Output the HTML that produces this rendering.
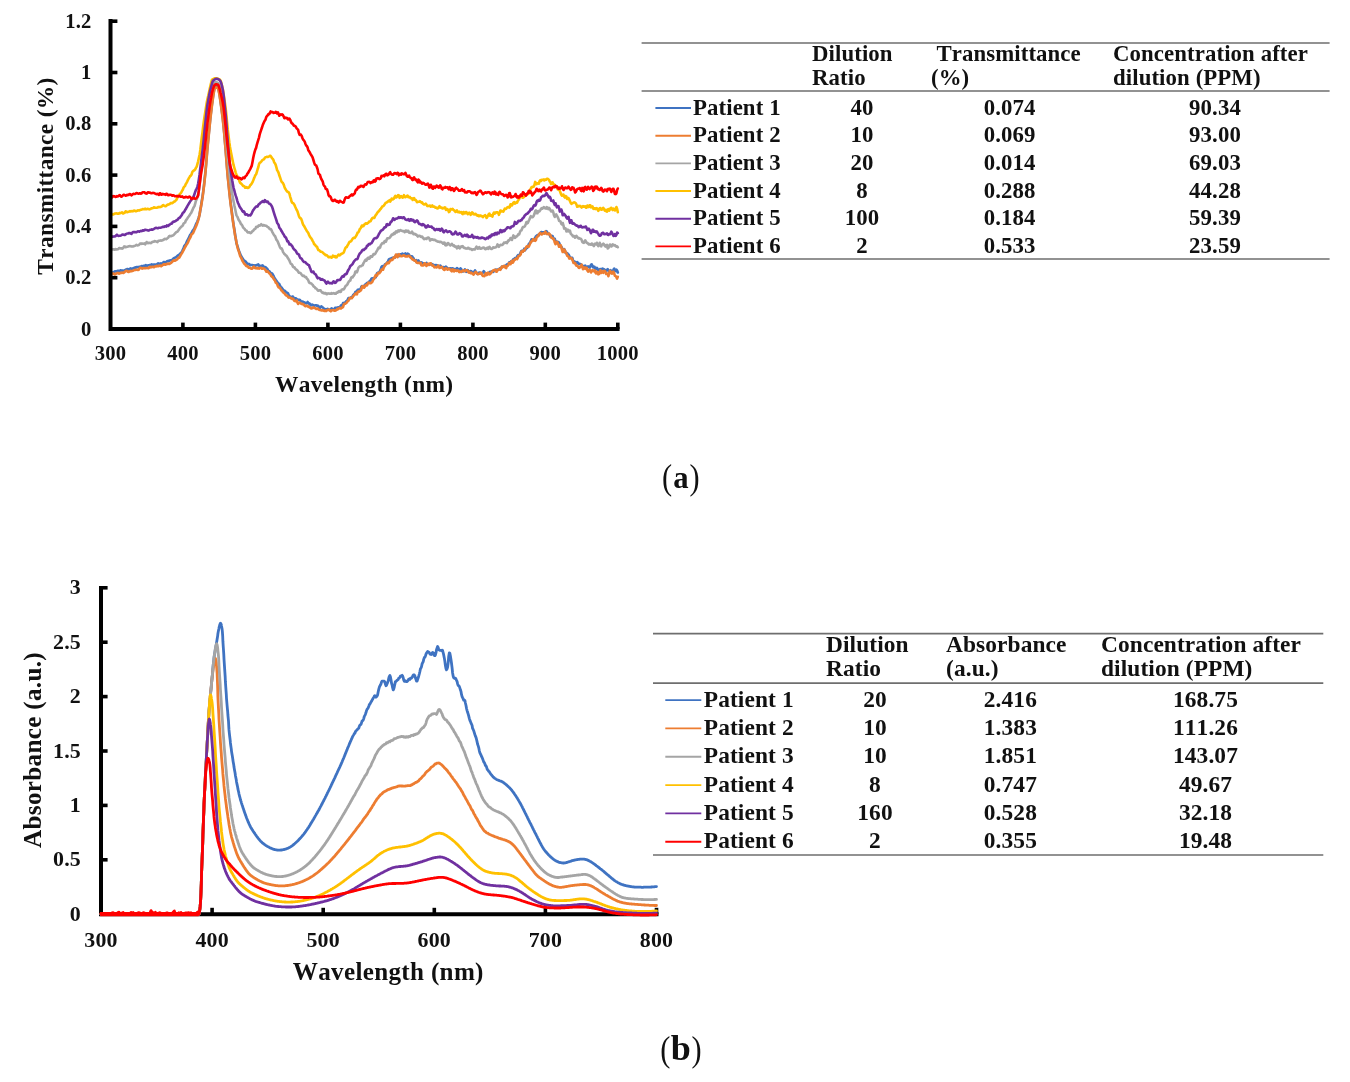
<!DOCTYPE html>
<html><head><meta charset="utf-8"><title>Figure</title>
<style>
html,body{margin:0;padding:0;background:#fff;}
body{width:1350px;height:1082px;overflow:hidden;position:relative;font-family:"Liberation Serif",serif;}
svg{position:absolute;left:0;top:0;display:block;filter:blur(0.4px);}
text{font-family:"Liberation Serif",serif;fill:#111;}
.b{font-weight:bold;}
text{font-kerning:none;}
.ax{font-weight:bold;font-size:20.6px;letter-spacing:0.2px;}
.axb{font-weight:bold;font-size:21.9px;letter-spacing:0.2px;}
.ttl{font-weight:bold;font-size:23.4px;letter-spacing:0.33px;}
.ttlb{font-weight:bold;font-size:25.1px;letter-spacing:0.33px;}
.tb{font-weight:bold;font-size:22.8px;letter-spacing:0.1px;}
.tbb{font-weight:bold;font-size:23.4px;letter-spacing:0.1px;}
.cap{font-size:32px;}
.ln{fill:none;stroke-linejoin:round;stroke-linecap:round;}
</style></head><body>
<svg width="1350" height="1082" viewBox="0 0 1350 1082">
<rect x="0" y="0" width="1350" height="1082" fill="#ffffff"/>
<g id="chart-a">
<polyline class="ln" stroke="#3F73C2" stroke-width="2.6" points="110.4,272.5 111.1,272.4 111.8,272.6 112.6,272.5 113.3,272.3 114.0,272.0 114.7,271.3 115.5,271.3 116.2,271.6 116.9,271.2 117.6,270.8 118.4,270.8 119.1,271.0 119.8,270.9 120.5,270.3 121.3,270.5 122.0,270.6 122.7,270.6 123.4,270.7 124.2,270.5 124.9,270.1 125.6,269.8 126.3,269.6 127.1,269.1 127.8,269.0 128.5,269.6 129.2,269.5 130.0,268.7 130.7,268.4 131.4,268.7 132.1,268.7 132.9,268.4 133.6,268.3 134.3,267.7 135.0,267.5 135.8,267.7 136.5,267.1 137.2,267.1 137.9,267.2 138.7,266.9 139.4,266.7 140.1,267.0 140.8,266.8 141.6,266.0 142.3,266.3 143.0,266.4 143.7,265.8 144.5,266.1 145.2,265.5 145.9,265.0 146.6,265.8 147.4,265.8 148.1,265.3 148.8,265.2 149.5,265.1 150.3,265.0 151.0,264.9 151.7,264.4 152.4,264.6 153.2,264.8 153.9,264.6 154.6,264.5 155.3,264.6 156.1,264.7 156.8,264.3 157.5,263.8 158.2,263.3 159.0,263.7 159.7,264.1 160.4,263.4 161.1,263.6 161.9,263.7 162.6,263.0 163.3,262.4 164.0,262.0 164.8,262.2 165.5,262.3 166.2,262.0 166.9,261.3 167.7,261.1 168.4,261.3 169.1,260.8 169.8,260.5 170.6,260.3 171.3,260.2 172.0,259.8 172.7,259.3 173.5,258.6 174.2,257.9 174.9,257.7 175.6,257.3 176.4,256.9 177.1,256.2 177.8,255.6 178.5,255.1 179.3,254.7 180.0,253.9 180.7,253.1 181.4,252.7 182.2,251.1 182.9,249.6 183.6,248.2 184.3,246.0 185.1,244.9 185.8,244.3 186.5,242.5 187.2,240.8 188.0,239.4 188.7,238.2 189.4,236.5 190.1,234.9 190.9,234.0 191.6,232.9 192.3,231.3 193.0,230.4 193.8,229.1 194.5,227.8 195.2,226.2 195.9,224.4 196.7,223.0 197.4,221.4 198.1,219.4 198.8,217.3 199.6,214.5 200.3,210.2 201.0,206.3 201.7,201.4 202.5,196.6 203.2,191.4 203.9,185.9 204.6,179.4 205.4,171.8 206.1,163.8 206.8,155.2 207.5,146.5 208.3,138.5 209.0,131.3 209.7,124.3 210.4,117.4 211.2,110.6 211.9,104.5 212.6,99.5 213.3,94.6 214.1,90.0 214.8,86.9 215.5,86.1 216.2,86.1 217.0,86.3 217.7,86.5 218.4,88.3 219.1,92.0 219.9,96.7 220.6,101.6 221.3,106.5 222.0,112.1 222.8,118.4 223.5,125.1 224.2,132.4 224.9,140.9 225.7,150.1 226.4,159.1 227.1,167.8 227.8,176.3 228.6,183.9 229.3,190.6 230.0,197.3 230.7,203.4 231.5,209.1 232.2,214.8 232.9,220.1 233.6,225.0 234.4,229.6 235.1,234.5 235.8,239.0 236.5,243.3 237.3,245.7 238.0,247.9 238.7,250.3 239.4,252.0 240.2,254.0 240.9,255.7 241.6,256.8 242.3,258.0 243.1,259.4 243.8,260.3 244.5,260.7 245.2,261.2 246.0,262.0 246.7,263.0 247.4,264.2 248.1,264.2 248.9,263.8 249.6,264.6 250.3,265.1 251.0,265.0 251.8,265.0 252.5,265.0 253.2,265.5 253.9,265.3 254.7,265.5 255.4,265.8 256.1,265.2 256.8,265.2 257.6,264.7 258.3,264.4 259.0,265.5 259.7,266.7 260.5,266.0 261.2,265.7 261.9,266.0 262.6,265.4 263.4,266.2 264.1,267.6 264.8,267.4 265.5,267.1 266.3,267.9 267.0,268.5 267.7,269.5 268.4,270.8 269.2,271.2 269.9,271.8 270.6,273.0 271.3,273.2 272.1,273.5 272.8,274.5 273.5,275.9 274.2,277.4 275.0,278.6 275.7,279.9 276.4,280.6 277.1,281.8 277.9,282.9 278.6,283.6 279.3,284.1 280.0,285.7 280.8,287.1 281.5,287.4 282.2,288.5 282.9,289.7 283.7,290.6 284.4,290.5 285.1,291.0 285.8,291.9 286.6,292.6 287.3,292.8 288.0,293.3 288.7,295.2 289.5,296.0 290.2,296.5 290.9,298.0 291.6,297.9 292.3,296.5 293.1,296.8 293.8,298.2 294.5,299.0 295.2,298.4 296.0,298.3 296.7,299.1 297.4,299.5 298.1,299.9 298.9,299.8 299.6,299.9 300.3,300.4 301.0,301.4 301.8,301.5 302.5,301.6 303.2,301.7 303.9,302.2 304.7,302.9 305.4,302.7 306.1,303.4 306.8,302.9 307.6,302.0 308.3,303.2 309.0,303.7 309.7,303.5 310.5,305.2 311.2,305.4 311.9,304.6 312.6,304.8 313.4,305.5 314.1,305.8 314.8,305.6 315.5,305.2 316.3,305.2 317.0,305.9 317.7,305.6 318.4,306.1 319.2,307.1 319.9,307.9 320.6,307.3 321.3,306.4 322.1,307.0 322.8,307.5 323.5,308.2 324.2,308.7 325.0,309.1 325.7,309.6 326.4,309.7 327.1,309.0 327.9,308.9 328.6,309.5 329.3,310.0 330.0,310.1 330.8,309.0 331.5,308.4 332.2,308.9 332.9,309.1 333.7,309.4 334.4,309.0 335.1,307.9 335.8,307.8 336.6,308.0 337.3,307.7 338.0,307.2 338.7,307.6 339.5,307.4 340.2,306.6 340.9,305.6 341.6,305.1 342.4,304.7 343.1,303.1 343.8,302.9 344.5,303.2 345.3,302.4 346.0,301.4 346.7,301.3 347.4,300.4 348.2,298.4 348.9,298.0 349.6,298.4 350.3,298.1 351.1,297.3 351.8,296.8 352.5,296.8 353.2,295.0 354.0,294.3 354.7,293.7 355.4,291.9 356.1,291.6 356.9,291.4 357.6,290.0 358.3,289.6 359.0,290.2 359.8,290.1 360.5,289.1 361.2,287.1 361.9,286.1 362.7,286.6 363.4,286.9 364.1,286.0 364.8,284.9 365.6,284.2 366.3,283.7 367.0,283.0 367.7,282.7 368.5,282.3 369.2,281.6 369.9,281.0 370.6,280.4 371.4,278.8 372.1,278.2 372.8,278.4 373.5,278.8 374.3,277.9 375.0,277.3 375.7,277.3 376.4,275.0 377.2,273.1 377.9,272.7 378.6,272.9 379.3,272.1 380.1,270.6 380.8,269.2 381.5,266.8 382.2,266.1 383.0,266.7 383.7,266.6 384.4,265.4 385.1,264.2 385.9,264.0 386.6,263.2 387.3,262.5 388.0,261.3 388.8,259.5 389.5,258.9 390.2,259.1 390.9,258.7 391.7,258.0 392.4,258.0 393.1,257.6 393.8,257.6 394.6,257.8 395.3,256.4 396.0,255.5 396.7,255.5 397.5,254.6 398.2,255.4 398.9,256.2 399.6,255.1 400.4,254.3 401.1,254.5 401.8,254.0 402.5,253.6 403.3,254.7 404.0,255.3 404.7,254.2 405.4,253.4 406.2,254.9 406.9,254.6 407.6,253.6 408.3,253.9 409.1,254.9 409.8,256.2 410.5,257.1 411.2,256.2 412.0,256.2 412.7,257.3 413.4,258.1 414.1,259.4 414.9,260.5 415.6,261.2 416.3,260.1 417.0,260.9 417.8,261.1 418.5,260.5 419.2,261.9 419.9,262.6 420.7,262.5 421.4,262.4 422.1,262.7 422.8,263.3 423.6,263.3 424.3,263.6 425.0,264.3 425.7,264.0 426.5,262.9 427.2,263.9 427.9,264.5 428.6,264.2 429.4,264.9 430.1,264.2 430.8,264.1 431.5,263.9 432.3,264.2 433.0,265.0 433.7,264.8 434.4,265.6 435.2,265.3 435.9,265.1 436.6,265.3 437.3,265.3 438.1,266.4 438.8,266.6 439.5,266.1 440.2,265.6 441.0,266.3 441.7,267.0 442.4,267.6 443.1,267.3 443.9,267.1 444.6,268.6 445.3,268.2 446.0,266.6 446.8,267.6 447.5,269.0 448.2,268.6 448.9,268.8 449.7,268.3 450.4,268.2 451.1,269.0 451.8,268.3 452.6,268.4 453.3,268.6 454.0,268.9 454.7,269.9 455.5,270.6 456.2,268.9 456.9,268.1 457.6,269.2 458.4,269.1 459.1,269.3 459.8,269.4 460.5,268.4 461.3,269.2 462.0,271.3 462.7,271.4 463.4,271.4 464.2,270.5 464.9,269.3 465.6,270.4 466.3,271.9 467.1,271.6 467.8,270.1 468.5,271.7 469.2,272.3 470.0,271.3 470.7,271.1 471.4,271.2 472.1,272.2 472.9,272.5 473.6,273.0 474.3,271.4 475.0,270.4 475.7,271.7 476.5,272.8 477.2,273.9 477.9,273.7 478.6,272.7 479.4,272.6 480.1,272.8 480.8,273.5 481.5,273.6 482.3,273.0 483.0,272.3 483.7,271.1 484.4,272.0 485.2,273.6 485.9,273.5 486.6,273.3 487.3,273.6 488.1,273.1 488.8,273.1 489.5,272.5 490.2,271.7 491.0,271.7 491.7,271.4 492.4,271.8 493.1,272.0 493.9,271.3 494.6,270.8 495.3,270.1 496.0,269.5 496.8,270.1 497.5,269.8 498.2,269.4 498.9,269.5 499.7,268.5 500.4,269.1 501.1,268.6 501.8,266.8 502.6,266.6 503.3,266.6 504.0,266.3 504.7,266.3 505.5,265.8 506.2,265.1 506.9,264.4 507.6,264.4 508.4,263.8 509.1,262.5 509.8,262.2 510.5,262.1 511.3,261.1 512.0,261.4 512.7,261.0 513.4,259.2 514.2,258.8 514.9,258.1 515.6,258.2 516.3,258.0 517.1,256.5 517.8,255.4 518.5,255.0 519.2,255.5 520.0,254.6 520.7,252.1 521.4,251.0 522.1,250.8 522.9,251.7 523.6,250.5 524.3,248.7 525.0,250.3 525.8,249.1 526.5,247.7 527.2,248.0 527.9,246.7 528.7,244.3 529.4,243.3 530.1,243.2 530.8,241.0 531.6,239.3 532.3,239.7 533.0,240.1 533.7,240.1 534.5,239.7 535.2,237.8 535.9,236.4 536.6,236.0 537.4,235.0 538.1,235.0 538.8,235.3 539.5,233.8 540.3,232.9 541.0,232.3 541.7,232.0 542.4,232.5 543.2,232.2 543.9,232.4 544.6,233.5 545.3,232.3 546.1,231.2 546.8,231.5 547.5,232.9 548.2,233.8 549.0,233.7 549.7,234.7 550.4,236.7 551.1,237.2 551.9,235.8 552.6,236.2 553.3,238.1 554.0,239.1 554.8,238.9 555.5,241.7 556.2,243.1 556.9,241.7 557.7,242.0 558.4,242.1 559.1,242.7 559.8,244.5 560.6,246.1 561.3,246.6 562.0,248.2 562.7,249.6 563.5,249.5 564.2,249.0 564.9,250.5 565.6,252.8 566.4,253.3 567.1,253.0 567.8,253.9 568.5,254.5 569.3,255.9 570.0,257.7 570.7,257.9 571.4,257.9 572.2,257.7 572.9,260.0 573.6,262.1 574.3,261.4 575.1,261.8 575.8,263.7 576.5,263.0 577.2,262.0 578.0,262.9 578.7,264.0 579.4,263.9 580.1,264.0 580.9,264.3 581.6,265.0 582.3,266.6 583.0,266.0 583.8,266.1 584.5,266.0 585.2,265.5 585.9,266.8 586.7,267.1 587.4,266.8 588.1,266.4 588.8,266.7 589.6,267.8 590.3,266.6 591.0,264.8 591.7,264.3 592.5,266.1 593.2,267.5 593.9,266.6 594.6,267.0 595.4,268.9 596.1,268.9 596.8,267.9 597.5,268.7 598.3,270.4 599.0,271.0 599.7,269.4 600.4,269.0 601.2,269.7 601.9,269.0 602.6,268.6 603.3,269.1 604.1,269.3 604.8,269.8 605.5,270.6 606.2,270.8 607.0,269.8 607.7,269.2 608.4,270.8 609.1,271.2 609.9,270.9 610.6,270.2 611.3,271.4 612.0,272.9 612.8,272.1 613.5,269.5 614.2,268.6 614.9,270.8 615.7,271.1 616.4,269.6 617.1,270.5 617.8,272.5"/>
<polyline class="ln" stroke="#ED7D31" stroke-width="2.6" points="110.4,274.5 111.1,274.7 111.8,274.2 112.6,273.4 113.3,273.6 114.0,273.8 114.7,274.4 115.5,274.2 116.2,273.5 116.9,273.4 117.6,273.0 118.4,273.1 119.1,273.7 119.8,273.3 120.5,272.9 121.3,272.9 122.0,272.8 122.7,272.6 123.4,273.0 124.2,272.4 124.9,271.5 125.6,271.4 126.3,270.7 127.1,270.9 127.8,271.8 128.5,272.0 129.2,271.6 130.0,271.4 130.7,270.9 131.4,271.2 132.1,271.0 132.9,270.7 133.6,270.5 134.3,270.0 135.0,270.0 135.8,269.9 136.5,269.8 137.2,269.8 137.9,270.0 138.7,269.7 139.4,268.6 140.1,267.9 140.8,267.9 141.6,268.1 142.3,268.6 143.0,268.3 143.7,268.0 144.5,268.3 145.2,268.3 145.9,268.1 146.6,268.0 147.4,268.0 148.1,268.1 148.8,268.1 149.5,267.0 150.3,266.8 151.0,267.4 151.7,267.1 152.4,266.7 153.2,267.1 153.9,267.3 154.6,266.6 155.3,266.3 156.1,266.4 156.8,265.9 157.5,266.0 158.2,266.3 159.0,266.1 159.7,265.5 160.4,265.8 161.1,266.3 161.9,265.7 162.6,265.1 163.3,264.6 164.0,264.2 164.8,264.7 165.5,264.7 166.2,264.1 166.9,264.2 167.7,263.7 168.4,263.6 169.1,264.0 169.8,263.6 170.6,263.1 171.3,262.8 172.0,261.9 172.7,261.3 173.5,260.5 174.2,260.2 174.9,260.7 175.6,260.4 176.4,259.8 177.1,259.4 177.8,258.4 178.5,257.7 179.3,257.6 180.0,256.4 180.7,254.9 181.4,253.9 182.2,252.7 182.9,251.4 183.6,250.2 184.3,248.7 185.1,247.2 185.8,246.0 186.5,244.6 187.2,243.7 188.0,242.4 188.7,240.6 189.4,239.0 190.1,237.9 190.9,236.1 191.6,234.2 192.3,233.8 193.0,233.1 193.8,231.5 194.5,229.6 195.2,228.3 195.9,226.6 196.7,224.8 197.4,222.7 198.1,220.6 198.8,218.1 199.6,214.4 200.3,209.9 201.0,206.5 201.7,202.7 202.5,197.9 203.2,192.6 203.9,187.2 204.6,180.9 205.4,173.2 206.1,165.1 206.8,156.7 207.5,148.2 208.3,140.2 209.0,132.9 209.7,125.7 210.4,118.6 211.2,111.9 211.9,106.1 212.6,100.9 213.3,95.8 214.1,91.0 214.8,87.9 215.5,87.5 216.2,87.5 217.0,87.6 217.7,88.1 218.4,89.7 219.1,93.1 219.9,97.7 220.6,102.7 221.3,107.7 222.0,113.3 222.8,119.5 223.5,126.3 224.2,133.5 224.9,141.9 225.7,151.2 226.4,160.4 227.1,169.3 227.8,177.5 228.6,184.9 229.3,192.1 230.0,198.5 230.7,204.6 231.5,210.5 232.2,215.9 232.9,221.1 233.6,225.7 234.4,231.0 235.1,235.5 235.8,238.7 236.5,242.6 237.3,246.5 238.0,249.3 238.7,250.9 239.4,253.4 240.2,256.1 240.9,257.3 241.6,258.7 242.3,260.5 243.1,261.9 243.8,263.0 244.5,264.0 245.2,264.6 246.0,265.7 246.7,266.3 247.4,266.0 248.1,266.9 248.9,267.8 249.6,267.5 250.3,268.2 251.0,268.6 251.8,268.8 252.5,268.4 253.2,267.1 253.9,266.7 254.7,267.7 255.4,268.3 256.1,268.1 256.8,268.4 257.6,267.8 258.3,268.4 259.0,268.6 259.7,268.1 260.5,267.9 261.2,267.8 261.9,268.7 262.6,268.7 263.4,268.3 264.1,268.8 264.8,269.3 265.5,270.0 266.3,271.7 267.0,271.8 267.7,271.3 268.4,272.3 269.2,273.3 269.9,273.7 270.6,274.6 271.3,276.1 272.1,276.9 272.8,277.1 273.5,278.6 274.2,279.7 275.0,280.6 275.7,282.7 276.4,283.1 277.1,283.9 277.9,286.2 278.6,287.4 279.3,287.5 280.0,287.9 280.8,289.4 281.5,290.5 282.2,290.8 282.9,292.0 283.7,292.8 284.4,293.3 285.1,294.3 285.8,295.2 286.6,295.5 287.3,295.9 288.0,296.8 288.7,297.6 289.5,297.4 290.2,297.6 290.9,298.2 291.6,298.3 292.3,298.9 293.1,298.8 293.8,299.9 294.5,300.9 295.2,301.1 296.0,301.0 296.7,300.4 297.4,302.5 298.1,304.0 298.9,303.1 299.6,302.6 300.3,302.9 301.0,303.6 301.8,304.0 302.5,303.9 303.2,304.4 303.9,304.5 304.7,305.7 305.4,306.2 306.1,305.9 306.8,306.0 307.6,305.8 308.3,306.9 309.0,306.9 309.7,307.2 310.5,308.0 311.2,308.5 311.9,308.4 312.6,307.6 313.4,307.3 314.1,307.9 314.8,308.1 315.5,308.2 316.3,308.9 317.0,308.9 317.7,308.5 318.4,309.1 319.2,309.9 319.9,310.0 320.6,310.0 321.3,310.5 322.1,310.2 322.8,310.1 323.5,310.5 324.2,310.9 325.0,311.0 325.7,310.5 326.4,311.0 327.1,310.2 327.9,309.9 328.6,310.0 329.3,309.6 330.0,310.7 330.8,311.3 331.5,310.6 332.2,310.2 332.9,310.2 333.7,310.1 334.4,310.8 335.1,310.6 335.8,310.5 336.6,310.0 337.3,308.9 338.0,309.2 338.7,308.7 339.5,307.8 340.2,308.0 340.9,308.6 341.6,307.9 342.4,307.5 343.1,306.9 343.8,304.4 344.5,303.8 345.3,303.7 346.0,303.2 346.7,302.7 347.4,301.5 348.2,301.0 348.9,299.9 349.6,298.3 350.3,297.8 351.1,298.1 351.8,298.1 352.5,297.2 353.2,296.2 354.0,295.4 354.7,294.6 355.4,293.5 356.1,293.9 356.9,294.3 357.6,292.1 358.3,291.5 359.0,291.7 359.8,291.0 360.5,290.7 361.2,289.8 361.9,287.1 362.7,286.0 363.4,287.3 364.1,287.7 364.8,286.8 365.6,285.2 366.3,284.9 367.0,285.3 367.7,283.9 368.5,282.5 369.2,282.7 369.9,283.2 370.6,283.3 371.4,282.5 372.1,282.3 372.8,280.8 373.5,279.2 374.3,278.6 375.0,276.5 375.7,275.2 376.4,276.0 377.2,275.3 377.9,273.1 378.6,273.1 379.3,273.3 380.1,272.0 380.8,271.4 381.5,269.6 382.2,269.2 383.0,269.7 383.7,267.7 384.4,266.4 385.1,265.4 385.9,264.4 386.6,263.9 387.3,262.7 388.0,263.2 388.8,263.1 389.5,261.7 390.2,261.0 390.9,259.8 391.7,259.9 392.4,259.9 393.1,258.4 393.8,257.4 394.6,257.9 395.3,256.6 396.0,254.5 396.7,256.3 397.5,257.2 398.2,254.7 398.9,254.2 399.6,255.4 400.4,255.9 401.1,256.2 401.8,256.1 402.5,256.0 403.3,255.4 404.0,255.2 404.7,255.9 405.4,256.4 406.2,256.2 406.9,256.2 407.6,256.5 408.3,255.7 409.1,255.8 409.8,256.6 410.5,257.1 411.2,258.0 412.0,258.8 412.7,259.6 413.4,259.6 414.1,260.6 414.9,260.8 415.6,260.5 416.3,262.2 417.0,262.8 417.8,263.0 418.5,262.9 419.2,263.1 419.9,262.7 420.7,263.0 421.4,265.3 422.1,265.5 422.8,265.5 423.6,265.2 424.3,263.5 425.0,263.3 425.7,264.9 426.5,266.0 427.2,264.2 427.9,263.7 428.6,264.9 429.4,264.6 430.1,263.2 430.8,263.2 431.5,264.8 432.3,265.6 433.0,265.4 433.7,266.2 434.4,267.4 435.2,267.1 435.9,267.2 436.6,267.4 437.3,266.9 438.1,265.5 438.8,266.3 439.5,268.0 440.2,267.7 441.0,267.4 441.7,266.8 442.4,267.5 443.1,268.8 443.9,269.7 444.6,269.9 445.3,268.6 446.0,268.1 446.8,269.2 447.5,269.6 448.2,269.1 448.9,268.6 449.7,269.2 450.4,269.8 451.1,270.7 451.8,271.4 452.6,269.3 453.3,270.1 454.0,271.5 454.7,270.0 455.5,270.2 456.2,271.0 456.9,270.9 457.6,270.5 458.4,270.6 459.1,271.9 459.8,272.1 460.5,271.5 461.3,271.9 462.0,271.3 462.7,270.6 463.4,270.3 464.2,271.2 464.9,271.2 465.6,270.2 466.3,270.2 467.1,270.2 467.8,271.1 468.5,272.3 469.2,271.7 470.0,272.7 470.7,273.2 471.4,272.7 472.1,273.2 472.9,274.2 473.6,274.6 474.3,273.6 475.0,272.5 475.7,271.9 476.5,272.7 477.2,273.6 477.9,274.3 478.6,274.0 479.4,273.8 480.1,273.7 480.8,272.5 481.5,273.0 482.3,275.3 483.0,275.9 483.7,276.0 484.4,276.2 485.2,274.3 485.9,273.2 486.6,275.1 487.3,274.7 488.1,272.6 488.8,273.1 489.5,274.3 490.2,274.0 491.0,273.1 491.7,272.1 492.4,271.2 493.1,270.5 493.9,270.2 494.6,269.7 495.3,269.8 496.0,271.5 496.8,271.7 497.5,270.1 498.2,269.9 498.9,269.2 499.7,268.8 500.4,269.8 501.1,268.2 501.8,266.7 502.6,267.2 503.3,266.7 504.0,265.7 504.7,265.7 505.5,267.8 506.2,268.1 506.9,266.2 507.6,266.0 508.4,265.0 509.1,263.0 509.8,263.0 510.5,264.2 511.3,261.9 512.0,260.8 512.7,262.7 513.4,261.7 514.2,259.9 514.9,260.0 515.6,259.2 516.3,258.4 517.1,259.1 517.8,257.9 518.5,256.0 519.2,255.9 520.0,255.4 520.7,254.3 521.4,251.7 522.1,251.3 522.9,251.6 523.6,250.3 524.3,250.7 525.0,249.3 525.8,247.8 526.5,246.6 527.2,246.2 527.9,246.9 528.7,246.8 529.4,245.2 530.1,243.6 530.8,242.1 531.6,241.4 532.3,240.9 533.0,239.2 533.7,239.1 534.5,240.6 535.2,240.9 535.9,240.2 536.6,237.5 537.4,236.4 538.1,236.2 538.8,234.6 539.5,233.8 540.3,233.0 541.0,234.0 541.7,234.5 542.4,233.9 543.2,233.3 543.9,233.5 544.6,233.4 545.3,231.6 546.1,232.9 546.8,234.0 547.5,233.7 548.2,234.2 549.0,233.5 549.7,234.4 550.4,235.2 551.1,237.3 551.9,237.9 552.6,238.0 553.3,239.2 554.0,239.4 554.8,242.6 555.5,244.2 556.2,242.8 556.9,241.8 557.7,242.7 558.4,244.6 559.1,246.8 559.8,246.8 560.6,245.2 561.3,247.2 562.0,249.8 562.7,252.0 563.5,252.0 564.2,249.4 564.9,250.4 565.6,252.3 566.4,253.2 567.1,255.7 567.8,255.8 568.5,256.7 569.3,258.6 570.0,258.1 570.7,257.9 571.4,258.4 572.2,259.4 572.9,261.0 573.6,263.0 574.3,262.9 575.1,263.0 575.8,264.7 576.5,265.7 577.2,265.5 578.0,266.5 578.7,267.7 579.4,267.9 580.1,267.1 580.9,265.8 581.6,264.7 582.3,266.6 583.0,269.2 583.8,267.5 584.5,267.5 585.2,268.8 585.9,267.6 586.7,267.9 587.4,270.5 588.1,271.6 588.8,270.6 589.6,269.5 590.3,271.2 591.0,272.5 591.7,271.1 592.5,270.0 593.2,271.1 593.9,271.3 594.6,270.4 595.4,272.5 596.1,273.4 596.8,271.7 597.5,272.0 598.3,274.3 599.0,274.1 599.7,271.8 600.4,270.3 601.2,272.9 601.9,272.1 602.6,271.3 603.3,272.8 604.1,270.9 604.8,271.0 605.5,272.0 606.2,274.0 607.0,273.7 607.7,273.5 608.4,276.3 609.1,273.4 609.9,270.8 610.6,271.8 611.3,273.3 612.0,273.7 612.8,271.7 613.5,271.8 614.2,273.3 614.9,275.8 615.7,276.1 616.4,277.1 617.1,278.6 617.8,276.8"/>
<polyline class="ln" stroke="#A5A5A5" stroke-width="2.6" points="110.4,250.3 111.1,249.6 111.8,249.0 112.6,249.5 113.3,249.3 114.0,249.4 114.7,249.7 115.5,249.1 116.2,249.2 116.9,249.4 117.6,249.3 118.4,249.0 119.1,248.0 119.8,248.1 120.5,248.4 121.3,248.3 122.0,248.6 122.7,248.5 123.4,247.6 124.2,246.4 124.9,246.6 125.6,247.3 126.3,247.1 127.1,246.8 127.8,246.7 128.5,246.3 129.2,246.3 130.0,246.1 130.7,246.2 131.4,246.4 132.1,246.5 132.9,246.4 133.6,246.2 134.3,245.9 135.0,245.7 135.8,245.4 136.5,244.9 137.2,245.2 137.9,245.4 138.7,245.1 139.4,244.5 140.1,243.6 140.8,243.5 141.6,243.9 142.3,243.6 143.0,243.8 143.7,243.7 144.5,243.3 145.2,244.4 145.9,243.3 146.6,242.0 147.4,242.9 148.1,243.2 148.8,242.8 149.5,242.7 150.3,243.0 151.0,243.1 151.7,242.4 152.4,242.0 153.2,241.7 153.9,241.6 154.6,241.1 155.3,241.2 156.1,241.6 156.8,241.8 157.5,242.1 158.2,241.0 159.0,240.7 159.7,240.8 160.4,240.4 161.1,240.6 161.9,240.5 162.6,240.1 163.3,240.0 164.0,239.4 164.8,238.8 165.5,239.0 166.2,239.1 166.9,238.6 167.7,238.0 168.4,237.4 169.1,236.2 169.8,235.9 170.6,236.2 171.3,236.1 172.0,235.8 172.7,235.5 173.5,235.1 174.2,234.4 174.9,233.7 175.6,232.7 176.4,232.1 177.1,231.8 177.8,231.4 178.5,230.2 179.3,229.0 180.0,228.2 180.7,227.3 181.4,226.6 182.2,226.0 182.9,225.3 183.6,223.5 184.3,223.0 185.1,222.5 185.8,220.5 186.5,219.6 187.2,218.7 188.0,217.3 188.7,216.5 189.4,215.5 190.1,214.3 190.9,213.3 191.6,211.9 192.3,210.4 193.0,208.7 193.8,207.1 194.5,206.0 195.2,203.7 195.9,200.9 196.7,199.2 197.4,197.2 198.1,194.7 198.8,190.6 199.6,185.1 200.3,179.4 201.0,172.0 201.7,163.8 202.5,156.5 203.2,149.6 203.9,143.0 204.6,136.6 205.4,129.8 206.1,123.3 206.8,117.1 207.5,110.9 208.3,105.7 209.0,101.5 209.7,97.8 210.4,94.3 211.2,91.1 211.9,88.6 212.6,86.6 213.3,84.9 214.1,83.3 214.8,82.1 215.5,82.3 216.2,82.4 217.0,82.5 217.7,82.9 218.4,83.4 219.1,84.8 219.9,87.0 220.6,89.1 221.3,91.7 222.0,94.8 222.8,99.8 223.5,106.9 224.2,115.1 224.9,123.7 225.7,132.6 226.4,141.4 227.1,149.3 227.8,156.3 228.6,163.4 229.3,170.1 230.0,176.8 230.7,183.4 231.5,189.1 232.2,193.7 232.9,197.7 233.6,201.5 234.4,205.6 235.1,208.8 235.8,212.2 236.5,215.4 237.3,216.6 238.0,218.2 238.7,220.0 239.4,220.9 240.2,222.2 240.9,224.0 241.6,224.6 242.3,225.5 243.1,227.4 243.8,228.2 244.5,228.7 245.2,229.9 246.0,230.6 246.7,230.8 247.4,232.1 248.1,232.5 248.9,232.2 249.6,232.5 250.3,233.1 251.0,233.0 251.8,231.9 252.5,231.1 253.2,230.9 253.9,229.8 254.7,229.1 255.4,228.7 256.1,227.0 256.8,226.7 257.6,227.0 258.3,225.9 259.0,225.4 259.7,225.7 260.5,225.1 261.2,224.2 261.9,225.0 262.6,225.7 263.4,225.1 264.1,225.3 264.8,225.5 265.5,225.8 266.3,225.8 267.0,226.4 267.7,227.1 268.4,227.3 269.2,228.4 269.9,229.2 270.6,229.0 271.3,229.7 272.1,231.6 272.8,232.9 273.5,234.2 274.2,235.4 275.0,236.0 275.7,237.8 276.4,239.8 277.1,240.4 277.9,242.0 278.6,243.8 279.3,245.5 280.0,247.3 280.8,248.4 281.5,248.3 282.2,249.4 282.9,251.7 283.7,252.9 284.4,253.9 285.1,254.5 285.8,255.4 286.6,255.9 287.3,257.0 288.0,258.3 288.7,259.3 289.5,260.7 290.2,262.5 290.9,263.8 291.6,264.1 292.3,265.1 293.1,266.9 293.8,267.3 294.5,267.3 295.2,268.7 296.0,269.3 296.7,270.0 297.4,270.4 298.1,271.5 298.9,272.8 299.6,272.7 300.3,272.9 301.0,273.8 301.8,274.8 302.5,275.6 303.2,276.0 303.9,275.7 304.7,276.7 305.4,277.2 306.1,277.0 306.8,278.5 307.6,279.2 308.3,280.4 309.0,282.3 309.7,283.0 310.5,283.1 311.2,283.4 311.9,284.2 312.6,284.7 313.4,286.2 314.1,286.8 314.8,287.1 315.5,288.3 316.3,288.5 317.0,289.3 317.7,290.4 318.4,290.8 319.2,290.6 319.9,290.2 320.6,290.3 321.3,291.5 322.1,292.5 322.8,292.9 323.5,292.6 324.2,293.5 325.0,293.4 325.7,293.0 326.4,294.2 327.1,294.1 327.9,293.4 328.6,293.5 329.3,293.6 330.0,293.8 330.8,293.7 331.5,293.1 332.2,293.6 332.9,293.4 333.7,293.1 334.4,293.5 335.1,293.8 335.8,293.7 336.6,292.5 337.3,292.7 338.0,292.4 338.7,291.2 339.5,291.0 340.2,291.9 340.9,291.7 341.6,289.8 342.4,289.6 343.1,289.2 343.8,289.4 344.5,288.3 345.3,286.6 346.0,285.6 346.7,285.3 347.4,284.4 348.2,282.6 348.9,281.5 349.6,280.8 350.3,280.5 351.1,277.9 351.8,277.0 352.5,277.5 353.2,276.3 354.0,275.6 354.7,273.9 355.4,271.5 356.1,271.6 356.9,272.4 357.6,270.5 358.3,268.0 359.0,267.2 359.8,266.3 360.5,266.2 361.2,266.1 361.9,265.5 362.7,265.3 363.4,263.3 364.1,262.1 364.8,260.8 365.6,259.7 366.3,260.7 367.0,259.8 367.7,257.9 368.5,257.6 369.2,258.7 369.9,258.2 370.6,256.3 371.4,256.2 372.1,256.7 372.8,255.3 373.5,254.0 374.3,254.5 375.0,253.9 375.7,252.9 376.4,251.7 377.2,250.3 377.9,248.9 378.6,247.7 379.3,248.2 380.1,247.5 380.8,245.2 381.5,244.2 382.2,243.2 383.0,242.9 383.7,243.2 384.4,241.5 385.1,240.8 385.9,241.8 386.6,239.9 387.3,238.4 388.0,238.4 388.8,238.1 389.5,238.0 390.2,237.2 390.9,236.0 391.7,234.5 392.4,235.0 393.1,234.3 393.8,233.2 394.6,233.9 395.3,232.4 396.0,231.5 396.7,232.5 397.5,231.1 398.2,230.5 398.9,231.4 399.6,230.8 400.4,230.1 401.1,230.5 401.8,230.8 402.5,231.1 403.3,231.1 404.0,231.2 404.7,232.2 405.4,230.8 406.2,230.5 406.9,231.7 407.6,230.7 408.3,230.7 409.1,232.7 409.8,232.6 410.5,233.0 411.2,232.9 412.0,231.7 412.7,232.9 413.4,234.2 414.1,233.9 414.9,233.8 415.6,234.7 416.3,234.6 417.0,235.6 417.8,236.5 418.5,235.8 419.2,236.0 419.9,235.8 420.7,236.7 421.4,236.9 422.1,236.5 422.8,237.6 423.6,238.6 424.3,239.2 425.0,238.5 425.7,238.6 426.5,239.0 427.2,238.0 427.9,237.6 428.6,237.6 429.4,238.6 430.1,240.5 430.8,239.9 431.5,239.3 432.3,239.4 433.0,239.8 433.7,240.0 434.4,239.7 435.2,240.2 435.9,240.6 436.6,241.0 437.3,241.4 438.1,241.7 438.8,241.5 439.5,242.1 440.2,241.9 441.0,241.8 441.7,242.5 442.4,242.7 443.1,243.6 443.9,242.5 444.6,242.7 445.3,245.0 446.0,245.4 446.8,245.0 447.5,243.3 448.2,243.1 448.9,244.1 449.7,245.0 450.4,245.5 451.1,244.6 451.8,243.8 452.6,244.9 453.3,245.8 454.0,245.3 454.7,246.5 455.5,246.9 456.2,246.6 456.9,248.3 457.6,247.9 458.4,246.1 459.1,247.0 459.8,248.4 460.5,247.3 461.3,246.3 462.0,246.8 462.7,246.2 463.4,247.3 464.2,247.9 464.9,247.8 465.6,248.5 466.3,248.5 467.1,248.6 467.8,247.8 468.5,247.8 469.2,248.8 470.0,249.1 470.7,248.8 471.4,249.3 472.1,249.9 472.9,249.3 473.6,249.4 474.3,249.4 475.0,249.5 475.7,248.0 476.5,246.7 477.2,247.8 477.9,248.7 478.6,247.5 479.4,247.2 480.1,248.8 480.8,248.8 481.5,248.6 482.3,247.8 483.0,248.0 483.7,247.5 484.4,248.1 485.2,249.1 485.9,249.1 486.6,248.3 487.3,247.7 488.1,248.9 488.8,247.9 489.5,246.8 490.2,248.1 491.0,249.0 491.7,249.0 492.4,248.5 493.1,247.4 493.9,247.5 494.6,247.6 495.3,247.4 496.0,247.2 496.8,246.3 497.5,244.4 498.2,245.9 498.9,246.8 499.7,245.5 500.4,244.8 501.1,244.9 501.8,245.1 502.6,244.8 503.3,243.9 504.0,242.7 504.7,243.0 505.5,242.4 506.2,242.1 506.9,243.1 507.6,242.1 508.4,240.3 509.1,240.4 509.8,239.4 510.5,238.0 511.3,239.0 512.0,239.9 512.7,237.5 513.4,235.4 514.2,236.5 514.9,237.9 515.6,237.3 516.3,236.2 517.1,236.2 517.8,235.1 518.5,234.1 519.2,234.3 520.0,231.9 520.7,230.6 521.4,230.5 522.1,228.7 522.9,227.1 523.6,227.0 524.3,226.6 525.0,226.1 525.8,224.0 526.5,222.0 527.2,223.3 527.9,222.9 528.7,220.8 529.4,219.5 530.1,217.8 530.8,216.2 531.6,217.1 532.3,217.3 533.0,216.9 533.7,215.8 534.5,213.8 535.2,211.1 535.9,210.4 536.6,213.3 537.4,213.3 538.1,211.0 538.8,211.0 539.5,211.3 540.3,210.1 541.0,208.8 541.7,208.2 542.4,208.7 543.2,207.7 543.9,207.1 544.6,207.9 545.3,208.4 546.1,208.6 546.8,207.1 547.5,208.1 548.2,209.1 549.0,207.9 549.7,208.8 550.4,210.0 551.1,211.4 551.9,211.5 552.6,210.6 553.3,212.3 554.0,215.3 554.8,217.0 555.5,215.7 556.2,214.4 556.9,215.8 557.7,217.1 558.4,218.7 559.1,220.8 559.8,221.2 560.6,221.7 561.3,223.8 562.0,224.4 562.7,223.0 563.5,225.6 564.2,228.6 564.9,228.2 565.6,228.5 566.4,231.4 567.1,231.0 567.8,229.7 568.5,231.4 569.3,230.5 570.0,230.7 570.7,233.6 571.4,234.3 572.2,235.2 572.9,236.5 573.6,236.0 574.3,236.4 575.1,237.7 575.8,236.4 576.5,235.9 577.2,237.1 578.0,237.8 578.7,238.5 579.4,238.1 580.1,238.8 580.9,238.8 581.6,239.9 582.3,241.9 583.0,242.5 583.8,242.8 584.5,241.5 585.2,240.3 585.9,241.4 586.7,242.9 587.4,242.8 588.1,243.6 588.8,244.5 589.6,244.0 590.3,244.6 591.0,244.8 591.7,243.5 592.5,244.3 593.2,245.3 593.9,246.0 594.6,243.8 595.4,243.9 596.1,244.3 596.8,242.8 597.5,244.6 598.3,246.2 599.0,245.1 599.7,242.8 600.4,244.6 601.2,246.4 601.9,244.8 602.6,244.4 603.3,243.7 604.1,244.5 604.8,245.8 605.5,246.5 606.2,245.2 607.0,244.8 607.7,248.5 608.4,248.0 609.1,246.3 609.9,244.6 610.6,244.8 611.3,246.5 612.0,245.8 612.8,244.4 613.5,245.0 614.2,245.5 614.9,245.0 615.7,246.2 616.4,246.6 617.1,246.3 617.8,247.2"/>
<polyline class="ln" stroke="#FFC000" stroke-width="2.6" points="110.4,214.7 111.1,213.9 111.8,214.1 112.6,214.5 113.3,214.5 114.0,214.0 114.7,213.6 115.5,213.5 116.2,213.4 116.9,213.5 117.6,213.6 118.4,213.8 119.1,213.5 119.8,212.9 120.5,213.1 121.3,212.7 122.0,212.3 122.7,213.4 123.4,213.4 124.2,212.9 124.9,212.5 125.6,211.3 126.3,211.6 127.1,212.2 127.8,212.0 128.5,211.8 129.2,211.5 130.0,211.1 130.7,211.5 131.4,211.3 132.1,211.1 132.9,211.4 133.6,210.7 134.3,210.5 135.0,211.0 135.8,211.3 136.5,211.0 137.2,210.8 137.9,210.2 138.7,210.4 139.4,210.5 140.1,209.9 140.8,209.7 141.6,209.7 142.3,209.3 143.0,209.1 143.7,209.2 144.5,209.1 145.2,208.7 145.9,209.3 146.6,209.3 147.4,208.7 148.1,209.0 148.8,209.1 149.5,209.4 150.3,209.1 151.0,208.6 151.7,208.2 152.4,208.3 153.2,207.9 153.9,207.3 154.6,207.6 155.3,207.8 156.1,207.8 156.8,207.8 157.5,207.6 158.2,207.1 159.0,206.9 159.7,207.1 160.4,207.0 161.1,206.7 161.9,206.4 162.6,205.5 163.3,205.1 164.0,205.6 164.8,206.0 165.5,206.2 166.2,206.0 166.9,205.1 167.7,204.6 168.4,204.6 169.1,204.3 169.8,204.0 170.6,203.1 171.3,203.0 172.0,203.2 172.7,202.9 173.5,202.1 174.2,201.6 174.9,201.4 175.6,200.7 176.4,199.9 177.1,198.4 177.8,196.2 178.5,195.6 179.3,195.1 180.0,193.7 180.7,193.2 181.4,192.2 182.2,190.7 182.9,189.5 183.6,187.5 184.3,186.6 185.1,185.8 185.8,183.9 186.5,182.9 187.2,181.6 188.0,179.8 188.7,178.5 189.4,177.4 190.1,176.0 190.9,175.7 191.6,174.4 192.3,172.0 193.0,171.2 193.8,170.5 194.5,170.1 195.2,169.3 195.9,167.9 196.7,166.6 197.4,164.2 198.1,161.6 198.8,158.4 199.6,154.7 200.3,149.9 201.0,143.8 201.7,138.1 202.5,132.2 203.2,126.2 203.9,121.0 204.6,116.1 205.4,111.2 206.1,106.6 206.8,102.3 207.5,98.7 208.3,95.6 209.0,92.4 209.7,89.1 210.4,85.8 211.2,82.5 211.9,79.9 212.6,79.3 213.3,79.0 214.1,78.6 214.8,78.3 215.5,78.4 216.2,78.4 217.0,78.4 217.7,78.8 218.4,79.0 219.1,79.2 219.9,79.7 220.6,80.6 221.3,82.7 222.0,85.5 222.8,89.0 223.5,93.4 224.2,97.9 224.9,102.7 225.7,108.7 226.4,115.4 227.1,122.6 227.8,129.9 228.6,136.4 229.3,142.2 230.0,147.0 230.7,151.1 231.5,155.0 232.2,158.6 232.9,161.9 233.6,165.2 234.4,168.0 235.1,170.4 235.8,172.8 236.5,174.9 237.3,176.2 238.0,177.5 238.7,178.8 239.4,181.1 240.2,182.9 240.9,183.4 241.6,184.0 242.3,184.8 243.1,185.9 243.8,186.1 244.5,186.5 245.2,187.8 246.0,187.8 246.7,187.2 247.4,188.0 248.1,187.9 248.9,187.4 249.6,186.4 250.3,185.1 251.0,184.6 251.8,183.5 252.5,182.2 253.2,180.6 253.9,178.6 254.7,176.8 255.4,175.1 256.1,174.4 256.8,172.1 257.6,169.3 258.3,167.3 259.0,164.3 259.7,162.8 260.5,162.3 261.2,161.6 261.9,160.7 262.6,160.0 263.4,159.5 264.1,159.1 264.8,157.9 265.5,157.2 266.3,157.0 267.0,156.8 267.7,156.9 268.4,156.7 269.2,156.4 269.9,155.9 270.6,155.9 271.3,156.9 272.1,158.4 272.8,158.8 273.5,160.1 274.2,162.5 275.0,163.4 275.7,164.8 276.4,167.3 277.1,170.1 277.9,171.4 278.6,172.9 279.3,175.3 280.0,177.2 280.8,179.6 281.5,181.6 282.2,182.3 282.9,183.0 283.7,184.6 284.4,186.7 285.1,188.6 285.8,189.6 286.6,190.9 287.3,191.7 288.0,191.9 288.7,192.4 289.5,193.9 290.2,196.8 290.9,198.9 291.6,201.7 292.3,203.0 293.1,203.0 293.8,203.9 294.5,205.0 295.2,206.8 296.0,208.5 296.7,210.0 297.4,211.1 298.1,213.4 298.9,215.9 299.6,217.6 300.3,218.2 301.0,218.5 301.8,220.4 302.5,223.0 303.2,224.7 303.9,225.7 304.7,227.2 305.4,228.5 306.1,229.6 306.8,231.0 307.6,232.0 308.3,233.0 309.0,234.8 309.7,236.2 310.5,237.5 311.2,238.3 311.9,239.4 312.6,240.9 313.4,242.1 314.1,244.1 314.8,244.5 315.5,245.4 316.3,246.5 317.0,246.7 317.7,248.7 318.4,250.1 319.2,250.3 319.9,250.9 320.6,251.8 321.3,251.7 322.1,251.9 322.8,252.6 323.5,253.3 324.2,253.9 325.0,254.6 325.7,255.3 326.4,255.1 327.1,255.5 327.9,256.4 328.6,257.3 329.3,257.3 330.0,256.8 330.8,257.1 331.5,257.7 332.2,257.3 332.9,255.6 333.7,255.9 334.4,256.8 335.1,256.2 335.8,257.5 336.6,257.3 337.3,256.1 338.0,255.2 338.7,254.6 339.5,255.4 340.2,255.0 340.9,254.1 341.6,253.9 342.4,253.4 343.1,253.1 343.8,252.4 344.5,250.4 345.3,248.3 346.0,247.3 346.7,247.1 347.4,245.7 348.2,244.3 348.9,242.9 349.6,241.8 350.3,241.7 351.1,241.2 351.8,240.1 352.5,239.1 353.2,238.1 354.0,237.7 354.7,238.0 355.4,236.9 356.1,235.9 356.9,234.5 357.6,232.5 358.3,232.5 359.0,231.2 359.8,229.0 360.5,228.5 361.2,227.2 361.9,225.5 362.7,226.4 363.4,226.1 364.1,224.6 364.8,224.3 365.6,223.4 366.3,223.4 367.0,223.7 367.7,223.1 368.5,222.6 369.2,221.6 369.9,221.4 370.6,221.3 371.4,219.5 372.1,218.3 372.8,217.8 373.5,218.0 374.3,217.9 375.0,216.4 375.7,215.2 376.4,214.4 377.2,213.0 377.9,211.9 378.6,211.5 379.3,210.7 380.1,209.4 380.8,208.9 381.5,207.8 382.2,206.5 383.0,206.3 383.7,205.7 384.4,204.8 385.1,203.6 385.9,202.7 386.6,202.5 387.3,201.9 388.0,201.5 388.8,200.7 389.5,200.2 390.2,201.6 390.9,200.3 391.7,198.5 392.4,199.5 393.1,199.3 393.8,198.7 394.6,197.0 395.3,195.8 396.0,197.5 396.7,197.1 397.5,196.1 398.2,195.1 398.9,195.4 399.6,197.8 400.4,197.2 401.1,196.2 401.8,196.5 402.5,197.7 403.3,197.3 404.0,195.2 404.7,196.7 405.4,197.2 406.2,196.5 406.9,196.0 407.6,195.6 408.3,197.3 409.1,197.1 409.8,196.9 410.5,198.1 411.2,198.2 412.0,198.3 412.7,200.0 413.4,198.7 414.1,198.1 414.9,200.0 415.6,199.9 416.3,200.8 417.0,202.2 417.8,201.9 418.5,201.8 419.2,201.8 419.9,201.2 420.7,201.9 421.4,202.6 422.1,202.3 422.8,203.7 423.6,204.2 424.3,204.5 425.0,204.3 425.7,203.7 426.5,204.6 427.2,205.9 427.9,206.1 428.6,205.9 429.4,205.8 430.1,205.6 430.8,206.7 431.5,206.3 432.3,205.5 433.0,206.6 433.7,206.5 434.4,206.5 435.2,207.6 435.9,207.5 436.6,207.9 437.3,208.4 438.1,208.2 438.8,207.1 439.5,206.2 440.2,207.5 441.0,207.6 441.7,207.6 442.4,208.5 443.1,208.1 443.9,208.3 444.6,207.4 445.3,207.6 446.0,210.0 446.8,209.5 447.5,209.1 448.2,210.3 448.9,212.1 449.7,211.4 450.4,209.1 451.1,209.3 451.8,209.4 452.6,208.9 453.3,209.7 454.0,210.3 454.7,210.9 455.5,211.9 456.2,210.8 456.9,210.4 457.6,212.1 458.4,212.3 459.1,211.6 459.8,212.5 460.5,212.2 461.3,212.1 462.0,213.5 462.7,214.1 463.4,212.0 464.2,212.4 464.9,213.5 465.6,212.2 466.3,212.0 467.1,213.4 467.8,214.2 468.5,213.4 469.2,212.7 470.0,213.4 470.7,214.8 471.4,213.8 472.1,212.4 472.9,213.0 473.6,214.3 474.3,214.4 475.0,214.0 475.7,213.9 476.5,215.0 477.2,215.7 477.9,215.1 478.6,216.1 479.4,216.1 480.1,215.4 480.8,216.0 481.5,215.9 482.3,216.7 483.0,217.1 483.7,215.9 484.4,215.6 485.2,215.2 485.9,216.2 486.6,217.9 487.3,216.9 488.1,215.4 488.8,214.0 489.5,213.7 490.2,215.7 491.0,215.4 491.7,215.2 492.4,216.6 493.1,214.0 493.9,212.5 494.6,213.7 495.3,213.3 496.0,212.3 496.8,212.3 497.5,212.4 498.2,213.1 498.9,214.8 499.7,212.8 500.4,210.5 501.1,210.8 501.8,211.4 502.6,211.3 503.3,211.6 504.0,210.2 504.7,208.7 505.5,209.0 506.2,208.7 506.9,207.8 507.6,207.2 508.4,206.9 509.1,207.6 509.8,207.2 510.5,204.2 511.3,204.4 512.0,205.5 512.7,204.0 513.4,202.6 514.2,202.2 514.9,203.6 515.6,203.2 516.3,202.3 517.1,202.7 517.8,200.9 518.5,200.0 519.2,199.2 520.0,196.1 520.7,195.5 521.4,196.7 522.1,197.4 522.9,197.8 523.6,197.3 524.3,196.6 525.0,196.0 525.8,195.5 526.5,194.2 527.2,193.8 527.9,194.1 528.7,193.7 529.4,191.6 530.1,189.8 530.8,188.5 531.6,187.0 532.3,187.2 533.0,186.6 533.7,186.7 534.5,184.7 535.2,181.9 535.9,183.1 536.6,184.2 537.4,183.2 538.1,183.2 538.8,183.7 539.5,181.3 540.3,180.2 541.0,180.8 541.7,179.7 542.4,179.8 543.2,180.1 543.9,179.5 544.6,180.3 545.3,179.5 546.1,179.7 546.8,178.8 547.5,178.8 548.2,179.1 549.0,179.9 549.7,181.4 550.4,182.0 551.1,184.0 551.9,183.4 552.6,182.4 553.3,184.1 554.0,184.4 554.8,184.8 555.5,186.4 556.2,186.3 556.9,186.8 557.7,189.4 558.4,189.4 559.1,188.4 559.8,190.9 560.6,193.0 561.3,194.8 562.0,195.7 562.7,194.7 563.5,194.6 564.2,196.6 564.9,197.5 565.6,196.0 566.4,196.6 567.1,199.0 567.8,198.3 568.5,198.1 569.3,199.7 570.0,201.1 570.7,202.9 571.4,203.8 572.2,203.4 572.9,202.9 573.6,202.6 574.3,202.3 575.1,202.7 575.8,203.3 576.5,204.6 577.2,206.8 578.0,206.6 578.7,205.9 579.4,206.3 580.1,205.9 580.9,206.6 581.6,207.5 582.3,206.8 583.0,206.0 583.8,206.6 584.5,206.5 585.2,206.3 585.9,207.8 586.7,207.7 587.4,205.5 588.1,206.2 588.8,207.0 589.6,205.4 590.3,205.3 591.0,207.3 591.7,207.1 592.5,206.4 593.2,208.5 593.9,208.9 594.6,208.4 595.4,208.3 596.1,209.1 596.8,208.2 597.5,208.7 598.3,210.8 599.0,209.6 599.7,208.3 600.4,208.1 601.2,209.6 601.9,209.7 602.6,208.4 603.3,207.8 604.1,209.3 604.8,210.6 605.5,209.8 606.2,211.3 607.0,211.7 607.7,209.4 608.4,209.1 609.1,210.7 609.9,209.5 610.6,208.0 611.3,207.9 612.0,209.4 612.8,210.2 613.5,208.6 614.2,209.1 614.9,210.5 615.7,209.2 616.4,207.1 617.1,208.7 617.8,212.2"/>
<polyline class="ln" stroke="#7030A0" stroke-width="2.6" points="110.4,237.2 111.1,236.6 111.8,236.5 112.6,236.8 113.3,236.5 114.0,236.5 114.7,236.4 115.5,236.2 116.2,235.2 116.9,234.7 117.6,235.6 118.4,235.9 119.1,235.7 119.8,235.7 120.5,235.7 121.3,235.3 122.0,234.7 122.7,234.5 123.4,234.8 124.2,234.9 124.9,234.9 125.6,234.4 126.3,234.0 127.1,233.5 127.8,233.5 128.5,233.4 129.2,233.0 130.0,233.1 130.7,233.6 131.4,233.9 132.1,232.9 132.9,232.0 133.6,232.0 134.3,232.1 135.0,232.1 135.8,232.3 136.5,232.2 137.2,231.7 137.9,231.3 138.7,231.5 139.4,231.6 140.1,231.2 140.8,230.9 141.6,231.1 142.3,230.6 143.0,230.2 143.7,230.6 144.5,230.1 145.2,229.7 145.9,230.0 146.6,230.0 147.4,230.2 148.1,230.4 148.8,230.6 149.5,230.0 150.3,229.8 151.0,229.8 151.7,229.4 152.4,229.7 153.2,229.4 153.9,228.9 154.6,228.6 155.3,228.0 156.1,227.9 156.8,228.0 157.5,228.2 158.2,228.1 159.0,227.7 159.7,227.8 160.4,227.7 161.1,227.5 161.9,227.2 162.6,226.9 163.3,226.9 164.0,227.0 164.8,226.4 165.5,226.4 166.2,226.6 166.9,225.4 167.7,225.7 168.4,226.0 169.1,224.7 169.8,224.7 170.6,223.7 171.3,223.6 172.0,223.6 172.7,221.9 173.5,221.6 174.2,221.7 174.9,221.3 175.6,221.0 176.4,220.4 177.1,219.9 177.8,219.6 178.5,218.4 179.3,217.9 180.0,217.5 180.7,216.3 181.4,215.6 182.2,214.3 182.9,212.7 183.6,212.5 184.3,211.5 185.1,210.1 185.8,209.1 186.5,207.7 187.2,206.5 188.0,205.0 188.7,203.9 189.4,202.8 190.1,201.5 190.9,200.5 191.6,199.5 192.3,198.8 193.0,197.8 193.8,196.1 194.5,194.0 195.2,191.9 195.9,190.0 196.7,188.6 197.4,186.9 198.1,183.8 198.8,179.6 199.6,174.2 200.3,168.2 201.0,162.9 201.7,156.9 202.5,150.7 203.2,144.3 203.9,137.4 204.6,129.9 205.4,122.5 206.1,115.6 206.8,109.3 207.5,104.3 208.3,99.9 209.0,96.0 209.7,92.6 210.4,89.5 211.2,86.6 211.9,83.9 212.6,81.5 213.3,80.4 214.1,79.9 214.8,79.4 215.5,79.1 216.2,78.8 217.0,78.9 217.7,79.0 218.4,79.3 219.1,79.8 219.9,80.4 220.6,81.4 221.3,83.4 222.0,86.1 222.8,89.8 223.5,94.1 224.2,100.1 224.9,107.3 225.7,114.6 226.4,123.3 227.1,132.9 227.8,142.1 228.6,151.0 229.3,159.3 230.0,165.3 230.7,170.5 231.5,175.6 232.2,180.3 232.9,184.3 233.6,188.1 234.4,190.7 235.1,193.7 235.8,195.9 236.5,197.8 237.3,200.8 238.0,203.0 238.7,204.3 239.4,206.3 240.2,207.6 240.9,208.5 241.6,209.5 242.3,210.9 243.1,211.8 243.8,211.3 244.5,212.3 245.2,214.5 246.0,214.6 246.7,214.3 247.4,214.6 248.1,215.5 248.9,215.4 249.6,215.1 250.3,215.4 251.0,214.5 251.8,213.1 252.5,211.5 253.2,210.1 253.9,209.3 254.7,208.1 255.4,207.3 256.1,206.6 256.8,206.4 257.6,206.6 258.3,204.9 259.0,204.1 259.7,203.9 260.5,202.7 261.2,202.3 261.9,202.0 262.6,201.0 263.4,201.7 264.1,202.0 264.8,200.1 265.5,200.7 266.3,201.9 267.0,201.9 267.7,201.5 268.4,202.7 269.2,203.8 269.9,203.9 270.6,204.4 271.3,205.4 272.1,206.9 272.8,209.0 273.5,211.3 274.2,213.6 275.0,216.1 275.7,218.2 276.4,220.2 277.1,222.7 277.9,223.9 278.6,225.0 279.3,227.7 280.0,228.5 280.8,229.6 281.5,231.1 282.2,232.1 282.9,233.4 283.7,234.5 284.4,236.0 285.1,237.2 285.8,237.2 286.6,239.3 287.3,241.2 288.0,241.1 288.7,242.6 289.5,244.5 290.2,244.1 290.9,244.6 291.6,245.6 292.3,246.2 293.1,248.1 293.8,249.1 294.5,249.7 295.2,250.3 296.0,251.3 296.7,252.7 297.4,253.7 298.1,254.0 298.9,254.5 299.6,256.5 300.3,258.0 301.0,258.2 301.8,259.0 302.5,260.2 303.2,261.1 303.9,261.9 304.7,262.1 305.4,262.3 306.1,263.3 306.8,263.6 307.6,264.5 308.3,264.9 309.0,265.2 309.7,267.4 310.5,269.0 311.2,271.5 311.9,272.2 312.6,271.7 313.4,271.6 314.1,273.2 314.8,274.0 315.5,274.2 316.3,275.5 317.0,277.3 317.7,278.3 318.4,277.8 319.2,278.1 319.9,278.4 320.6,279.7 321.3,279.7 322.1,279.2 322.8,279.8 323.5,280.1 324.2,280.2 325.0,281.1 325.7,282.6 326.4,283.6 327.1,282.5 327.9,281.7 328.6,282.5 329.3,283.2 330.0,283.3 330.8,283.1 331.5,283.2 332.2,283.4 332.9,282.0 333.7,281.3 334.4,282.4 335.1,282.9 335.8,282.6 336.6,281.3 337.3,280.1 338.0,280.2 338.7,280.1 339.5,279.7 340.2,279.9 340.9,278.6 341.6,277.4 342.4,276.2 343.1,276.1 343.8,276.6 344.5,274.9 345.3,274.1 346.0,274.3 346.7,273.7 347.4,271.9 348.2,270.1 348.9,269.2 349.6,267.7 350.3,266.1 351.1,265.4 351.8,264.8 352.5,264.1 353.2,262.8 354.0,261.3 354.7,260.6 355.4,259.9 356.1,259.2 356.9,259.3 357.6,258.7 358.3,256.6 359.0,254.9 359.8,253.5 360.5,252.8 361.2,252.3 361.9,250.8 362.7,249.8 363.4,250.1 364.1,249.9 364.8,248.8 365.6,248.5 366.3,247.6 367.0,245.8 367.7,245.7 368.5,244.5 369.2,243.8 369.9,244.3 370.6,243.6 371.4,243.2 372.1,242.2 372.8,241.0 373.5,239.6 374.3,238.5 375.0,238.3 375.7,238.0 376.4,238.2 377.2,237.3 377.9,236.2 378.6,234.7 379.3,233.4 380.1,232.2 380.8,230.9 381.5,230.5 382.2,230.0 383.0,229.6 383.7,228.6 384.4,227.4 385.1,227.5 385.9,227.0 386.6,224.5 387.3,224.1 388.0,225.1 388.8,224.8 389.5,224.8 390.2,223.1 390.9,221.6 391.7,221.6 392.4,220.0 393.1,218.3 393.8,219.4 394.6,219.9 395.3,218.7 396.0,218.7 396.7,218.5 397.5,218.4 398.2,217.6 398.9,217.2 399.6,217.9 400.4,217.5 401.1,217.2 401.8,217.8 402.5,218.1 403.3,217.4 404.0,217.4 404.7,218.6 405.4,219.5 406.2,219.7 406.9,220.0 407.6,219.8 408.3,219.1 409.1,220.5 409.8,220.8 410.5,219.3 411.2,219.4 412.0,220.5 412.7,219.9 413.4,220.0 414.1,221.7 414.9,222.2 415.6,221.7 416.3,220.8 417.0,220.4 417.8,221.2 418.5,223.0 419.2,223.9 419.9,224.1 420.7,224.1 421.4,225.0 422.1,225.2 422.8,224.1 423.6,224.6 424.3,225.1 425.0,225.9 425.7,227.4 426.5,227.4 427.2,226.1 427.9,225.3 428.6,226.5 429.4,226.6 430.1,226.8 430.8,226.8 431.5,226.5 432.3,227.9 433.0,227.9 433.7,228.3 434.4,229.6 435.2,230.2 435.9,229.7 436.6,229.0 437.3,229.4 438.1,229.8 438.8,229.0 439.5,229.2 440.2,230.7 441.0,229.9 441.7,228.7 442.4,229.4 443.1,231.6 443.9,232.4 444.6,231.0 445.3,230.8 446.0,230.3 446.8,231.4 447.5,232.1 448.2,231.8 448.9,231.5 449.7,231.3 450.4,231.7 451.1,232.2 451.8,233.9 452.6,234.4 453.3,234.0 454.0,234.1 454.7,233.1 455.5,231.7 456.2,232.4 456.9,234.1 457.6,234.5 458.4,234.4 459.1,233.5 459.8,233.0 460.5,233.8 461.3,234.4 462.0,236.2 462.7,236.5 463.4,236.1 464.2,235.4 464.9,234.8 465.6,235.7 466.3,236.1 467.1,234.7 467.8,235.2 468.5,237.0 469.2,236.6 470.0,236.6 470.7,236.9 471.4,236.2 472.1,234.9 472.9,236.6 473.6,237.9 474.3,236.8 475.0,237.0 475.7,237.3 476.5,237.7 477.2,237.1 477.9,237.3 478.6,238.3 479.4,238.1 480.1,238.0 480.8,238.2 481.5,237.6 482.3,237.5 483.0,238.0 483.7,238.0 484.4,238.7 485.2,239.1 485.9,239.0 486.6,238.1 487.3,237.6 488.1,238.3 488.8,237.4 489.5,236.0 490.2,237.2 491.0,236.1 491.7,234.5 492.4,235.5 493.1,234.4 493.9,234.0 494.6,234.9 495.3,233.0 496.0,233.0 496.8,234.4 497.5,232.7 498.2,233.1 498.9,233.4 499.7,232.1 500.4,230.0 501.1,230.6 501.8,232.1 502.6,230.7 503.3,230.3 504.0,231.3 504.7,230.7 505.5,229.4 506.2,229.1 506.9,228.0 507.6,227.2 508.4,227.4 509.1,227.5 509.8,228.2 510.5,228.1 511.3,226.8 512.0,226.5 512.7,226.2 513.4,226.1 514.2,224.6 514.9,221.9 515.6,222.9 516.3,223.7 517.1,223.0 517.8,221.8 518.5,220.8 519.2,221.1 520.0,220.9 520.7,220.3 521.4,220.2 522.1,219.1 522.9,218.2 523.6,217.6 524.3,216.3 525.0,215.2 525.8,214.6 526.5,213.9 527.2,213.8 527.9,213.3 528.7,212.0 529.4,211.5 530.1,210.4 530.8,208.8 531.6,209.4 532.3,208.8 533.0,207.4 533.7,205.7 534.5,205.0 535.2,205.7 535.9,204.6 536.6,201.7 537.4,200.6 538.1,201.1 538.8,199.9 539.5,200.7 540.3,200.0 541.0,197.5 541.7,196.8 542.4,196.1 543.2,195.7 543.9,196.1 544.6,195.8 545.3,195.3 546.1,193.4 546.8,193.4 547.5,195.0 548.2,196.2 549.0,197.5 549.7,196.7 550.4,197.8 551.1,200.6 551.9,200.7 552.6,201.3 553.3,200.5 554.0,202.9 554.8,204.9 555.5,203.3 556.2,205.3 556.9,207.3 557.7,207.0 558.4,206.1 559.1,208.1 559.8,211.6 560.6,211.0 561.3,209.5 562.0,211.4 562.7,215.3 563.5,214.8 564.2,214.0 564.9,215.1 565.6,215.7 566.4,217.6 567.1,218.6 567.8,217.7 568.5,216.8 569.3,220.3 570.0,222.8 570.7,220.3 571.4,220.4 572.2,223.5 572.9,223.7 573.6,223.2 574.3,223.8 575.1,224.6 575.8,225.2 576.5,225.6 577.2,225.5 578.0,226.2 578.7,227.1 579.4,226.9 580.1,226.0 580.9,225.8 581.6,227.3 582.3,227.4 583.0,227.3 583.8,227.1 584.5,227.3 585.2,226.9 585.9,226.5 586.7,228.2 587.4,229.9 588.1,229.3 588.8,228.7 589.6,229.7 590.3,231.6 591.0,233.2 591.7,231.9 592.5,229.9 593.2,229.8 593.9,231.7 594.6,231.7 595.4,231.3 596.1,232.1 596.8,231.5 597.5,232.7 598.3,233.8 599.0,235.1 599.7,235.6 600.4,235.6 601.2,234.6 601.9,233.2 602.6,232.9 603.3,232.8 604.1,234.2 604.8,234.3 605.5,234.1 606.2,233.9 607.0,233.3 607.7,234.7 608.4,234.9 609.1,234.0 609.9,234.3 610.6,233.5 611.3,231.7 612.0,232.8 612.8,234.5 613.5,236.0 614.2,235.8 614.9,234.1 615.7,235.8 616.4,235.0 617.1,232.5 617.8,233.2"/>
<polyline class="ln" stroke="#FF0000" stroke-width="2.6" points="110.4,197.2 111.1,197.3 111.8,197.6 112.6,196.3 113.3,196.1 114.0,196.5 114.7,196.4 115.5,196.9 116.2,196.8 116.9,196.1 117.6,196.4 118.4,196.3 119.1,195.4 119.8,195.1 120.5,196.0 121.3,196.6 122.0,196.5 122.7,195.7 123.4,194.8 124.2,194.8 124.9,195.3 125.6,195.8 126.3,195.4 127.1,194.8 127.8,195.1 128.5,194.9 129.2,194.3 130.0,194.1 130.7,194.6 131.4,195.3 132.1,194.9 132.9,194.0 133.6,193.9 134.3,194.0 135.0,194.0 135.8,193.5 136.5,193.1 137.2,193.3 137.9,193.5 138.7,193.7 139.4,193.2 140.1,193.3 140.8,193.7 141.6,193.4 142.3,192.5 143.0,192.3 143.7,192.2 144.5,192.3 145.2,193.0 145.9,193.4 146.6,193.6 147.4,192.6 148.1,192.3 148.8,192.6 149.5,192.5 150.3,192.8 151.0,193.2 151.7,193.2 152.4,193.0 153.2,192.9 153.9,193.1 154.6,193.3 155.3,193.8 156.1,194.0 156.8,194.2 157.5,193.8 158.2,194.3 159.0,194.8 159.7,193.3 160.4,193.4 161.1,194.7 161.9,194.7 162.6,193.9 163.3,194.1 164.0,194.4 164.8,194.3 165.5,194.8 166.2,193.7 166.9,193.7 167.7,195.0 168.4,195.3 169.1,195.0 169.8,194.8 170.6,194.7 171.3,194.9 172.0,195.7 172.7,195.6 173.5,195.3 174.2,195.7 174.9,196.2 175.6,196.3 176.4,196.1 177.1,196.0 177.8,196.4 178.5,196.4 179.3,195.9 180.0,196.4 180.7,196.8 181.4,196.8 182.2,196.3 182.9,197.0 183.6,197.6 184.3,197.4 185.1,197.5 185.8,196.7 186.5,196.9 187.2,197.3 188.0,197.6 188.7,197.0 189.4,196.5 190.1,197.0 190.9,198.0 191.6,199.0 192.3,198.2 193.0,197.9 193.8,198.5 194.5,198.4 195.2,198.8 195.9,198.6 196.7,197.8 197.4,196.9 198.1,195.7 198.8,190.9 199.6,184.4 200.3,179.3 201.0,174.0 201.7,170.1 202.5,165.7 203.2,160.9 203.9,155.9 204.6,149.8 205.4,142.8 206.1,136.0 206.8,129.1 207.5,122.7 208.3,116.6 209.0,111.0 209.7,105.8 210.4,101.2 211.2,97.2 211.9,93.2 212.6,90.4 213.3,88.0 214.1,85.8 214.8,84.9 215.5,84.5 216.2,84.2 217.0,84.5 217.7,84.5 218.4,85.2 219.1,87.1 219.9,89.8 220.6,93.0 221.3,95.8 222.0,98.9 222.8,102.7 223.5,107.1 224.2,113.0 224.9,120.2 225.7,127.7 226.4,135.1 227.1,141.7 227.8,147.8 228.6,154.2 229.3,159.9 230.0,164.6 230.7,167.8 231.5,170.0 232.2,172.3 232.9,173.9 233.6,175.5 234.4,176.8 235.1,177.6 235.8,177.2 236.5,176.5 237.3,178.0 238.0,178.7 238.7,177.9 239.4,177.9 240.2,178.2 240.9,178.9 241.6,179.3 242.3,178.7 243.1,177.6 243.8,177.7 244.5,178.1 245.2,176.6 246.0,175.8 246.7,175.1 247.4,173.7 248.1,172.9 248.9,171.3 249.6,170.1 250.3,168.8 251.0,167.4 251.8,165.6 252.5,162.0 253.2,158.0 253.9,154.8 254.7,151.6 255.4,149.4 256.1,147.9 256.8,144.8 257.6,142.1 258.3,139.9 259.0,137.6 259.7,134.4 260.5,131.9 261.2,129.8 261.9,127.8 262.6,125.6 263.4,123.6 264.1,121.9 264.8,120.6 265.5,119.7 266.3,116.9 267.0,115.9 267.7,115.3 268.4,114.0 269.2,114.2 269.9,113.0 270.6,111.4 271.3,112.1 272.1,112.1 272.8,112.1 273.5,113.0 274.2,112.8 275.0,112.8 275.7,111.8 276.4,112.4 277.1,113.5 277.9,112.3 278.6,114.0 279.3,115.7 280.0,114.7 280.8,114.3 281.5,114.8 282.2,114.3 282.9,115.0 283.7,116.6 284.4,118.3 285.1,118.1 285.8,117.6 286.6,118.1 287.3,118.0 288.0,119.5 288.7,119.3 289.5,118.6 290.2,119.8 290.9,121.7 291.6,123.1 292.3,123.5 293.1,124.3 293.8,125.5 294.5,125.9 295.2,126.0 296.0,127.1 296.7,128.5 297.4,129.0 298.1,129.8 298.9,133.1 299.6,134.8 300.3,134.5 301.0,134.8 301.8,136.2 302.5,138.2 303.2,139.7 303.9,140.4 304.7,141.6 305.4,143.7 306.1,145.3 306.8,146.0 307.6,147.4 308.3,150.2 309.0,151.1 309.7,152.2 310.5,153.9 311.2,155.0 311.9,156.1 312.6,157.4 313.4,160.0 314.1,162.4 314.8,164.4 315.5,165.0 316.3,165.6 317.0,167.5 317.7,169.7 318.4,173.5 319.2,174.2 319.9,174.7 320.6,177.3 321.3,179.0 322.1,180.4 322.8,181.7 323.5,184.6 324.2,185.8 325.0,186.6 325.7,188.9 326.4,189.0 327.1,189.6 327.9,192.2 328.6,195.3 329.3,196.3 330.0,196.1 330.8,197.3 331.5,199.3 332.2,200.5 332.9,201.0 333.7,200.7 334.4,199.8 335.1,199.7 335.8,200.9 336.6,201.7 337.3,201.2 338.0,201.9 338.7,202.5 339.5,201.0 340.2,200.8 340.9,201.6 341.6,201.9 342.4,202.2 343.1,202.7 343.8,202.3 344.5,199.9 345.3,197.9 346.0,197.3 346.7,197.5 347.4,197.6 348.2,197.8 348.9,197.4 349.6,196.1 350.3,195.8 351.1,195.0 351.8,194.4 352.5,195.5 353.2,194.8 354.0,194.0 354.7,193.5 355.4,191.0 356.1,189.6 356.9,189.6 357.6,188.1 358.3,186.8 359.0,187.4 359.8,186.9 360.5,185.9 361.2,186.3 361.9,185.9 362.7,186.5 363.4,187.0 364.1,185.8 364.8,184.5 365.6,184.4 366.3,184.6 367.0,183.4 367.7,182.1 368.5,182.0 369.2,181.8 369.9,182.3 370.6,183.1 371.4,182.3 372.1,182.0 372.8,182.3 373.5,180.7 374.3,180.2 375.0,181.6 375.7,180.8 376.4,178.6 377.2,178.4 377.9,178.4 378.6,178.4 379.3,179.1 380.1,178.8 380.8,178.1 381.5,175.9 382.2,176.2 383.0,175.9 383.7,175.4 384.4,176.3 385.1,174.7 385.9,173.8 386.6,173.9 387.3,175.3 388.0,175.0 388.8,174.5 389.5,172.9 390.2,172.2 390.9,173.8 391.7,174.4 392.4,174.8 393.1,174.8 393.8,173.7 394.6,173.0 395.3,173.2 396.0,173.5 396.7,174.2 397.5,172.8 398.2,173.1 398.9,175.3 399.6,174.3 400.4,173.9 401.1,174.7 401.8,173.3 402.5,173.8 403.3,174.1 404.0,174.2 404.7,174.1 405.4,172.9 406.2,174.7 406.9,176.1 407.6,176.7 408.3,176.7 409.1,175.6 409.8,177.2 410.5,177.7 411.2,177.9 412.0,179.5 412.7,180.2 413.4,178.3 414.1,177.3 414.9,179.0 415.6,180.0 416.3,179.7 417.0,181.2 417.8,182.4 418.5,179.6 419.2,180.3 419.9,182.3 420.7,181.9 421.4,182.9 422.1,183.7 422.8,182.8 423.6,183.0 424.3,183.7 425.0,184.4 425.7,184.7 426.5,184.6 427.2,184.0 427.9,183.6 428.6,185.1 429.4,187.6 430.1,187.1 430.8,184.8 431.5,186.2 432.3,188.4 433.0,188.7 433.7,186.6 434.4,186.6 435.2,187.8 435.9,186.9 436.6,185.7 437.3,186.0 438.1,187.2 438.8,187.7 439.5,186.4 440.2,185.3 441.0,186.7 441.7,188.7 442.4,189.3 443.1,187.9 443.9,187.9 444.6,187.8 445.3,187.0 446.0,187.6 446.8,187.4 447.5,187.4 448.2,188.7 448.9,189.4 449.7,187.0 450.4,187.8 451.1,190.1 451.8,188.4 452.6,188.3 453.3,189.9 454.0,191.0 454.7,190.0 455.5,188.2 456.2,187.7 456.9,188.6 457.6,189.0 458.4,190.0 459.1,190.8 459.8,190.6 460.5,190.7 461.3,189.7 462.0,189.1 462.7,190.6 463.4,190.5 464.2,190.2 464.9,192.2 465.6,192.1 466.3,192.5 467.1,192.5 467.8,191.2 468.5,191.4 469.2,191.3 470.0,191.5 470.7,192.0 471.4,193.0 472.1,193.1 472.9,192.6 473.6,193.1 474.3,192.5 475.0,192.1 475.7,193.4 476.5,194.9 477.2,193.9 477.9,192.2 478.6,191.7 479.4,191.4 480.1,190.6 480.8,191.0 481.5,192.1 482.3,193.4 483.0,194.3 483.7,193.8 484.4,192.8 485.2,192.3 485.9,192.5 486.6,192.9 487.3,192.4 488.1,192.1 488.8,192.4 489.5,192.4 490.2,193.2 491.0,194.4 491.7,193.5 492.4,192.3 493.1,193.0 493.9,193.8 494.6,191.7 495.3,192.1 496.0,194.4 496.8,193.6 497.5,194.6 498.2,194.9 498.9,192.5 499.7,191.9 500.4,193.2 501.1,193.7 501.8,194.3 502.6,194.2 503.3,194.6 504.0,196.0 504.7,196.0 505.5,195.0 506.2,194.9 506.9,195.3 507.6,197.4 508.4,197.1 509.1,193.2 509.8,193.1 510.5,195.5 511.3,197.4 512.0,196.8 512.7,196.9 513.4,196.5 514.2,196.0 514.9,195.7 515.6,194.0 516.3,196.6 517.1,197.5 517.8,196.2 518.5,197.6 519.2,197.4 520.0,196.3 520.7,194.7 521.4,195.7 522.1,195.6 522.9,192.3 523.6,192.6 524.3,193.8 525.0,194.2 525.8,195.7 526.5,195.1 527.2,193.5 527.9,193.2 528.7,191.0 529.4,190.8 530.1,192.6 530.8,191.6 531.6,193.1 532.3,195.4 533.0,194.3 533.7,193.6 534.5,192.4 535.2,191.9 535.9,190.7 536.6,188.8 537.4,189.5 538.1,191.1 538.8,191.0 539.5,189.7 540.3,191.1 541.0,191.4 541.7,189.6 542.4,189.6 543.2,188.6 543.9,187.5 544.6,189.6 545.3,190.5 546.1,190.3 546.8,189.8 547.5,189.6 548.2,189.2 549.0,187.8 549.7,187.6 550.4,188.0 551.1,190.2 551.9,188.3 552.6,187.0 553.3,187.2 554.0,186.6 554.8,187.2 555.5,185.8 556.2,186.1 556.9,186.5 557.7,188.3 558.4,188.8 559.1,187.6 559.8,188.6 560.6,188.3 561.3,187.9 562.0,186.3 562.7,188.4 563.5,190.0 564.2,188.9 564.9,187.8 565.6,187.6 566.4,188.3 567.1,188.3 567.8,188.1 568.5,186.7 569.3,187.8 570.0,188.7 570.7,189.8 571.4,189.5 572.2,187.3 572.9,188.2 573.6,187.9 574.3,189.5 575.1,192.4 575.8,191.8 576.5,190.4 577.2,189.1 578.0,188.7 578.7,188.8 579.4,188.0 580.1,188.4 580.9,190.5 581.6,191.2 582.3,187.9 583.0,189.0 583.8,191.3 584.5,187.5 585.2,186.9 585.9,189.2 586.7,189.7 587.4,188.0 588.1,186.8 588.8,188.7 589.6,189.1 590.3,188.0 591.0,187.7 591.7,186.5 592.5,188.0 593.2,190.9 593.9,190.2 594.6,187.0 595.4,186.7 596.1,188.3 596.8,186.6 597.5,187.9 598.3,189.5 599.0,189.0 599.7,189.9 600.4,189.3 601.2,187.8 601.9,188.9 602.6,191.0 603.3,191.7 604.1,190.7 604.8,189.6 605.5,189.7 606.2,190.3 607.0,191.2 607.7,189.0 608.4,188.9 609.1,189.3 609.9,188.6 610.6,189.7 611.3,191.9 612.0,190.5 612.8,188.8 613.5,188.8 614.2,191.1 614.9,193.9 615.7,194.1 616.4,193.3 617.1,190.0 617.8,188.5"/>
<g stroke="#000" stroke-width="4" fill="none" stroke-linecap="butt">
<path d="M110.5,19 V331 M108.5,329 H619.6"/>
</g>
<g stroke="#000" stroke-width="3.6" fill="none">
<path d="M110.5,277.7 H117.4"/>
<path d="M110.5,226.4 H117.4"/>
<path d="M110.5,175.1 H117.4"/>
<path d="M110.5,123.8 H117.4"/>
<path d="M110.5,72.5 H117.4"/>
<path d="M110.5,21.2 H117.4"/>
<path d="M182.9,329 V322.6"/>
<path d="M255.4,329 V322.6"/>
<path d="M327.9,329 V322.6"/>
<path d="M400.4,329 V322.6"/>
<path d="M472.9,329 V322.6"/>
<path d="M545.3,329 V322.6"/>
<path d="M617.8,329 V322.6"/>
</g>
<text class="ax" x="91.5" y="335.6" text-anchor="end">0</text>
<text class="ax" x="91.5" y="284.3" text-anchor="end">0.2</text>
<text class="ax" x="91.5" y="233.0" text-anchor="end">0.4</text>
<text class="ax" x="91.5" y="181.7" text-anchor="end">0.6</text>
<text class="ax" x="91.5" y="130.4" text-anchor="end">0.8</text>
<text class="ax" x="91.5" y="79.1" text-anchor="end">1</text>
<text class="ax" x="91.5" y="27.8" text-anchor="end">1.2</text>
<text class="ax" x="110.4" y="360.1" text-anchor="middle">300</text>
<text class="ax" x="182.9" y="360.1" text-anchor="middle">400</text>
<text class="ax" x="255.4" y="360.1" text-anchor="middle">500</text>
<text class="ax" x="327.9" y="360.1" text-anchor="middle">600</text>
<text class="ax" x="400.4" y="360.1" text-anchor="middle">700</text>
<text class="ax" x="472.9" y="360.1" text-anchor="middle">800</text>
<text class="ax" x="545.3" y="360.1" text-anchor="middle">900</text>
<text class="ax" x="617.8" y="360.1" text-anchor="middle">1000</text>
<text class="ttl" x="364.3" y="392.4" text-anchor="middle">Wavelength (nm)</text>
<text class="ttl" transform="translate(53,176) rotate(-90)" text-anchor="middle">Transmittance (%)</text>
</g>
<g id="table-a">
<g stroke="#6e6e6e" stroke-width="1.6">
<path d="M641.6,43.0 H1329.6"/>
<path d="M641.6,91.0 H1329.6"/>
<path d="M641.6,259.0 H1329.6"/>
</g>
<text class="tb" x="812.0" y="61.2">Dilution</text>
<text class="tb" x="812.0" y="85.0">Ratio</text>
<text class="tb" x="936.4" y="61.2">Transmittance</text>
<text class="tb" x="931.0" y="85.0">(%)</text>
<text class="tb" x="1113.0" y="61.2">Concentration after</text>
<text class="tb" x="1113.0" y="85.0">dilution (PPM)</text>
<path d="M655.4,108.0 H691.0" stroke="#3F73C2" stroke-width="1.9" fill="none"/>
<text class="tb" x="693.0" y="114.6">Patient 1</text>
<text class="tb" x="862.0" y="114.6" text-anchor="middle">40</text>
<text class="tb" x="1009.6" y="114.6" text-anchor="middle">0.074</text>
<text class="tb" x="1215.0" y="114.6" text-anchor="middle">90.34</text>
<path d="M655.4,135.7 H691.0" stroke="#ED7D31" stroke-width="1.9" fill="none"/>
<text class="tb" x="693.0" y="142.3">Patient 2</text>
<text class="tb" x="862.0" y="142.3" text-anchor="middle">10</text>
<text class="tb" x="1009.6" y="142.3" text-anchor="middle">0.069</text>
<text class="tb" x="1215.0" y="142.3" text-anchor="middle">93.00</text>
<path d="M655.4,163.4 H691.0" stroke="#A5A5A5" stroke-width="1.9" fill="none"/>
<text class="tb" x="693.0" y="170.0">Patient 3</text>
<text class="tb" x="862.0" y="170.0" text-anchor="middle">20</text>
<text class="tb" x="1009.6" y="170.0" text-anchor="middle">0.014</text>
<text class="tb" x="1215.0" y="170.0" text-anchor="middle">69.03</text>
<path d="M655.4,191.0 H691.0" stroke="#FFC000" stroke-width="1.9" fill="none"/>
<text class="tb" x="693.0" y="197.6">Patient 4</text>
<text class="tb" x="862.0" y="197.6" text-anchor="middle">8</text>
<text class="tb" x="1009.6" y="197.6" text-anchor="middle">0.288</text>
<text class="tb" x="1215.0" y="197.6" text-anchor="middle">44.28</text>
<path d="M655.4,218.7 H691.0" stroke="#7030A0" stroke-width="1.9" fill="none"/>
<text class="tb" x="693.0" y="225.3">Patient 5</text>
<text class="tb" x="862.0" y="225.3" text-anchor="middle">100</text>
<text class="tb" x="1009.6" y="225.3" text-anchor="middle">0.184</text>
<text class="tb" x="1215.0" y="225.3" text-anchor="middle">59.39</text>
<path d="M655.4,246.4 H691.0" stroke="#FF0000" stroke-width="1.9" fill="none"/>
<text class="tb" x="693.0" y="253.0">Patient 6</text>
<text class="tb" x="862.0" y="253.0" text-anchor="middle">2</text>
<text class="tb" x="1009.6" y="253.0" text-anchor="middle">0.533</text>
<text class="tb" x="1215.0" y="253.0" text-anchor="middle">23.59</text>
</g>
<text class="cap" transform="translate(661.9,489.4) scale(0.95,1.13)">(</text>
<text class="cap b" transform="translate(673.3,488.3) scale(0.96,1)">a</text>
<text class="cap" transform="translate(689.4,489.4) scale(0.95,1.13)">)</text>
<g id="chart-b">
<g stroke="#000" stroke-width="4" fill="none" stroke-linecap="butt">
<path d="M101,586 V916.2 M99,914.2 H658.5"/>
</g>
<g stroke="#000" stroke-width="3.6" fill="none">
<path d="M101,859.8 H107.6"/>
<path d="M101,805.4 H107.6"/>
<path d="M101,751.0 H107.6"/>
<path d="M101,696.6 H107.6"/>
<path d="M101,642.2 H107.6"/>
<path d="M101,587.8 H107.6"/>
<path d="M212.1,914.2 V907.8"/>
<path d="M323.2,914.2 V907.8"/>
<path d="M434.3,914.2 V907.8"/>
<path d="M545.4,914.2 V907.8"/>
<path d="M656.5,914.2 V907.8"/>
</g>
<polyline class="ln" stroke="#3F73C2" stroke-width="2.8" points="101.0,914.2 102.1,914.2 103.2,914.2 104.3,914.2 105.4,914.2 106.6,914.2 107.7,914.2 108.8,914.2 109.9,914.2 111.0,914.2 112.1,914.2 113.2,914.2 114.3,914.2 115.4,914.2 116.6,914.2 117.7,914.2 118.8,914.2 119.9,914.2 121.0,914.2 122.1,914.2 123.2,914.2 124.3,914.2 125.4,914.2 126.6,914.2 127.7,914.2 128.8,914.2 129.9,914.2 131.0,914.2 132.1,914.2 133.2,914.2 134.3,914.2 135.4,914.2 136.6,914.2 137.7,914.2 138.8,914.2 139.9,914.2 141.0,914.2 142.1,914.2 143.2,914.2 144.3,914.2 145.4,914.2 146.6,914.2 147.7,914.2 148.8,914.2 149.9,914.2 151.0,914.2 152.1,914.2 153.2,914.2 154.3,914.2 155.4,914.2 156.6,914.2 157.7,914.2 158.8,914.2 159.9,914.2 161.0,914.2 162.1,914.2 163.2,914.2 164.3,914.2 165.4,914.2 166.5,914.2 167.7,914.2 168.8,914.2 169.9,914.2 171.0,914.2 172.1,914.2 173.2,914.2 174.3,914.2 175.4,914.2 176.5,914.2 177.7,914.2 178.8,914.2 179.9,914.2 181.0,914.2 182.1,914.2 183.2,914.2 184.3,914.2 185.4,914.2 186.5,914.2 187.7,914.2 188.8,914.2 189.9,914.2 191.0,914.2 192.1,914.2 193.2,914.2 194.3,914.2 195.4,914.2 196.5,914.2 197.7,914.2 198.8,914.2 199.0,913.8 199.3,912.7 199.6,911.0 199.9,908.8 200.2,906.2 200.4,903.3 200.7,898.9 201.0,892.0 201.3,883.8 201.5,875.0 201.8,866.8 202.1,859.2 202.4,851.3 202.7,843.4 202.9,835.3 203.2,827.3 203.5,819.5 203.8,812.0 204.0,804.9 204.3,798.3 204.6,792.2 204.9,786.4 205.2,780.8 205.4,775.5 205.7,770.3 206.0,765.2 206.3,760.1 206.5,755.1 206.8,750.0 207.1,744.8 207.4,739.5 207.7,734.2 207.9,729.1 208.2,724.1 208.5,719.4 208.8,715.0 209.0,711.1 209.3,707.5 209.6,704.1 209.9,700.9 210.2,697.9 210.4,695.0 210.7,692.1 211.0,689.3 211.3,686.5 211.5,683.5 211.8,680.5 212.1,677.5 212.4,674.4 212.7,671.3 212.9,668.3 213.2,665.4 213.5,662.7 213.8,660.1 214.0,657.9 214.3,655.8 214.6,654.0 214.9,652.2 215.2,650.6 215.4,649.0 215.7,647.5 216.0,646.0 216.3,644.5 216.5,642.9 216.8,641.2 217.1,639.3 217.4,637.5 217.7,635.6 217.9,633.7 218.2,632.0 218.5,630.5 218.8,629.1 219.0,627.9 219.3,626.7 219.6,625.5 219.9,624.5 220.2,623.7 220.4,623.3 220.7,623.4 221.0,623.9 221.3,624.8 221.5,626.0 221.8,627.5 222.1,629.1 222.4,631.9 222.7,636.3 222.9,641.2 223.2,645.9 223.5,650.2 223.8,654.6 224.0,659.0 224.3,663.6 224.6,668.1 224.9,672.7 225.2,677.2 225.4,681.7 225.7,686.0 226.0,690.3 226.3,694.4 226.5,698.3 226.8,702.0 227.1,705.5 227.4,708.8 227.7,711.9 227.9,715.0 228.2,718.1 228.5,721.1 228.8,726.9 229.0,729.9 229.3,732.8 229.6,735.5 229.9,738.0 230.2,740.4 230.4,742.7 230.7,745.0 231.0,747.1 231.3,749.1 231.5,751.1 231.8,753.0 232.1,754.8 232.4,756.6 232.7,758.4 232.9,760.1 233.2,761.9 233.5,763.6 233.8,765.3 234.0,767.1 234.3,768.8 234.6,770.4 234.9,772.1 235.2,773.8 235.4,775.4 235.7,777.0 236.0,778.6 236.3,780.1 236.5,781.7 236.8,783.2 237.1,784.6 237.4,786.1 237.7,787.5 237.9,788.9 238.2,790.2 238.5,791.5 238.8,792.8 239.0,794.0 239.3,795.2 239.6,796.3 239.9,797.4 240.2,798.5 240.4,799.5 240.7,800.5 241.0,801.4 241.3,802.3 241.5,803.1 241.8,804.0 242.1,804.9 242.4,805.7 242.7,806.6 242.9,807.5 243.2,808.3 243.5,809.1 243.8,810.0 244.0,810.8 244.3,811.6 244.6,812.4 244.9,813.2 245.2,814.0 245.4,814.8 246.0,816.3 246.5,817.8 247.1,819.2 247.7,820.6 248.2,822.0 248.8,823.2 249.3,824.4 249.9,825.6 250.4,826.7 251.0,827.7 251.5,828.6 252.1,829.5 252.7,830.4 253.2,831.2 253.8,832.1 254.3,832.9 254.9,833.7 255.4,834.5 256.0,835.3 256.5,836.1 257.1,836.8 257.7,837.6 258.2,838.3 258.8,839.0 259.3,839.6 259.9,840.3 260.4,840.9 261.0,841.5 261.5,842.0 262.1,842.6 262.7,843.1 263.2,843.5 263.8,843.9 264.3,844.3 264.9,844.7 265.4,845.1 266.0,845.5 266.5,845.8 267.1,846.2 267.6,846.5 268.2,846.8 268.8,847.1 269.3,847.4 269.9,847.7 270.4,848.0 271.0,848.2 271.5,848.5 272.1,848.7 272.6,848.9 273.2,849.1 273.8,849.3 274.3,849.5 274.9,849.6 275.4,849.7 276.0,849.8 276.5,849.9 277.1,850.0 277.6,850.1 278.2,850.1 278.8,850.1 279.3,850.1 279.9,850.1 280.4,850.1 281.0,850.0 281.5,850.0 282.1,849.9 282.6,849.8 283.2,849.7 283.8,849.6 284.3,849.4 284.9,849.3 285.4,849.1 286.0,849.0 286.5,848.8 287.1,848.5 287.6,848.3 288.2,848.1 288.8,847.8 289.3,847.5 289.9,847.2 290.4,846.9 291.0,846.5 291.5,846.2 292.1,845.8 292.6,845.4 293.2,844.9 293.8,844.5 294.3,844.0 294.9,843.5 295.4,843.0 296.0,842.5 296.5,842.0 297.1,841.5 297.6,841.0 298.2,840.4 298.8,839.8 299.3,839.2 299.9,838.7 300.4,838.0 301.0,837.4 301.5,836.8 302.1,836.1 302.6,835.5 303.2,834.8 303.8,834.1 304.3,833.4 304.9,832.6 305.4,831.9 306.0,831.1 306.5,830.3 307.1,829.5 307.6,828.7 308.2,827.9 308.8,827.0 309.3,826.1 309.9,825.2 310.4,824.3 311.0,823.4 311.5,822.5 312.1,821.5 312.6,820.6 313.2,819.7 313.8,818.7 314.3,817.8 314.9,816.8 315.4,815.9 316.0,814.9 316.5,813.9 317.1,813.0 317.6,812.0 318.2,811.0 318.8,810.0 319.3,809.0 319.9,807.9 320.4,806.9 321.0,805.9 321.5,804.8 322.1,803.8 322.6,802.7 323.2,801.6 323.8,800.5 324.3,799.4 324.9,798.3 325.4,797.2 326.0,796.1 326.5,795.0 327.1,793.8 327.6,792.7 328.2,791.6 328.8,790.4 329.3,789.3 329.9,788.1 330.4,787.0 331.0,785.8 331.5,784.7 332.1,783.5 332.6,782.3 333.2,781.1 333.8,780.0 334.3,778.8 334.9,777.6 335.4,776.4 336.0,775.2 336.5,774.0 337.1,772.8 337.6,771.6 338.2,770.4 338.8,769.2 339.3,768.0 339.9,766.8 340.4,765.6 341.0,764.4 341.5,763.1 342.1,761.8 342.6,760.5 343.2,759.2 343.8,757.8 344.3,756.5 344.9,755.1 345.4,753.7 346.0,752.4 346.5,751.0 347.1,749.6 347.6,748.2 348.2,746.9 348.8,745.5 349.3,744.2 349.9,742.9 350.4,741.6 351.0,740.3 351.5,739.1 352.1,737.8 352.6,736.7 353.2,735.6 353.8,734.6 354.3,733.7 354.9,733.2 355.4,731.7 356.0,731.0 356.5,730.3 357.1,729.9 357.6,729.1 358.2,728.7 358.8,728.1 359.3,726.3 359.9,725.1 360.4,724.8 361.0,724.4 361.5,722.8 362.1,721.0 362.6,720.7 363.2,720.2 363.8,718.3 364.3,716.4 364.9,715.4 365.4,714.2 366.0,712.6 366.5,710.7 367.1,709.2 367.6,708.7 368.2,707.8 368.8,706.2 369.3,704.7 369.9,704.2 370.4,703.2 371.0,702.1 371.5,701.3 372.1,700.1 372.6,699.2 373.2,698.1 373.8,697.1 374.3,696.2 374.9,695.7 375.4,696.3 376.0,697.2 376.5,696.7 377.1,696.0 377.6,694.9 378.2,691.8 378.8,689.1 379.3,687.3 379.9,685.9 380.4,685.1 381.0,683.8 381.5,682.0 382.1,681.2 382.6,681.1 383.2,681.1 383.7,681.2 384.3,681.2 384.9,682.1 385.4,684.3 386.0,685.7 386.5,685.3 387.1,683.7 387.6,682.6 388.2,681.1 388.7,678.5 389.3,676.4 389.9,675.4 390.4,676.7 391.0,679.8 391.5,683.0 392.1,685.1 392.6,687.7 393.2,689.9 393.7,689.1 394.3,686.8 394.9,683.9 395.4,681.6 396.0,681.4 396.5,681.0 397.1,680.2 397.6,679.9 398.2,679.6 398.7,678.2 399.3,677.9 399.9,677.3 400.4,676.2 401.0,676.1 401.5,675.7 402.1,675.3 402.6,675.9 403.2,677.7 403.7,679.9 404.3,681.3 404.9,681.3 405.4,680.8 406.0,681.5 406.5,681.7 407.1,681.4 407.6,680.9 408.2,680.3 408.7,679.2 409.3,679.4 409.9,679.4 410.4,678.2 411.0,678.4 411.5,678.1 412.1,677.4 412.6,676.5 413.2,675.1 413.7,674.8 414.3,674.9 414.9,675.9 415.4,677.8 416.0,679.5 416.5,681.0 417.1,681.0 417.6,679.5 418.2,677.7 418.7,676.2 419.3,674.0 419.9,671.5 420.4,669.0 421.0,667.9 421.5,666.7 422.1,663.9 422.6,662.7 423.2,661.7 423.7,659.4 424.3,657.6 424.9,657.3 425.4,656.0 426.0,654.1 426.5,653.1 427.1,652.2 427.6,651.5 428.2,651.8 428.7,652.2 429.3,652.7 429.9,654.0 430.4,654.3 431.0,654.0 431.5,654.4 432.1,653.5 432.6,652.4 433.2,652.9 433.7,654.1 434.3,655.6 434.9,655.7 435.4,654.9 436.0,652.7 436.5,649.7 437.1,647.9 437.6,646.5 438.2,647.7 438.7,649.7 439.3,650.0 439.9,650.4 440.4,650.4 441.0,650.3 441.5,650.6 442.1,650.1 442.6,650.6 443.2,652.8 443.7,654.9 444.3,657.9 444.9,661.6 445.4,665.5 446.0,668.7 446.5,669.8 447.1,668.8 447.6,667.2 448.2,662.6 448.7,656.4 449.3,652.9 449.9,653.4 450.4,655.9 451.0,659.8 451.5,663.3 452.1,668.0 452.6,673.0 453.2,676.3 453.7,677.7 454.3,678.2 454.9,678.5 455.4,678.2 456.0,679.0 456.5,680.4 457.1,681.5 457.6,683.9 458.2,685.6 458.7,685.7 459.3,686.4 459.9,688.1 460.4,689.8 461.0,691.5 461.5,694.4 462.1,696.6 462.6,697.7 463.2,698.9 463.7,700.1 464.3,700.0 464.9,700.5 465.4,703.0 466.0,705.5 466.5,708.3 467.1,710.6 467.6,712.3 468.2,714.1 468.7,715.9 469.3,718.3 469.9,720.3 470.4,721.4 471.0,723.1 471.5,724.1 472.1,725.6 472.6,728.4 473.2,729.5 473.7,730.7 474.3,732.7 474.9,734.6 475.4,736.1 476.0,737.4 476.5,739.3 477.1,741.9 477.6,744.2 478.2,745.9 478.7,747.6 479.3,750.6 479.9,752.9 480.4,753.8 481.0,755.1 481.5,756.4 482.1,757.5 482.6,758.7 483.2,760.4 483.7,761.9 484.3,762.5 484.9,763.9 485.4,765.5 486.0,765.8 486.5,766.8 487.1,769.0 487.6,769.9 488.2,770.3 488.7,771.3 489.3,771.7 489.9,772.8 490.4,773.6 491.0,774.3 491.5,775.0 492.1,775.7 492.6,776.3 493.2,776.9 493.7,777.4 494.3,777.9 494.8,778.3 495.4,778.7 496.0,779.1 496.5,779.4 497.1,779.7 497.6,779.9 498.2,780.1 498.7,780.4 499.3,780.6 499.8,780.8 500.4,781.0 501.0,781.2 501.5,781.5 502.1,781.7 502.6,782.0 503.2,782.4 503.7,782.7 504.3,783.2 504.8,783.6 505.4,784.0 506.0,784.5 506.5,785.0 507.1,785.4 507.6,785.9 508.2,786.5 508.7,787.0 509.3,787.5 509.8,788.1 510.4,788.7 511.0,789.3 511.5,790.0 512.1,790.7 512.6,791.4 513.2,792.1 513.7,792.9 514.3,793.7 514.8,794.5 515.4,795.3 516.0,796.2 516.5,797.0 517.1,797.9 517.6,798.8 518.2,799.7 518.7,800.6 519.3,801.6 519.8,802.5 520.4,803.5 521.0,804.6 521.5,805.6 522.1,806.7 522.6,807.8 523.2,808.9 523.7,810.0 524.3,811.1 524.8,812.2 525.4,813.4 526.0,814.5 526.5,815.6 527.1,816.7 527.6,817.8 528.2,819.0 528.7,820.1 529.3,821.2 529.8,822.3 530.4,823.4 531.0,824.5 531.5,825.6 532.1,826.7 532.6,827.9 533.2,829.0 533.7,830.1 534.3,831.2 534.8,832.3 535.4,833.4 536.0,834.5 536.5,835.6 537.1,836.7 537.6,837.8 538.2,838.9 538.7,840.0 539.3,841.1 539.8,842.2 540.4,843.3 541.0,844.3 541.5,845.4 542.1,846.4 542.6,847.3 543.2,848.2 543.7,849.0 544.3,849.8 544.8,850.5 545.4,851.3 546.0,851.9 546.5,852.6 547.1,853.2 547.6,853.8 548.2,854.4 548.7,855.0 549.3,855.6 549.8,856.1 550.4,856.6 551.0,857.2 551.5,857.6 552.1,858.1 552.6,858.6 553.2,859.0 553.7,859.4 554.3,859.8 554.8,860.2 555.4,860.5 556.0,860.9 556.5,861.2 557.1,861.4 557.6,861.7 558.2,861.9 558.7,862.1 559.3,862.3 559.8,862.5 560.4,862.6 561.0,862.7 561.5,862.8 562.1,862.9 562.6,863.0 563.2,863.0 563.7,863.0 564.3,863.0 564.8,862.9 565.4,862.8 566.0,862.7 566.5,862.5 567.1,862.4 567.6,862.2 568.2,862.0 568.7,861.8 569.3,861.6 569.8,861.5 570.4,861.3 571.0,861.1 571.5,860.9 572.1,860.7 572.6,860.6 573.2,860.4 573.7,860.3 574.3,860.1 574.8,860.0 575.4,859.9 576.0,859.8 576.5,859.7 577.1,859.6 577.6,859.5 578.2,859.4 578.7,859.3 579.3,859.3 579.8,859.2 580.4,859.2 581.0,859.1 581.5,859.1 582.1,859.1 582.6,859.1 583.2,859.1 583.7,859.2 584.3,859.2 584.8,859.3 585.4,859.4 586.0,859.6 586.5,859.7 587.1,859.9 587.6,860.1 588.2,860.4 588.7,860.6 589.3,860.9 589.8,861.2 590.4,861.5 591.0,861.8 591.5,862.2 592.1,862.5 592.6,862.9 593.2,863.3 593.7,863.7 594.3,864.1 594.8,864.5 595.4,864.9 596.0,865.4 596.5,865.8 597.1,866.2 597.6,866.6 598.2,867.0 598.7,867.5 599.3,867.9 599.8,868.3 600.4,868.8 601.0,869.2 601.5,869.6 602.1,870.1 602.6,870.5 603.2,871.0 603.7,871.4 604.3,871.9 604.8,872.4 605.4,872.9 605.9,873.3 606.5,873.8 607.1,874.3 607.6,874.8 608.2,875.2 608.7,875.7 609.3,876.2 609.8,876.7 610.4,877.1 610.9,877.6 611.5,878.1 612.1,878.5 612.6,879.0 613.2,879.4 613.7,879.8 614.3,880.3 614.8,880.7 615.4,881.1 615.9,881.4 616.5,881.8 617.1,882.1 617.6,882.4 618.2,882.7 618.7,883.0 619.3,883.3 619.8,883.6 620.4,883.8 620.9,884.1 621.5,884.3 622.1,884.5 622.6,884.7 623.2,884.9 623.7,885.1 624.3,885.2 624.8,885.4 625.4,885.5 625.9,885.7 626.5,885.8 627.1,885.9 627.6,886.0 628.2,886.1 628.7,886.2 629.3,886.4 629.8,886.4 630.4,886.5 630.9,886.6 631.5,886.7 632.1,886.8 632.6,886.8 633.2,886.9 633.7,887.0 634.3,887.0 634.8,887.1 635.4,887.1 635.9,887.1 636.5,887.2 637.1,887.2 637.6,887.2 638.2,887.2 638.7,887.2 639.3,887.2 639.8,887.2 640.4,887.2 640.9,887.2 641.5,887.3 642.1,887.3 642.6,887.3 643.2,887.3 643.7,887.2 644.3,887.2 644.8,887.2 645.4,887.2 645.9,887.2 646.5,887.2 647.1,887.2 647.6,887.2 648.2,887.2 648.7,887.1 649.3,887.1 649.8,887.1 650.4,887.1 650.9,887.0 651.5,887.0 652.1,887.0 652.6,886.9 653.2,886.9 653.7,886.8 654.3,886.8 654.8,886.7 655.4,886.7 655.9,886.6 656.5,886.6"/>
<polyline class="ln" stroke="#ED7D31" stroke-width="2.8" points="101.0,914.2 102.1,914.2 103.2,914.2 104.3,914.2 105.4,914.2 106.6,914.2 107.7,914.2 108.8,914.2 109.9,914.2 111.0,914.2 112.1,914.2 113.2,914.2 114.3,914.2 115.4,914.2 116.6,914.2 117.7,914.2 118.8,914.2 119.9,914.2 121.0,914.2 122.1,914.2 123.2,914.2 124.3,914.2 125.4,914.2 126.6,914.2 127.7,914.2 128.8,914.2 129.9,914.2 131.0,914.2 132.1,914.2 133.2,914.2 134.3,914.2 135.4,914.2 136.6,914.2 137.7,914.2 138.8,914.2 139.9,914.2 141.0,914.2 142.1,914.2 143.2,914.2 144.3,914.2 145.4,914.2 146.6,914.2 147.7,914.2 148.8,914.2 149.9,914.2 151.0,914.2 152.1,914.2 153.2,914.2 154.3,914.2 155.4,914.2 156.6,914.2 157.7,914.2 158.8,914.2 159.9,914.2 161.0,914.2 162.1,914.2 163.2,914.2 164.3,914.2 165.4,914.2 166.5,914.2 167.7,914.2 168.8,914.2 169.9,914.2 171.0,914.2 172.1,914.2 173.2,914.2 174.3,914.2 175.4,914.2 176.5,914.2 177.7,914.2 178.8,914.2 179.9,914.2 181.0,914.2 182.1,914.2 183.2,914.2 184.3,914.2 185.4,914.2 186.5,914.2 187.7,914.2 188.8,914.2 189.9,914.2 191.0,914.2 192.1,914.2 193.2,914.2 194.3,914.2 195.4,914.2 196.5,914.2 197.7,914.2 198.8,914.2 199.0,913.8 199.3,912.7 199.6,911.0 199.9,908.8 200.2,906.2 200.4,903.3 200.7,898.9 201.0,892.0 201.3,883.8 201.5,875.0 201.8,866.8 202.1,859.2 202.4,851.3 202.7,843.4 202.9,835.3 203.2,827.3 203.5,819.5 203.8,812.0 204.0,804.9 204.3,798.3 204.6,792.2 204.9,786.4 205.2,780.8 205.4,775.5 205.7,770.3 206.0,765.2 206.3,760.1 206.5,755.1 206.8,750.0 207.1,744.8 207.4,739.5 207.7,734.2 207.9,729.1 208.2,724.1 208.5,719.4 208.8,715.0 209.0,711.1 209.3,707.4 209.6,704.0 209.9,700.7 210.2,697.6 210.4,694.6 210.7,691.7 211.0,688.9 211.3,686.2 211.5,683.5 211.8,680.9 212.1,678.2 212.4,675.6 212.7,673.1 212.9,670.8 213.2,668.6 213.5,666.7 213.8,665.0 214.0,663.6 214.3,662.1 214.6,660.7 214.9,659.6 215.2,658.8 215.4,658.5 215.7,659.1 216.0,660.6 216.3,662.8 216.5,665.6 216.8,668.7 217.1,673.2 217.4,680.5 217.7,688.9 217.9,697.0 218.2,703.3 218.5,708.8 218.8,714.2 219.0,719.3 219.3,724.2 219.6,728.9 219.9,733.4 220.2,737.7 220.4,741.8 220.7,745.8 221.0,749.7 221.3,753.4 221.5,757.0 221.8,760.5 222.1,764.0 222.4,767.4 222.7,770.7 222.9,773.9 223.2,777.0 223.5,780.1 223.8,783.0 224.0,785.9 224.3,788.7 224.6,791.3 224.9,793.9 225.2,796.3 225.4,798.7 225.7,800.9 226.0,803.1 226.3,805.2 226.5,807.3 226.8,809.3 227.1,811.3 227.4,813.3 227.7,815.2 227.9,817.0 228.2,818.9 228.5,820.6 228.8,822.5 229.0,824.2 229.3,825.8 229.6,827.4 229.9,829.0 230.2,830.4 230.4,831.8 230.7,833.2 231.0,834.5 231.3,835.7 231.5,836.8 231.8,837.8 232.1,838.8 232.4,839.8 232.7,840.8 232.9,841.7 233.2,842.7 233.5,843.6 233.8,844.6 234.0,845.5 234.3,846.4 234.6,847.3 234.9,848.1 235.2,849.0 235.4,849.8 235.7,850.6 236.0,851.4 236.3,852.2 236.5,853.0 236.8,853.7 237.1,854.4 237.4,855.1 237.7,855.8 237.9,856.4 238.2,857.0 238.5,857.6 238.8,858.2 239.0,858.7 239.3,859.2 239.6,859.6 239.9,860.1 240.2,860.6 240.4,861.1 240.7,861.5 241.0,862.0 241.3,862.5 241.5,862.9 241.8,863.4 242.1,863.8 242.4,864.3 242.7,864.8 242.9,865.2 243.2,865.7 243.5,866.1 243.8,866.6 244.0,867.0 244.3,867.4 244.6,867.9 244.9,868.3 245.2,868.7 245.4,869.1 246.0,869.9 246.5,870.7 247.1,871.5 247.7,872.2 248.2,872.9 248.8,873.5 249.3,874.1 249.9,874.7 250.4,875.2 251.0,875.6 251.5,876.0 252.1,876.4 252.7,876.8 253.2,877.2 253.8,877.5 254.3,877.9 254.9,878.2 255.4,878.6 256.0,878.9 256.5,879.2 257.1,879.6 257.7,879.9 258.2,880.2 258.8,880.5 259.3,880.8 259.9,881.1 260.4,881.3 261.0,881.6 261.5,881.9 262.1,882.1 262.7,882.3 263.2,882.6 263.8,882.8 264.3,883.0 264.9,883.2 265.4,883.3 266.0,883.5 266.5,883.7 267.1,883.8 267.6,883.9 268.2,884.1 268.8,884.2 269.3,884.3 269.9,884.4 270.4,884.6 271.0,884.7 271.5,884.8 272.1,884.9 272.6,885.0 273.2,885.1 273.8,885.2 274.3,885.3 274.9,885.4 275.4,885.5 276.0,885.6 276.5,885.6 277.1,885.7 277.6,885.7 278.2,885.8 278.8,885.8 279.3,885.9 279.9,885.9 280.4,885.9 281.0,885.9 281.5,885.9 282.1,885.9 282.6,885.9 283.2,885.9 283.8,885.8 284.3,885.8 284.9,885.8 285.4,885.7 286.0,885.7 286.5,885.6 287.1,885.5 287.6,885.5 288.2,885.4 288.8,885.3 289.3,885.2 289.9,885.1 290.4,885.0 291.0,884.9 291.5,884.8 292.1,884.7 292.6,884.6 293.2,884.4 293.8,884.3 294.3,884.2 294.9,884.0 295.4,883.9 296.0,883.7 296.5,883.5 297.1,883.4 297.6,883.2 298.2,883.0 298.8,882.8 299.3,882.6 299.9,882.4 300.4,882.2 301.0,882.0 301.5,881.8 302.1,881.6 302.6,881.3 303.2,881.1 303.8,880.9 304.3,880.6 304.9,880.4 305.4,880.1 306.0,879.8 306.5,879.6 307.1,879.3 307.6,879.0 308.2,878.7 308.8,878.4 309.3,878.1 309.9,877.8 310.4,877.4 311.0,877.1 311.5,876.8 312.1,876.4 312.6,876.1 313.2,875.7 313.8,875.3 314.3,874.9 314.9,874.5 315.4,874.1 316.0,873.7 316.5,873.3 317.1,872.9 317.6,872.5 318.2,872.0 318.8,871.6 319.3,871.1 319.9,870.6 320.4,870.1 321.0,869.7 321.5,869.2 322.1,868.7 322.6,868.2 323.2,867.7 323.8,867.2 324.3,866.7 324.9,866.2 325.4,865.7 326.0,865.1 326.5,864.6 327.1,864.1 327.6,863.5 328.2,863.0 328.8,862.4 329.3,861.8 329.9,861.3 330.4,860.7 331.0,860.1 331.5,859.5 332.1,858.9 332.6,858.3 333.2,857.7 333.8,857.1 334.3,856.5 334.9,855.9 335.4,855.2 336.0,854.6 336.5,853.9 337.1,853.3 337.6,852.6 338.2,851.9 338.8,851.3 339.3,850.6 339.9,849.9 340.4,849.3 341.0,848.6 341.5,847.9 342.1,847.2 342.6,846.6 343.2,845.9 343.8,845.2 344.3,844.5 344.9,843.8 345.4,843.1 346.0,842.4 346.5,841.7 347.1,841.1 347.6,840.4 348.2,839.7 348.8,839.0 349.3,838.2 349.9,837.5 350.4,836.8 351.0,836.1 351.5,835.4 352.1,834.7 352.6,834.0 353.2,833.2 353.8,832.5 354.3,831.8 354.9,831.0 355.4,830.4 356.0,829.6 356.5,828.7 357.1,828.1 357.6,827.3 358.2,826.5 358.8,825.9 359.3,825.1 359.9,824.3 360.4,823.6 361.0,822.9 361.5,822.3 362.1,821.5 362.6,820.6 363.2,819.8 363.8,818.8 364.3,818.2 364.9,817.6 365.4,816.9 366.0,816.2 366.5,815.3 367.1,814.6 367.6,814.0 368.2,812.9 368.8,811.9 369.3,811.2 369.9,810.5 370.4,809.5 371.0,808.5 371.5,808.0 372.1,806.9 372.6,805.9 373.2,805.2 373.8,804.2 374.3,803.2 374.9,802.3 375.4,801.4 376.0,800.7 376.5,799.8 377.1,798.9 377.6,798.3 378.2,797.7 378.8,796.8 379.3,796.1 379.9,795.6 380.4,794.9 381.0,794.4 381.5,794.1 382.1,793.6 382.6,792.9 383.2,792.5 383.7,792.0 384.3,791.7 384.9,791.5 385.4,791.1 386.0,790.9 386.5,790.6 387.1,790.1 387.6,789.9 388.2,789.6 388.7,789.3 389.3,789.4 389.9,789.1 390.4,788.7 391.0,788.6 391.5,788.4 392.1,788.1 392.6,787.8 393.2,787.8 393.7,787.7 394.3,787.3 394.9,787.3 395.4,787.2 396.0,787.0 396.5,786.9 397.1,786.7 397.6,786.4 398.2,786.1 398.7,786.0 399.3,786.0 399.9,785.9 400.4,785.9 401.0,786.0 401.5,786.0 402.1,785.9 402.6,786.0 403.2,786.1 403.7,786.1 404.3,786.1 404.9,786.1 405.4,786.0 406.0,785.9 406.5,785.9 407.1,785.8 407.6,785.6 408.2,785.7 408.7,785.7 409.3,785.6 409.9,785.7 410.4,785.6 411.0,785.1 411.5,784.9 412.1,784.8 412.6,784.2 413.2,784.1 413.7,783.8 414.3,783.3 414.9,783.0 415.4,782.6 416.0,782.3 416.5,782.3 417.1,781.9 417.6,781.4 418.2,781.2 418.7,780.8 419.3,779.9 419.9,779.2 420.4,778.9 421.0,778.4 421.5,777.8 422.1,777.1 422.6,776.6 423.2,776.0 423.7,775.5 424.3,774.9 424.9,774.1 425.4,773.1 426.0,772.4 426.5,771.9 427.1,771.3 427.6,771.0 428.2,770.6 428.7,770.1 429.3,769.6 429.9,769.1 430.4,768.2 431.0,767.6 431.5,767.1 432.1,766.7 432.6,766.5 433.2,766.0 433.7,765.5 434.3,764.8 434.9,764.1 435.4,763.9 436.0,763.8 436.5,763.4 437.1,763.2 437.6,763.2 438.2,763.2 438.7,763.0 439.3,763.1 439.9,763.5 440.4,763.9 441.0,764.3 441.5,764.7 442.1,765.1 442.6,765.8 443.2,766.3 443.7,766.9 444.3,767.6 444.9,768.3 445.4,768.7 446.0,769.1 446.5,769.9 447.1,770.4 447.6,771.1 448.2,772.0 448.7,772.7 449.3,773.3 449.9,774.0 450.4,774.8 451.0,775.7 451.5,776.4 452.1,777.0 452.6,778.0 453.2,778.8 453.7,779.4 454.3,780.1 454.9,781.0 455.4,781.7 456.0,782.3 456.5,783.1 457.1,783.9 457.6,784.8 458.2,785.6 458.7,786.5 459.3,787.4 459.9,788.1 460.4,788.9 461.0,789.8 461.5,790.8 462.1,791.6 462.6,792.5 463.2,793.9 463.7,795.0 464.3,795.9 464.9,796.9 465.4,797.9 466.0,799.0 466.5,799.8 467.1,800.7 467.6,801.9 468.2,802.9 468.7,804.0 469.3,804.8 469.9,805.7 470.4,806.8 471.0,808.2 471.5,809.3 472.1,809.8 472.6,810.7 473.2,811.8 473.7,813.2 474.3,814.2 474.9,815.1 475.4,816.4 476.0,817.4 476.5,818.1 477.1,819.0 477.6,820.0 478.2,821.3 478.7,822.1 479.3,823.1 479.9,824.4 480.4,825.5 481.0,826.2 481.5,826.9 482.1,827.8 482.6,828.6 483.2,829.4 483.7,830.1 484.3,830.9 484.9,831.4 485.4,831.6 486.0,832.2 486.5,832.7 487.1,833.0 487.6,833.2 488.2,833.4 488.7,833.9 489.3,834.2 489.9,834.5 490.4,834.7 491.0,835.0 491.5,835.2 492.1,835.5 492.6,835.7 493.2,835.9 493.7,836.2 494.3,836.4 494.8,836.6 495.4,836.8 496.0,837.0 496.5,837.2 497.1,837.4 497.6,837.7 498.2,837.9 498.7,838.1 499.3,838.3 499.8,838.4 500.4,838.6 501.0,838.8 501.5,839.0 502.1,839.1 502.6,839.3 503.2,839.5 503.7,839.6 504.3,839.8 504.8,840.0 505.4,840.2 506.0,840.4 506.5,840.6 507.1,840.8 507.6,841.1 508.2,841.3 508.7,841.6 509.3,841.9 509.8,842.3 510.4,842.6 511.0,843.0 511.5,843.5 512.1,843.9 512.6,844.4 513.2,844.9 513.7,845.5 514.3,846.1 514.8,846.7 515.4,847.4 516.0,848.1 516.5,848.8 517.1,849.5 517.6,850.3 518.2,851.0 518.7,851.7 519.3,852.5 519.8,853.2 520.4,854.0 521.0,854.7 521.5,855.5 522.1,856.2 522.6,857.0 523.2,857.7 523.7,858.4 524.3,859.2 524.8,859.9 525.4,860.7 526.0,861.4 526.5,862.1 527.1,862.9 527.6,863.6 528.2,864.4 528.7,865.1 529.3,865.8 529.8,866.6 530.4,867.3 531.0,868.1 531.5,868.8 532.1,869.5 532.6,870.2 533.2,871.0 533.7,871.7 534.3,872.4 534.8,873.1 535.4,873.8 536.0,874.4 536.5,875.0 537.1,875.6 537.6,876.1 538.2,876.6 538.7,877.0 539.3,877.4 539.8,877.8 540.4,878.2 541.0,878.6 541.5,879.0 542.1,879.4 542.6,879.7 543.2,880.1 543.7,880.5 544.3,880.9 544.8,881.2 545.4,881.6 546.0,882.0 546.5,882.3 547.1,882.7 547.6,883.0 548.2,883.3 548.7,883.7 549.3,884.0 549.8,884.3 550.4,884.5 551.0,884.8 551.5,885.1 552.1,885.3 552.6,885.6 553.2,885.8 553.7,886.0 554.3,886.2 554.8,886.4 555.4,886.5 556.0,886.7 556.5,886.8 557.1,886.9 557.6,887.1 558.2,887.1 558.7,887.2 559.3,887.3 559.8,887.3 560.4,887.3 561.0,887.3 561.5,887.3 562.1,887.2 562.6,887.1 563.2,887.1 563.7,887.0 564.3,886.9 564.8,886.8 565.4,886.7 566.0,886.6 566.5,886.5 567.1,886.4 567.6,886.3 568.2,886.2 568.7,886.1 569.3,886.0 569.8,885.9 570.4,885.8 571.0,885.7 571.5,885.7 572.1,885.6 572.6,885.5 573.2,885.4 573.7,885.4 574.3,885.3 574.8,885.2 575.4,885.2 576.0,885.1 576.5,885.1 577.1,885.0 577.6,884.9 578.2,884.9 578.7,884.8 579.3,884.8 579.8,884.7 580.4,884.7 581.0,884.6 581.5,884.6 582.1,884.6 582.6,884.5 583.2,884.5 583.7,884.5 584.3,884.5 584.8,884.5 585.4,884.5 586.0,884.6 586.5,884.6 587.1,884.7 587.6,884.8 588.2,884.9 588.7,885.1 589.3,885.2 589.8,885.4 590.4,885.6 591.0,885.8 591.5,886.1 592.1,886.3 592.6,886.6 593.2,886.9 593.7,887.2 594.3,887.6 594.8,887.9 595.4,888.2 596.0,888.6 596.5,888.9 597.1,889.3 597.6,889.6 598.2,890.0 598.7,890.4 599.3,890.8 599.8,891.1 600.4,891.5 601.0,891.9 601.5,892.2 602.1,892.6 602.6,892.9 603.2,893.3 603.7,893.6 604.3,893.9 604.8,894.2 605.4,894.6 605.9,894.9 606.5,895.2 607.1,895.5 607.6,895.8 608.2,896.2 608.7,896.5 609.3,896.8 609.8,897.1 610.4,897.4 610.9,897.8 611.5,898.1 612.1,898.4 612.6,898.7 613.2,899.0 613.7,899.3 614.3,899.6 614.8,899.8 615.4,900.1 615.9,900.4 616.5,900.6 617.1,900.9 617.6,901.1 618.2,901.3 618.7,901.5 619.3,901.7 619.8,901.9 620.4,902.1 620.9,902.2 621.5,902.4 622.1,902.5 622.6,902.7 623.2,902.8 623.7,902.9 624.3,903.0 624.8,903.1 625.4,903.2 625.9,903.3 626.5,903.4 627.1,903.5 627.6,903.6 628.2,903.7 628.7,903.7 629.3,903.8 629.8,903.8 630.4,903.9 630.9,903.9 631.5,904.0 632.1,904.0 632.6,904.1 633.2,904.1 633.7,904.2 634.3,904.2 634.8,904.3 635.4,904.3 635.9,904.4 636.5,904.4 637.1,904.4 637.6,904.5 638.2,904.5 638.7,904.6 639.3,904.6 639.8,904.7 640.4,904.7 640.9,904.7 641.5,904.8 642.1,904.8 642.6,904.9 643.2,904.9 643.7,904.9 644.3,905.0 644.8,905.0 645.4,905.1 645.9,905.1 646.5,905.1 647.1,905.2 647.6,905.2 648.2,905.2 648.7,905.2 649.3,905.3 649.8,905.3 650.4,905.3 650.9,905.4 651.5,905.4 652.1,905.4 652.6,905.4 653.2,905.4 653.7,905.4 654.3,905.5 654.8,905.5 655.4,905.5 655.9,905.5 656.5,905.5"/>
<polyline class="ln" stroke="#A5A5A5" stroke-width="2.8" points="101.0,914.2 102.1,914.2 103.2,914.2 104.3,914.2 105.4,914.2 106.6,914.2 107.7,914.2 108.8,914.2 109.9,914.2 111.0,914.2 112.1,914.2 113.2,914.2 114.3,914.2 115.4,914.2 116.6,914.2 117.7,914.2 118.8,914.2 119.9,914.2 121.0,914.2 122.1,914.2 123.2,914.2 124.3,914.2 125.4,914.2 126.6,914.2 127.7,914.2 128.8,914.2 129.9,914.2 131.0,914.2 132.1,914.2 133.2,914.2 134.3,914.2 135.4,914.2 136.6,914.2 137.7,914.2 138.8,914.2 139.9,914.2 141.0,914.2 142.1,914.2 143.2,914.2 144.3,914.2 145.4,914.2 146.6,914.2 147.7,914.2 148.8,914.2 149.9,914.2 151.0,914.2 152.1,914.2 153.2,914.2 154.3,914.2 155.4,914.2 156.6,914.2 157.7,914.2 158.8,914.2 159.9,914.2 161.0,914.2 162.1,914.2 163.2,914.2 164.3,914.2 165.4,914.2 166.5,914.2 167.7,914.2 168.8,914.2 169.9,914.2 171.0,914.2 172.1,914.2 173.2,914.2 174.3,914.2 175.4,914.2 176.5,914.2 177.7,914.2 178.8,914.2 179.9,914.2 181.0,914.2 182.1,914.2 183.2,914.2 184.3,914.2 185.4,914.2 186.5,914.2 187.7,914.2 188.8,914.2 189.9,914.2 191.0,914.2 192.1,914.2 193.2,914.2 194.3,914.2 195.4,914.2 196.5,914.2 197.7,914.2 198.8,914.2 199.0,913.8 199.3,912.7 199.6,911.0 199.9,908.8 200.2,906.2 200.4,903.3 200.7,898.9 201.0,892.0 201.3,883.8 201.5,875.0 201.8,866.8 202.1,859.2 202.4,851.3 202.7,843.4 202.9,835.3 203.2,827.3 203.5,819.5 203.8,812.0 204.0,804.9 204.3,798.3 204.6,792.2 204.9,786.4 205.2,780.8 205.4,775.5 205.7,770.3 206.0,765.2 206.3,760.1 206.5,755.1 206.8,750.0 207.1,744.8 207.4,739.5 207.7,734.2 207.9,729.1 208.2,724.1 208.5,719.4 208.8,715.0 209.0,711.1 209.3,707.5 209.6,704.1 209.9,700.9 210.2,697.9 210.4,695.0 210.7,692.1 211.0,689.3 211.3,686.5 211.5,683.5 211.8,680.5 212.1,677.4 212.4,674.3 212.7,671.2 212.9,668.1 213.2,665.2 213.5,662.5 213.8,660.0 214.0,657.8 214.3,655.8 214.6,653.8 214.9,651.7 215.2,649.8 215.4,648.0 215.7,646.4 216.0,645.1 216.3,644.2 216.5,643.8 216.8,643.9 217.1,644.8 217.4,646.3 217.7,648.3 217.9,650.6 218.2,653.1 218.5,656.2 218.8,660.5 219.0,665.5 219.3,670.6 219.6,675.5 219.9,679.9 220.2,684.4 220.4,688.9 220.7,693.4 221.0,697.9 221.3,702.5 221.5,707.0 221.8,711.5 222.1,715.9 222.4,720.3 222.7,724.6 222.9,728.8 223.2,732.9 223.5,736.9 223.8,740.7 224.0,744.4 224.3,747.9 224.6,751.4 224.9,754.9 225.2,758.2 225.4,761.6 225.7,764.9 226.0,768.1 226.3,771.2 226.5,774.3 226.8,777.3 227.1,780.2 227.4,782.9 227.7,785.6 227.9,788.2 228.2,790.7 228.5,793.1 228.8,795.3 229.0,797.5 229.3,799.6 229.6,801.7 229.9,803.7 230.2,805.8 230.4,807.7 230.7,809.6 231.0,811.5 231.3,813.4 231.5,815.1 231.8,816.9 232.1,818.5 232.4,820.1 232.7,821.7 232.9,823.2 233.2,824.6 233.5,826.0 233.8,827.3 234.0,828.5 234.3,829.7 234.6,830.8 234.9,831.8 235.2,832.8 235.4,833.8 235.7,834.8 236.0,835.8 236.3,836.7 236.5,837.6 236.8,838.6 237.1,839.5 237.4,840.4 237.7,841.3 237.9,842.2 238.2,843.0 238.5,843.8 238.8,844.7 239.0,845.5 239.3,846.2 239.6,847.0 239.9,847.7 240.2,848.4 240.4,849.1 240.7,849.7 241.0,850.3 241.3,850.9 241.5,851.5 241.8,852.0 242.1,852.5 242.4,853.0 242.7,853.4 242.9,853.9 243.2,854.3 243.5,854.7 243.8,855.2 244.0,855.6 244.3,856.0 244.6,856.5 244.9,856.9 245.2,857.3 245.4,857.7 246.0,858.6 246.5,859.4 247.1,860.2 247.7,861.0 248.2,861.8 248.8,862.5 249.3,863.2 249.9,863.9 250.4,864.6 251.0,865.2 251.5,865.8 252.1,866.4 252.7,866.9 253.2,867.4 253.8,867.9 254.3,868.3 254.9,868.6 255.4,869.0 256.0,869.3 256.5,869.7 257.1,870.0 257.7,870.3 258.2,870.7 258.8,871.0 259.3,871.3 259.9,871.6 260.4,871.9 261.0,872.2 261.5,872.5 262.1,872.7 262.7,873.0 263.2,873.3 263.8,873.5 264.3,873.7 264.9,873.9 265.4,874.1 266.0,874.3 266.5,874.5 267.1,874.7 267.6,874.8 268.2,875.0 268.8,875.1 269.3,875.3 269.9,875.4 270.4,875.5 271.0,875.6 271.5,875.8 272.1,875.9 272.6,876.0 273.2,876.1 273.8,876.2 274.3,876.3 274.9,876.3 275.4,876.4 276.0,876.5 276.5,876.5 277.1,876.6 277.6,876.6 278.2,876.6 278.8,876.7 279.3,876.7 279.9,876.7 280.4,876.6 281.0,876.6 281.5,876.6 282.1,876.5 282.6,876.5 283.2,876.4 283.8,876.3 284.3,876.2 284.9,876.1 285.4,876.0 286.0,875.9 286.5,875.8 287.1,875.6 287.6,875.5 288.2,875.3 288.8,875.2 289.3,875.0 289.9,874.8 290.4,874.6 291.0,874.4 291.5,874.2 292.1,874.0 292.6,873.8 293.2,873.6 293.8,873.3 294.3,873.1 294.9,872.8 295.4,872.6 296.0,872.3 296.5,872.0 297.1,871.7 297.6,871.4 298.2,871.1 298.8,870.8 299.3,870.5 299.9,870.2 300.4,869.8 301.0,869.5 301.5,869.1 302.1,868.7 302.6,868.3 303.2,867.9 303.8,867.5 304.3,867.1 304.9,866.7 305.4,866.2 306.0,865.8 306.5,865.3 307.1,864.8 307.6,864.3 308.2,863.8 308.8,863.3 309.3,862.8 309.9,862.3 310.4,861.7 311.0,861.1 311.5,860.6 312.1,860.0 312.6,859.4 313.2,858.7 313.8,858.1 314.3,857.5 314.9,856.9 315.4,856.2 316.0,855.6 316.5,854.9 317.1,854.3 317.6,853.6 318.2,852.9 318.8,852.2 319.3,851.5 319.9,850.8 320.4,850.1 321.0,849.4 321.5,848.7 322.1,847.9 322.6,847.2 323.2,846.4 323.8,845.7 324.3,844.9 324.9,844.1 325.4,843.3 326.0,842.5 326.5,841.7 327.1,840.9 327.6,840.1 328.2,839.2 328.8,838.4 329.3,837.5 329.9,836.7 330.4,835.8 331.0,834.9 331.5,834.0 332.1,833.1 332.6,832.2 333.2,831.3 333.8,830.4 334.3,829.5 334.9,828.6 335.4,827.7 336.0,826.8 336.5,825.9 337.1,825.0 337.6,824.0 338.2,823.1 338.8,822.2 339.3,821.3 339.9,820.4 340.4,819.5 341.0,818.5 341.5,817.6 342.1,816.7 342.6,815.7 343.2,814.8 343.8,813.9 344.3,812.9 344.9,812.0 345.4,811.0 346.0,810.1 346.5,809.1 347.1,808.1 347.6,807.2 348.2,806.2 348.8,805.2 349.3,804.2 349.9,803.2 350.4,802.3 351.0,801.3 351.5,800.3 352.1,799.3 352.6,798.3 353.2,797.3 353.8,796.3 354.3,795.3 354.9,794.8 355.4,793.4 356.0,792.3 356.5,791.2 357.1,790.3 357.6,789.5 358.2,788.5 358.8,787.5 359.3,786.5 359.9,785.5 360.4,784.4 361.0,783.5 361.5,782.3 362.1,781.0 362.6,780.2 363.2,779.3 363.8,778.2 364.3,777.4 364.9,776.0 365.4,775.4 366.0,775.0 366.5,774.0 367.1,773.0 367.6,771.7 368.2,770.0 368.8,768.9 369.3,768.3 369.9,767.2 370.4,766.6 371.0,765.6 371.5,763.9 372.1,762.7 372.6,761.7 373.2,760.3 373.8,759.2 374.3,758.2 374.9,756.6 375.4,755.2 376.0,754.3 376.5,753.5 377.1,752.4 377.6,751.5 378.2,750.5 378.8,749.7 379.3,749.0 379.9,748.6 380.4,748.2 381.0,747.3 381.5,746.8 382.1,746.3 382.6,745.7 383.2,745.5 383.7,744.9 384.3,744.5 384.9,744.4 385.4,744.1 386.0,743.6 386.5,742.6 387.1,742.7 387.6,742.9 388.2,742.2 388.7,741.7 389.3,741.4 389.9,741.8 390.4,741.2 391.0,740.6 391.5,740.6 392.1,740.4 392.6,740.3 393.2,739.9 393.7,739.2 394.3,738.7 394.9,738.7 395.4,738.5 396.0,738.3 396.5,738.1 397.1,737.8 397.6,737.4 398.2,737.4 398.7,737.3 399.3,737.0 399.9,736.8 400.4,736.9 401.0,736.5 401.5,736.4 402.1,736.6 402.6,736.6 403.2,736.5 403.7,737.1 404.3,737.0 404.9,736.7 405.4,737.4 406.0,737.3 406.5,736.7 407.1,736.6 407.6,737.1 408.2,737.2 408.7,736.5 409.3,736.5 409.9,736.6 410.4,736.2 411.0,735.6 411.5,735.4 412.1,735.4 412.6,735.2 413.2,735.5 413.7,734.9 414.3,734.5 414.9,734.8 415.4,734.6 416.0,734.0 416.5,734.0 417.1,733.9 417.6,733.5 418.2,733.2 418.7,732.7 419.3,732.0 419.9,731.0 420.4,730.3 421.0,729.4 421.5,728.8 422.1,728.3 422.6,727.7 423.2,727.7 423.7,727.2 424.3,726.2 424.9,725.5 425.4,724.8 426.0,723.1 426.5,721.0 427.1,719.5 427.6,718.4 428.2,717.7 428.7,716.6 429.3,715.9 429.9,715.7 430.4,715.5 431.0,715.1 431.5,714.6 432.1,713.8 432.6,713.9 433.2,714.0 433.7,713.6 434.3,713.6 434.9,713.6 435.4,713.6 436.0,714.1 436.5,714.5 437.1,713.4 437.6,711.8 438.2,710.5 438.7,709.6 439.3,709.5 439.9,709.8 440.4,710.6 441.0,711.8 441.5,712.9 442.1,713.9 442.6,715.6 443.2,716.9 443.7,717.7 444.3,718.7 444.9,719.4 445.4,719.6 446.0,719.8 446.5,720.1 447.1,721.0 447.6,722.1 448.2,722.5 448.7,723.0 449.3,723.9 449.9,724.7 450.4,725.3 451.0,726.4 451.5,727.4 452.1,728.2 452.6,729.1 453.2,729.6 453.7,730.9 454.3,732.0 454.9,732.7 455.4,733.7 456.0,734.6 456.5,735.7 457.1,736.8 457.6,737.5 458.2,738.2 458.7,739.5 459.3,741.0 459.9,741.6 460.4,742.2 461.0,743.8 461.5,745.4 462.1,746.9 462.6,747.9 463.2,749.3 463.7,750.4 464.3,751.5 464.9,753.2 465.4,754.8 466.0,756.5 466.5,757.9 467.1,759.2 467.6,760.6 468.2,762.2 468.7,763.6 469.3,765.1 469.9,766.4 470.4,768.0 471.0,770.0 471.5,771.5 472.1,772.5 472.6,774.1 473.2,775.8 473.7,777.3 474.3,778.6 474.9,779.9 475.4,781.6 476.0,783.1 476.5,784.1 477.1,785.2 477.6,786.6 478.2,788.0 478.7,789.5 479.3,791.0 479.9,792.1 480.4,793.5 481.0,794.8 481.5,796.1 482.1,797.3 482.6,798.2 483.2,799.4 483.7,800.2 484.3,801.0 484.9,802.0 485.4,802.7 486.0,803.5 486.5,803.9 487.1,804.5 487.6,805.3 488.2,806.0 488.7,806.7 489.3,807.0 489.9,807.3 490.4,807.7 491.0,808.2 491.5,808.6 492.1,809.0 492.6,809.3 493.2,809.7 493.7,810.0 494.3,810.3 494.8,810.5 495.4,810.8 496.0,811.0 496.5,811.2 497.1,811.5 497.6,811.7 498.2,811.9 498.7,812.1 499.3,812.4 499.8,812.6 500.4,812.8 501.0,813.1 501.5,813.4 502.1,813.7 502.6,814.0 503.2,814.3 503.7,814.7 504.3,815.1 504.8,815.6 505.4,816.0 506.0,816.4 506.5,816.9 507.1,817.3 507.6,817.8 508.2,818.3 508.7,818.8 509.3,819.4 509.8,819.9 510.4,820.5 511.0,821.2 511.5,821.9 512.1,822.6 512.6,823.3 513.2,824.1 513.7,824.9 514.3,825.8 514.8,826.6 515.4,827.5 516.0,828.4 516.5,829.3 517.1,830.2 517.6,831.1 518.2,832.1 518.7,833.0 519.3,833.9 519.8,834.9 520.4,835.9 521.0,836.8 521.5,837.8 522.1,838.8 522.6,839.7 523.2,840.7 523.7,841.7 524.3,842.8 524.8,843.8 525.4,844.8 526.0,845.9 526.5,846.9 527.1,848.0 527.6,849.0 528.2,850.1 528.7,851.1 529.3,852.1 529.8,853.2 530.4,854.2 531.0,855.1 531.5,856.1 532.1,857.0 532.6,857.9 533.2,858.8 533.7,859.6 534.3,860.4 534.8,861.2 535.4,862.0 536.0,862.7 536.5,863.4 537.1,864.1 537.6,864.8 538.2,865.5 538.7,866.1 539.3,866.7 539.8,867.3 540.4,867.9 541.0,868.5 541.5,869.1 542.1,869.6 542.6,870.2 543.2,870.7 543.7,871.2 544.3,871.7 544.8,872.2 545.4,872.6 546.0,873.0 546.5,873.4 547.1,873.8 547.6,874.2 548.2,874.5 548.7,874.8 549.3,875.1 549.8,875.4 550.4,875.6 551.0,875.8 551.5,876.1 552.1,876.3 552.6,876.5 553.2,876.7 553.7,876.9 554.3,877.0 554.8,877.1 555.4,877.3 556.0,877.4 556.5,877.4 557.1,877.5 557.6,877.5 558.2,877.5 558.7,877.5 559.3,877.4 559.8,877.3 560.4,877.2 561.0,877.2 561.5,877.1 562.1,877.0 562.6,877.0 563.2,876.9 563.7,876.8 564.3,876.8 564.8,876.7 565.4,876.6 566.0,876.6 566.5,876.5 567.1,876.4 567.6,876.3 568.2,876.3 568.7,876.2 569.3,876.1 569.8,876.1 570.4,876.0 571.0,875.9 571.5,875.9 572.1,875.8 572.6,875.7 573.2,875.7 573.7,875.6 574.3,875.5 574.8,875.4 575.4,875.4 576.0,875.3 576.5,875.2 577.1,875.2 577.6,875.1 578.2,875.0 578.7,875.0 579.3,874.9 579.8,874.8 580.4,874.8 581.0,874.7 581.5,874.6 582.1,874.5 582.6,874.5 583.2,874.4 583.7,874.3 584.3,874.3 584.8,874.3 585.4,874.4 586.0,874.5 586.5,874.6 587.1,874.7 587.6,874.9 588.2,875.1 588.7,875.3 589.3,875.6 589.8,875.8 590.4,876.1 591.0,876.4 591.5,876.8 592.1,877.1 592.6,877.5 593.2,877.9 593.7,878.3 594.3,878.7 594.8,879.1 595.4,879.5 596.0,879.9 596.5,880.3 597.1,880.8 597.6,881.2 598.2,881.6 598.7,882.0 599.3,882.5 599.8,882.9 600.4,883.3 601.0,883.8 601.5,884.2 602.1,884.6 602.6,885.0 603.2,885.4 603.7,885.9 604.3,886.3 604.8,886.6 605.4,887.0 605.9,887.4 606.5,887.8 607.1,888.2 607.6,888.6 608.2,889.0 608.7,889.4 609.3,889.8 609.8,890.2 610.4,890.6 610.9,890.9 611.5,891.3 612.1,891.7 612.6,892.1 613.2,892.4 613.7,892.8 614.3,893.2 614.8,893.5 615.4,893.9 615.9,894.2 616.5,894.5 617.1,894.9 617.6,895.2 618.2,895.5 618.7,895.8 619.3,896.1 619.8,896.4 620.4,896.6 620.9,896.9 621.5,897.1 622.1,897.3 622.6,897.5 623.2,897.6 623.7,897.8 624.3,897.9 624.8,898.0 625.4,898.1 625.9,898.2 626.5,898.3 627.1,898.4 627.6,898.5 628.2,898.5 628.7,898.6 629.3,898.6 629.8,898.7 630.4,898.7 630.9,898.8 631.5,898.8 632.1,898.9 632.6,898.9 633.2,898.9 633.7,899.0 634.3,899.0 634.8,899.1 635.4,899.1 635.9,899.1 636.5,899.2 637.1,899.2 637.6,899.2 638.2,899.3 638.7,899.3 639.3,899.3 639.8,899.4 640.4,899.4 640.9,899.4 641.5,899.5 642.1,899.5 642.6,899.5 643.2,899.5 643.7,899.6 644.3,899.6 644.8,899.6 645.4,899.6 645.9,899.6 646.5,899.6 647.1,899.6 647.6,899.6 648.2,899.6 648.7,899.6 649.3,899.6 649.8,899.6 650.4,899.6 650.9,899.6 651.5,899.6 652.1,899.6 652.6,899.6 653.2,899.6 653.7,899.6 654.3,899.5 654.8,899.5 655.4,899.5 655.9,899.4 656.5,899.4"/>
<polyline class="ln" stroke="#FFC000" stroke-width="2.8" points="101.0,914.2 102.1,914.2 103.2,914.2 104.3,914.2 105.4,914.2 106.6,914.2 107.7,914.2 108.8,914.2 109.9,914.2 111.0,914.2 112.1,914.2 113.2,914.2 114.3,914.2 115.4,914.2 116.6,914.2 117.7,914.2 118.8,914.2 119.9,914.2 121.0,914.2 122.1,914.2 123.2,914.2 124.3,914.2 125.4,914.2 126.6,914.2 127.7,914.2 128.8,914.2 129.9,914.2 131.0,914.2 132.1,914.2 133.2,914.2 134.3,914.2 135.4,914.2 136.6,914.2 137.7,914.2 138.8,914.2 139.9,914.2 141.0,914.2 142.1,914.2 143.2,914.2 144.3,914.2 145.4,914.2 146.6,914.2 147.7,914.2 148.8,914.2 149.9,914.2 151.0,914.2 152.1,914.2 153.2,914.2 154.3,914.2 155.4,914.2 156.6,914.2 157.7,914.2 158.8,914.2 159.9,914.2 161.0,914.2 162.1,914.2 163.2,914.2 164.3,914.2 165.4,914.2 166.5,914.2 167.7,914.2 168.8,914.2 169.9,914.2 171.0,914.2 172.1,914.2 173.2,914.2 174.3,914.2 175.4,914.2 176.5,914.2 177.7,914.2 178.8,914.2 179.9,914.2 181.0,914.2 182.1,914.2 183.2,914.2 184.3,914.2 185.4,914.2 186.5,914.2 187.7,914.2 188.8,914.2 189.9,914.2 191.0,914.2 192.1,914.2 193.2,914.2 194.3,914.2 195.4,914.2 196.5,914.2 197.7,914.2 198.8,914.2 199.0,913.8 199.3,912.7 199.6,911.0 199.9,908.8 200.2,906.2 200.4,903.3 200.7,898.9 201.0,892.0 201.3,883.8 201.5,875.0 201.8,866.8 202.1,859.2 202.4,851.3 202.7,843.4 202.9,835.3 203.2,827.3 203.5,819.5 203.8,812.0 204.0,804.9 204.3,798.3 204.6,792.2 204.9,786.4 205.2,780.8 205.4,775.5 205.7,770.3 206.0,765.2 206.3,760.1 206.5,755.1 206.8,750.0 207.1,744.8 207.4,739.5 207.7,734.3 207.9,729.2 208.2,724.2 208.5,719.5 208.8,715.1 209.0,711.0 209.3,706.8 209.6,702.4 209.9,698.6 210.2,695.8 210.4,694.8 210.7,695.1 211.0,696.0 211.3,697.3 211.5,698.9 211.8,700.6 212.1,702.7 212.4,705.6 212.7,709.1 212.9,713.1 213.2,717.2 213.5,721.3 213.8,725.3 214.0,729.5 214.3,734.0 214.6,738.6 214.9,743.3 215.2,748.1 215.4,752.9 215.7,757.6 216.0,762.2 216.3,766.7 216.5,770.9 216.8,775.1 217.1,779.2 217.4,783.4 217.7,787.6 217.9,791.6 218.2,795.6 218.5,799.4 218.8,803.1 219.0,806.6 219.3,809.9 219.6,813.0 219.9,815.8 220.2,818.6 220.4,821.4 220.7,824.1 221.0,826.7 221.3,829.2 221.5,831.7 221.8,834.1 222.1,836.4 222.4,838.6 222.7,840.6 222.9,842.6 223.2,844.5 223.5,846.2 223.8,847.8 224.0,849.3 224.3,850.6 224.6,851.9 224.9,853.1 225.2,854.3 225.4,855.5 225.7,856.6 226.0,857.6 226.3,858.7 226.5,859.7 226.8,860.6 227.1,861.5 227.4,862.4 227.7,863.3 227.9,864.1 228.2,864.9 228.5,865.7 228.8,866.6 229.0,867.3 229.3,868.0 229.6,868.6 229.9,869.2 230.2,869.7 230.4,870.2 230.7,870.7 231.0,871.2 231.3,871.7 231.5,872.2 231.8,872.7 232.1,873.2 232.4,873.6 232.7,874.1 232.9,874.6 233.2,875.1 233.5,875.6 233.8,876.0 234.0,876.5 234.3,877.0 234.6,877.4 234.9,877.9 235.2,878.3 235.4,878.7 235.7,879.2 236.0,879.6 236.3,880.0 236.5,880.4 236.8,880.8 237.1,881.1 237.4,881.5 237.7,881.9 237.9,882.2 238.2,882.5 238.5,882.8 238.8,883.1 239.0,883.4 239.3,883.6 239.6,883.9 239.9,884.1 240.2,884.4 240.4,884.6 240.7,884.9 241.0,885.1 241.3,885.3 241.5,885.6 241.8,885.8 242.1,886.1 242.4,886.3 242.7,886.5 242.9,886.8 243.2,887.0 243.5,887.2 243.8,887.5 244.0,887.7 244.3,887.9 244.6,888.1 244.9,888.4 245.2,888.6 245.4,888.8 246.0,889.2 246.5,889.7 247.1,890.1 247.7,890.5 248.2,890.9 248.8,891.2 249.3,891.6 249.9,891.9 250.4,892.2 251.0,892.5 251.5,892.8 252.1,893.1 252.7,893.4 253.2,893.6 253.8,893.9 254.3,894.1 254.9,894.4 255.4,894.7 256.0,894.9 256.5,895.2 257.1,895.4 257.7,895.7 258.2,895.9 258.8,896.1 259.3,896.4 259.9,896.6 260.4,896.8 261.0,897.0 261.5,897.2 262.1,897.4 262.7,897.6 263.2,897.8 263.8,898.0 264.3,898.2 264.9,898.4 265.4,898.6 266.0,898.7 266.5,898.9 267.1,899.0 267.6,899.2 268.2,899.3 268.8,899.5 269.3,899.6 269.9,899.7 270.4,899.9 271.0,900.0 271.5,900.1 272.1,900.2 272.6,900.3 273.2,900.5 273.8,900.6 274.3,900.7 274.9,900.8 275.4,900.9 276.0,901.0 276.5,901.1 277.1,901.2 277.6,901.3 278.2,901.3 278.8,901.4 279.3,901.5 279.9,901.6 280.4,901.6 281.0,901.7 281.5,901.7 282.1,901.8 282.6,901.8 283.2,901.9 283.8,901.9 284.3,902.0 284.9,902.0 285.4,902.0 286.0,902.0 286.5,902.1 287.1,902.1 287.6,902.1 288.2,902.1 288.8,902.1 289.3,902.1 289.9,902.1 290.4,902.1 291.0,902.0 291.5,902.0 292.1,902.0 292.6,902.0 293.2,901.9 293.8,901.9 294.3,901.8 294.9,901.8 295.4,901.7 296.0,901.7 296.5,901.6 297.1,901.6 297.6,901.5 298.2,901.4 298.8,901.3 299.3,901.3 299.9,901.2 300.4,901.1 301.0,901.0 301.5,900.9 302.1,900.8 302.6,900.7 303.2,900.6 303.8,900.4 304.3,900.3 304.9,900.2 305.4,900.1 306.0,899.9 306.5,899.8 307.1,899.7 307.6,899.5 308.2,899.4 308.8,899.2 309.3,899.1 309.9,898.9 310.4,898.8 311.0,898.6 311.5,898.4 312.1,898.2 312.6,898.1 313.2,897.9 313.8,897.7 314.3,897.5 314.9,897.3 315.4,897.1 316.0,896.9 316.5,896.7 317.1,896.5 317.6,896.2 318.2,896.0 318.8,895.8 319.3,895.5 319.9,895.3 320.4,895.0 321.0,894.8 321.5,894.5 322.1,894.2 322.6,894.0 323.2,893.7 323.8,893.4 324.3,893.1 324.9,892.9 325.4,892.6 326.0,892.3 326.5,892.0 327.1,891.7 327.6,891.4 328.2,891.1 328.8,890.8 329.3,890.5 329.9,890.2 330.4,889.9 331.0,889.6 331.5,889.2 332.1,888.9 332.6,888.6 333.2,888.3 333.8,887.9 334.3,887.6 334.9,887.2 335.4,886.9 336.0,886.5 336.5,886.2 337.1,885.8 337.6,885.4 338.2,885.1 338.8,884.7 339.3,884.3 339.9,883.9 340.4,883.5 341.0,883.1 341.5,882.7 342.1,882.3 342.6,881.9 343.2,881.5 343.8,881.1 344.3,880.6 344.9,880.2 345.4,879.8 346.0,879.4 346.5,879.0 347.1,878.5 347.6,878.1 348.2,877.7 348.8,877.3 349.3,876.8 349.9,876.4 350.4,876.0 351.0,875.6 351.5,875.1 352.1,874.7 352.6,874.3 353.2,873.9 353.8,873.5 354.3,873.0 354.9,872.6 355.4,872.2 356.0,871.8 356.5,871.4 357.1,871.0 357.6,870.6 358.2,870.2 358.8,869.8 359.3,869.4 359.9,869.0 360.4,868.6 361.0,868.2 361.5,867.9 362.1,867.5 362.6,867.1 363.2,866.7 363.8,866.4 364.3,866.0 364.9,865.6 365.4,865.2 366.0,864.9 366.5,864.5 367.1,864.1 367.6,863.7 368.2,863.4 368.8,863.0 369.3,862.6 369.9,862.2 370.4,861.8 371.0,861.4 371.5,860.9 372.1,860.5 372.6,860.0 373.2,859.5 373.8,859.0 374.3,858.6 374.9,858.1 375.4,857.6 376.0,857.1 376.5,856.6 377.1,856.1 377.6,855.7 378.2,855.2 378.8,854.8 379.3,854.4 379.9,854.0 380.4,853.6 381.0,853.3 381.5,852.9 382.1,852.6 382.6,852.2 383.2,851.9 383.7,851.6 384.3,851.3 384.9,851.0 385.4,850.8 386.0,850.5 386.5,850.2 387.1,850.0 387.6,849.8 388.2,849.5 388.7,849.3 389.3,849.1 389.9,848.9 390.4,848.8 391.0,848.6 391.5,848.4 392.1,848.3 392.6,848.1 393.2,848.0 393.7,847.9 394.3,847.8 394.9,847.7 395.4,847.6 396.0,847.5 396.5,847.4 397.1,847.3 397.6,847.3 398.2,847.2 398.7,847.1 399.3,847.1 399.9,847.0 400.4,847.0 401.0,846.9 401.5,846.8 402.1,846.8 402.6,846.7 403.2,846.7 403.7,846.6 404.3,846.5 404.9,846.4 405.4,846.4 406.0,846.3 406.5,846.2 407.1,846.1 407.6,845.9 408.2,845.8 408.7,845.7 409.3,845.5 409.9,845.4 410.4,845.2 411.0,845.0 411.5,844.9 412.1,844.7 412.6,844.5 413.2,844.3 413.7,844.1 414.3,843.9 414.9,843.7 415.4,843.5 416.0,843.3 416.5,843.1 417.1,842.9 417.6,842.7 418.2,842.5 418.7,842.2 419.3,842.0 419.9,841.8 420.4,841.5 421.0,841.3 421.5,841.0 422.1,840.8 422.6,840.5 423.2,840.2 423.7,839.9 424.3,839.5 424.9,839.2 425.4,838.8 426.0,838.5 426.5,838.1 427.1,837.8 427.6,837.4 428.2,837.0 428.7,836.7 429.3,836.4 429.9,836.0 430.4,835.7 431.0,835.4 431.5,835.2 432.1,834.9 432.6,834.7 433.2,834.4 433.7,834.2 434.3,834.1 434.9,833.9 435.4,833.8 436.0,833.6 436.5,833.5 437.1,833.4 437.6,833.3 438.2,833.3 438.7,833.2 439.3,833.2 439.9,833.2 440.4,833.3 441.0,833.3 441.5,833.5 442.1,833.6 442.6,833.7 443.2,833.9 443.7,834.1 444.3,834.4 444.9,834.7 445.4,835.0 446.0,835.3 446.5,835.6 447.1,836.0 447.6,836.4 448.2,836.8 448.7,837.1 449.3,837.5 449.9,837.9 450.4,838.4 451.0,838.8 451.5,839.2 452.1,839.7 452.6,840.1 453.2,840.6 453.7,841.0 454.3,841.5 454.9,842.0 455.4,842.5 456.0,843.0 456.5,843.6 457.1,844.1 457.6,844.7 458.2,845.2 458.7,845.8 459.3,846.4 459.9,847.0 460.4,847.6 461.0,848.2 461.5,848.8 462.1,849.4 462.6,850.1 463.2,850.7 463.7,851.4 464.3,852.0 464.9,852.7 465.4,853.3 466.0,854.0 466.5,854.6 467.1,855.2 467.6,855.9 468.2,856.5 468.7,857.1 469.3,857.7 469.9,858.3 470.4,858.9 471.0,859.5 471.5,860.1 472.1,860.6 472.6,861.2 473.2,861.8 473.7,862.3 474.3,862.9 474.9,863.4 475.4,863.9 476.0,864.5 476.5,865.0 477.1,865.5 477.6,866.0 478.2,866.5 478.7,866.9 479.3,867.4 479.9,867.8 480.4,868.2 481.0,868.6 481.5,869.0 482.1,869.4 482.6,869.7 483.2,870.1 483.7,870.4 484.3,870.6 484.9,870.9 485.4,871.1 486.0,871.3 486.5,871.5 487.1,871.7 487.6,871.9 488.2,872.0 488.7,872.2 489.3,872.3 489.9,872.4 490.4,872.6 491.0,872.7 491.5,872.8 492.1,872.9 492.6,873.0 493.2,873.1 493.7,873.1 494.3,873.2 494.8,873.3 495.4,873.3 496.0,873.4 496.5,873.4 497.1,873.4 497.6,873.5 498.2,873.5 498.7,873.5 499.3,873.6 499.8,873.6 500.4,873.6 501.0,873.6 501.5,873.7 502.1,873.7 502.6,873.8 503.2,873.8 503.7,873.9 504.3,873.9 504.8,874.0 505.4,874.1 506.0,874.2 506.5,874.2 507.1,874.4 507.6,874.5 508.2,874.6 508.7,874.7 509.3,874.9 509.8,875.0 510.4,875.2 511.0,875.4 511.5,875.6 512.1,875.8 512.6,876.0 513.2,876.3 513.7,876.6 514.3,876.9 514.8,877.2 515.4,877.5 516.0,877.9 516.5,878.2 517.1,878.6 517.6,879.0 518.2,879.5 518.7,879.9 519.3,880.4 519.8,880.8 520.4,881.3 521.0,881.8 521.5,882.2 522.1,882.7 522.6,883.2 523.2,883.7 523.7,884.2 524.3,884.6 524.8,885.1 525.4,885.6 526.0,886.1 526.5,886.5 527.1,887.0 527.6,887.4 528.2,887.8 528.7,888.3 529.3,888.7 529.8,889.1 530.4,889.5 531.0,889.9 531.5,890.3 532.1,890.7 532.6,891.1 533.2,891.5 533.7,891.9 534.3,892.3 534.8,892.6 535.4,893.0 536.0,893.4 536.5,893.8 537.1,894.1 537.6,894.5 538.2,894.8 538.7,895.2 539.3,895.5 539.8,895.8 540.4,896.2 541.0,896.5 541.5,896.8 542.1,897.1 542.6,897.4 543.2,897.6 543.7,897.9 544.3,898.1 544.8,898.4 545.4,898.6 546.0,898.8 546.5,899.0 547.1,899.2 547.6,899.4 548.2,899.5 548.7,899.7 549.3,899.8 549.8,899.9 550.4,900.1 551.0,900.1 551.5,900.2 552.1,900.3 552.6,900.4 553.2,900.4 553.7,900.4 554.3,900.5 554.8,900.5 555.4,900.5 556.0,900.5 556.5,900.6 557.1,900.6 557.6,900.6 558.2,900.6 558.7,900.6 559.3,900.6 559.8,900.6 560.4,900.6 561.0,900.6 561.5,900.6 562.1,900.6 562.6,900.6 563.2,900.6 563.7,900.6 564.3,900.5 564.8,900.5 565.4,900.5 566.0,900.5 566.5,900.5 567.1,900.4 567.6,900.4 568.2,900.4 568.7,900.4 569.3,900.3 569.8,900.3 570.4,900.2 571.0,900.1 571.5,900.1 572.1,900.0 572.6,899.9 573.2,899.8 573.7,899.7 574.3,899.7 574.8,899.6 575.4,899.5 576.0,899.4 576.5,899.3 577.1,899.2 577.6,899.2 578.2,899.1 578.7,899.0 579.3,899.0 579.8,898.9 580.4,898.9 581.0,898.9 581.5,898.8 582.1,898.8 582.6,898.8 583.2,898.8 583.7,898.9 584.3,898.9 584.8,899.0 585.4,899.1 586.0,899.1 586.5,899.2 587.1,899.4 587.6,899.5 588.2,899.6 588.7,899.7 589.3,899.9 589.8,900.0 590.4,900.2 591.0,900.4 591.5,900.5 592.1,900.7 592.6,900.9 593.2,901.1 593.7,901.3 594.3,901.5 594.8,901.6 595.4,901.8 596.0,902.0 596.5,902.2 597.1,902.4 597.6,902.6 598.2,902.8 598.7,903.0 599.3,903.3 599.8,903.5 600.4,903.7 601.0,903.9 601.5,904.1 602.1,904.3 602.6,904.6 603.2,904.8 603.7,905.0 604.3,905.2 604.8,905.4 605.4,905.6 605.9,905.8 606.5,906.0 607.1,906.2 607.6,906.4 608.2,906.6 608.7,906.8 609.3,906.9 609.8,907.1 610.4,907.3 610.9,907.4 611.5,907.6 612.1,907.7 612.6,907.9 613.2,908.0 613.7,908.2 614.3,908.3 614.8,908.4 615.4,908.6 615.9,908.7 616.5,908.8 617.1,908.9 617.6,909.1 618.2,909.2 618.7,909.3 619.3,909.4 619.8,909.5 620.4,909.6 620.9,909.7 621.5,909.8 622.1,909.9 622.6,910.0 623.2,910.1 623.7,910.1 624.3,910.2 624.8,910.3 625.4,910.4 625.9,910.5 626.5,910.5 627.1,910.6 627.6,910.7 628.2,910.7 628.7,910.8 629.3,910.8 629.8,910.9 630.4,910.9 630.9,911.0 631.5,911.0 632.1,911.1 632.6,911.1 633.2,911.2 633.7,911.2 634.3,911.2 634.8,911.3 635.4,911.3 635.9,911.3 636.5,911.3 637.1,911.4 637.6,911.4 638.2,911.4 638.7,911.4 639.3,911.4 639.8,911.5 640.4,911.5 640.9,911.5 641.5,911.5 642.1,911.5 642.6,911.5 643.2,911.5 643.7,911.5 644.3,911.5 644.8,911.5 645.4,911.5 645.9,911.5 646.5,911.4 647.1,911.4 647.6,911.4 648.2,911.4 648.7,911.4 649.3,911.4 649.8,911.3 650.4,911.3 650.9,911.3 651.5,911.3 652.1,911.2 652.6,911.2 653.2,911.2 653.7,911.1 654.3,911.1 654.8,911.1 655.4,911.0 655.9,911.0 656.5,910.9"/>
<polyline class="ln" stroke="#7030A0" stroke-width="2.8" points="101.0,914.2 102.1,914.2 103.2,914.2 104.3,914.2 105.4,914.2 106.6,914.2 107.7,914.2 108.8,914.2 109.9,914.2 111.0,914.2 112.1,914.2 113.2,914.2 114.3,914.2 115.4,914.2 116.6,914.2 117.7,914.2 118.8,914.2 119.9,914.2 121.0,914.2 122.1,914.2 123.2,914.2 124.3,914.2 125.4,914.2 126.6,914.2 127.7,914.2 128.8,914.2 129.9,914.2 131.0,914.2 132.1,914.2 133.2,914.2 134.3,914.2 135.4,914.2 136.6,914.2 137.7,914.2 138.8,914.2 139.9,914.2 141.0,914.2 142.1,914.2 143.2,914.2 144.3,914.2 145.4,914.2 146.6,914.2 147.7,914.2 148.8,914.2 149.9,914.2 151.0,914.2 152.1,914.2 153.2,914.2 154.3,914.2 155.4,914.2 156.6,914.2 157.7,914.2 158.8,914.2 159.9,914.2 161.0,914.2 162.1,914.2 163.2,914.2 164.3,914.2 165.4,914.2 166.5,914.2 167.7,914.2 168.8,914.2 169.9,914.2 171.0,914.2 172.1,914.2 173.2,914.2 174.3,914.2 175.4,914.2 176.5,914.2 177.7,914.2 178.8,914.2 179.9,914.2 181.0,914.2 182.1,914.2 183.2,914.2 184.3,914.2 185.4,914.2 186.5,914.2 187.7,914.2 188.8,914.2 189.9,914.2 191.0,914.2 192.1,914.2 193.2,914.2 194.3,914.2 195.4,914.2 196.5,914.2 197.7,914.2 198.8,914.2 199.0,913.8 199.3,912.7 199.6,911.0 199.9,908.8 200.2,906.2 200.4,903.3 200.7,898.9 201.0,892.0 201.3,883.8 201.5,875.0 201.8,866.8 202.1,859.2 202.4,851.3 202.7,843.4 202.9,835.3 203.2,827.3 203.5,819.5 203.8,812.0 204.0,804.9 204.3,798.3 204.6,792.2 204.9,786.3 205.2,780.7 205.4,775.3 205.7,770.0 206.0,764.9 206.3,759.9 206.5,754.9 206.8,750.0 207.1,744.9 207.4,739.7 207.7,734.9 207.9,730.5 208.2,727.1 208.5,724.0 208.8,721.2 209.0,719.4 209.3,719.1 209.6,719.7 209.9,720.9 210.2,722.4 210.4,724.2 210.7,726.1 211.0,728.8 211.3,732.1 211.5,735.8 211.8,739.6 212.1,743.4 212.4,747.2 212.7,751.1 212.9,755.3 213.2,759.5 213.5,763.9 213.8,768.3 214.0,772.7 214.3,777.1 214.6,781.5 214.9,785.8 215.2,789.9 215.4,794.1 215.7,798.5 216.0,802.9 216.3,807.3 216.5,811.6 216.8,815.8 217.1,819.9 217.4,823.6 217.7,827.1 217.9,830.2 218.2,832.9 218.5,835.4 218.8,837.9 219.0,840.2 219.3,842.5 219.6,844.7 219.9,846.8 220.2,848.8 220.4,850.7 220.7,852.6 221.0,854.3 221.3,855.9 221.5,857.4 221.8,858.8 222.1,860.1 222.4,861.3 222.7,862.4 222.9,863.4 223.2,864.4 223.5,865.3 223.8,866.2 224.0,867.1 224.3,867.9 224.6,868.7 224.9,869.5 225.2,870.3 225.4,871.0 225.7,871.7 226.0,872.4 226.3,873.0 226.5,873.7 226.8,874.3 227.1,874.9 227.4,875.5 227.7,876.0 227.9,876.6 228.2,877.1 228.5,877.6 228.8,878.2 229.0,878.7 229.3,879.2 229.6,879.7 229.9,880.1 230.2,880.5 230.4,880.8 230.7,881.2 231.0,881.5 231.3,881.9 231.5,882.3 231.8,882.6 232.1,883.0 232.4,883.4 232.7,883.7 232.9,884.1 233.2,884.5 233.5,884.8 233.8,885.2 234.0,885.5 234.3,885.9 234.6,886.3 234.9,886.6 235.2,887.0 235.4,887.3 235.7,887.7 236.0,888.0 236.3,888.3 236.5,888.7 236.8,889.0 237.1,889.3 237.4,889.7 237.7,890.0 237.9,890.3 238.2,890.6 238.5,890.9 238.8,891.2 239.0,891.5 239.3,891.8 239.6,892.0 239.9,892.3 240.2,892.6 240.4,892.8 240.7,893.0 241.0,893.3 241.3,893.5 241.5,893.7 241.8,893.9 242.1,894.1 242.4,894.3 242.7,894.5 242.9,894.6 243.2,894.8 243.5,895.0 243.8,895.2 244.0,895.3 244.3,895.5 244.6,895.7 244.9,895.8 245.2,896.0 245.4,896.2 246.0,896.5 246.5,896.8 247.1,897.2 247.7,897.5 248.2,897.8 248.8,898.1 249.3,898.4 249.9,898.7 250.4,899.0 251.0,899.3 251.5,899.6 252.1,899.8 252.7,900.1 253.2,900.4 253.8,900.6 254.3,900.8 254.9,901.1 255.4,901.3 256.0,901.5 256.5,901.7 257.1,901.8 257.7,902.0 258.2,902.2 258.8,902.3 259.3,902.5 259.9,902.6 260.4,902.8 261.0,903.0 261.5,903.1 262.1,903.3 262.7,903.4 263.2,903.6 263.8,903.7 264.3,903.9 264.9,904.0 265.4,904.1 266.0,904.3 266.5,904.4 267.1,904.6 267.6,904.7 268.2,904.8 268.8,904.9 269.3,905.1 269.9,905.2 270.4,905.3 271.0,905.4 271.5,905.5 272.1,905.6 272.6,905.7 273.2,905.8 273.8,905.9 274.3,906.0 274.9,906.1 275.4,906.2 276.0,906.3 276.5,906.3 277.1,906.4 277.6,906.5 278.2,906.5 278.8,906.6 279.3,906.6 279.9,906.6 280.4,906.7 281.0,906.7 281.5,906.8 282.1,906.8 282.6,906.8 283.2,906.9 283.8,906.9 284.3,906.9 284.9,906.9 285.4,907.0 286.0,907.0 286.5,907.0 287.1,907.0 287.6,907.0 288.2,907.0 288.8,907.0 289.3,907.0 289.9,907.0 290.4,907.0 291.0,907.0 291.5,907.0 292.1,907.0 292.6,906.9 293.2,906.9 293.8,906.9 294.3,906.9 294.9,906.8 295.4,906.8 296.0,906.7 296.5,906.7 297.1,906.6 297.6,906.6 298.2,906.5 298.8,906.4 299.3,906.4 299.9,906.3 300.4,906.2 301.0,906.1 301.5,906.1 302.1,906.0 302.6,905.9 303.2,905.8 303.8,905.7 304.3,905.7 304.9,905.6 305.4,905.5 306.0,905.4 306.5,905.3 307.1,905.2 307.6,905.1 308.2,905.0 308.8,904.9 309.3,904.8 309.9,904.7 310.4,904.6 311.0,904.5 311.5,904.4 312.1,904.2 312.6,904.1 313.2,904.0 313.8,903.9 314.3,903.8 314.9,903.7 315.4,903.5 316.0,903.4 316.5,903.3 317.1,903.2 317.6,903.0 318.2,902.9 318.8,902.8 319.3,902.6 319.9,902.5 320.4,902.4 321.0,902.2 321.5,902.1 322.1,902.0 322.6,901.8 323.2,901.7 323.8,901.5 324.3,901.4 324.9,901.2 325.4,901.1 326.0,900.9 326.5,900.8 327.1,900.6 327.6,900.4 328.2,900.3 328.8,900.1 329.3,899.9 329.9,899.7 330.4,899.6 331.0,899.4 331.5,899.2 332.1,899.0 332.6,898.8 333.2,898.6 333.8,898.4 334.3,898.2 334.9,898.0 335.4,897.8 336.0,897.5 336.5,897.3 337.1,897.1 337.6,896.9 338.2,896.6 338.8,896.4 339.3,896.2 339.9,895.9 340.4,895.7 341.0,895.4 341.5,895.2 342.1,894.9 342.6,894.7 343.2,894.4 343.8,894.2 344.3,893.9 344.9,893.6 345.4,893.4 346.0,893.1 346.5,892.8 347.1,892.5 347.6,892.2 348.2,891.9 348.8,891.7 349.3,891.4 349.9,891.1 350.4,890.8 351.0,890.4 351.5,890.1 352.1,889.8 352.6,889.5 353.2,889.2 353.8,888.9 354.3,888.6 354.9,888.2 355.4,887.9 356.0,887.6 356.5,887.3 357.1,886.9 357.6,886.6 358.2,886.3 358.8,885.9 359.3,885.6 359.9,885.3 360.4,884.9 361.0,884.6 361.5,884.3 362.1,883.9 362.6,883.6 363.2,883.3 363.8,882.9 364.3,882.6 364.9,882.3 365.4,882.0 366.0,881.6 366.5,881.3 367.1,881.0 367.6,880.7 368.2,880.3 368.8,880.0 369.3,879.7 369.9,879.4 370.4,879.1 371.0,878.8 371.5,878.5 372.1,878.2 372.6,877.8 373.2,877.5 373.8,877.2 374.3,876.9 374.9,876.6 375.4,876.3 376.0,876.0 376.5,875.7 377.1,875.4 377.6,875.1 378.2,874.8 378.8,874.5 379.3,874.2 379.9,873.9 380.4,873.6 381.0,873.3 381.5,873.0 382.1,872.8 382.6,872.5 383.2,872.2 383.7,871.9 384.3,871.6 384.9,871.3 385.4,871.0 386.0,870.7 386.5,870.5 387.1,870.2 387.6,869.9 388.2,869.6 388.7,869.4 389.3,869.1 389.9,868.9 390.4,868.7 391.0,868.4 391.5,868.2 392.1,868.0 392.6,867.8 393.2,867.6 393.7,867.5 394.3,867.3 394.9,867.2 395.4,867.1 396.0,867.0 396.5,866.9 397.1,866.8 397.6,866.8 398.2,866.7 398.7,866.6 399.3,866.6 399.9,866.5 400.4,866.5 401.0,866.4 401.5,866.4 402.1,866.4 402.6,866.3 403.2,866.3 403.7,866.2 404.3,866.2 404.9,866.1 405.4,866.0 406.0,866.0 406.5,865.9 407.1,865.8 407.6,865.7 408.2,865.6 408.7,865.5 409.3,865.3 409.9,865.2 410.4,865.0 411.0,864.9 411.5,864.7 412.1,864.6 412.6,864.4 413.2,864.2 413.7,864.1 414.3,863.9 414.9,863.8 415.4,863.6 416.0,863.4 416.5,863.3 417.1,863.1 417.6,862.9 418.2,862.8 418.7,862.6 419.3,862.4 419.9,862.3 420.4,862.1 421.0,861.9 421.5,861.8 422.1,861.6 422.6,861.4 423.2,861.2 423.7,861.0 424.3,860.9 424.9,860.7 425.4,860.5 426.0,860.3 426.5,860.1 427.1,859.9 427.6,859.7 428.2,859.5 428.7,859.3 429.3,859.2 429.9,859.0 430.4,858.8 431.0,858.6 431.5,858.4 432.1,858.3 432.6,858.1 433.2,858.0 433.7,857.8 434.3,857.7 434.9,857.6 435.4,857.5 436.0,857.4 436.5,857.3 437.1,857.3 437.6,857.2 438.2,857.1 438.7,857.1 439.3,857.0 439.9,857.0 440.4,857.0 441.0,857.1 441.5,857.1 442.1,857.2 442.6,857.3 443.2,857.5 443.7,857.6 444.3,857.8 444.9,858.0 445.4,858.2 446.0,858.5 446.5,858.8 447.1,859.1 447.6,859.3 448.2,859.6 448.7,859.9 449.3,860.3 449.9,860.6 450.4,860.9 451.0,861.2 451.5,861.6 452.1,861.9 452.6,862.2 453.2,862.6 453.7,863.0 454.3,863.3 454.9,863.7 455.4,864.1 456.0,864.5 456.5,864.8 457.1,865.2 457.6,865.6 458.2,866.1 458.7,866.5 459.3,866.9 459.9,867.3 460.4,867.8 461.0,868.2 461.5,868.6 462.1,869.1 462.6,869.5 463.2,870.0 463.7,870.4 464.3,870.9 464.9,871.3 465.4,871.8 466.0,872.2 466.5,872.7 467.1,873.1 467.6,873.6 468.2,874.0 468.7,874.5 469.3,874.9 469.9,875.3 470.4,875.7 471.0,876.2 471.5,876.6 472.1,877.0 472.6,877.4 473.2,877.8 473.7,878.2 474.3,878.6 474.9,879.0 475.4,879.4 476.0,879.8 476.5,880.2 477.1,880.6 477.6,880.9 478.2,881.3 478.7,881.6 479.3,881.9 479.9,882.2 480.4,882.5 481.0,882.8 481.5,883.0 482.1,883.3 482.6,883.5 483.2,883.7 483.7,883.9 484.3,884.0 484.9,884.2 485.4,884.3 486.0,884.4 486.5,884.6 487.1,884.7 487.6,884.8 488.2,884.9 488.7,885.0 489.3,885.0 489.9,885.1 490.4,885.2 491.0,885.3 491.5,885.3 492.1,885.4 492.6,885.4 493.2,885.5 493.7,885.6 494.3,885.6 494.8,885.7 495.4,885.7 496.0,885.8 496.5,885.8 497.1,885.9 497.6,885.9 498.2,885.9 498.7,886.0 499.3,886.0 499.8,886.0 500.4,886.0 501.0,886.1 501.5,886.1 502.1,886.1 502.6,886.1 503.2,886.2 503.7,886.2 504.3,886.2 504.8,886.3 505.4,886.3 506.0,886.4 506.5,886.5 507.1,886.5 507.6,886.6 508.2,886.7 508.7,886.9 509.3,887.0 509.8,887.1 510.4,887.3 511.0,887.5 511.5,887.6 512.1,887.8 512.6,888.0 513.2,888.2 513.7,888.4 514.3,888.7 514.8,888.9 515.4,889.2 516.0,889.4 516.5,889.7 517.1,889.9 517.6,890.2 518.2,890.5 518.7,890.8 519.3,891.1 519.8,891.4 520.4,891.7 521.0,892.0 521.5,892.4 522.1,892.7 522.6,893.1 523.2,893.4 523.7,893.8 524.3,894.2 524.8,894.6 525.4,894.9 526.0,895.3 526.5,895.7 527.1,896.1 527.6,896.4 528.2,896.8 528.7,897.2 529.3,897.5 529.8,897.9 530.4,898.2 531.0,898.5 531.5,898.9 532.1,899.2 532.6,899.5 533.2,899.8 533.7,900.1 534.3,900.4 534.8,900.6 535.4,900.9 536.0,901.2 536.5,901.5 537.1,901.8 537.6,902.0 538.2,902.3 538.7,902.5 539.3,902.8 539.8,903.0 540.4,903.2 541.0,903.4 541.5,903.6 542.1,903.8 542.6,904.0 543.2,904.1 543.7,904.3 544.3,904.4 544.8,904.6 545.4,904.7 546.0,904.8 546.5,904.9 547.1,905.0 547.6,905.1 548.2,905.2 548.7,905.3 549.3,905.4 549.8,905.5 550.4,905.5 551.0,905.6 551.5,905.6 552.1,905.7 552.6,905.7 553.2,905.8 553.7,905.8 554.3,905.8 554.8,905.8 555.4,905.8 556.0,905.8 556.5,905.8 557.1,905.8 557.6,905.8 558.2,905.8 558.7,905.8 559.3,905.8 559.8,905.8 560.4,905.8 561.0,905.7 561.5,905.7 562.1,905.7 562.6,905.7 563.2,905.7 563.7,905.7 564.3,905.7 564.8,905.6 565.4,905.6 566.0,905.6 566.5,905.6 567.1,905.5 567.6,905.5 568.2,905.5 568.7,905.5 569.3,905.4 569.8,905.4 570.4,905.4 571.0,905.3 571.5,905.3 572.1,905.2 572.6,905.2 573.2,905.1 573.7,905.0 574.3,905.0 574.8,904.9 575.4,904.9 576.0,904.8 576.5,904.8 577.1,904.7 577.6,904.6 578.2,904.6 578.7,904.5 579.3,904.5 579.8,904.5 580.4,904.4 581.0,904.4 581.5,904.4 582.1,904.3 582.6,904.3 583.2,904.3 583.7,904.3 584.3,904.3 584.8,904.3 585.4,904.4 586.0,904.4 586.5,904.5 587.1,904.5 587.6,904.6 588.2,904.7 588.7,904.8 589.3,904.9 589.8,905.0 590.4,905.2 591.0,905.3 591.5,905.4 592.1,905.6 592.6,905.7 593.2,905.8 593.7,906.0 594.3,906.1 594.8,906.3 595.4,906.4 596.0,906.6 596.5,906.7 597.1,906.9 597.6,907.1 598.2,907.2 598.7,907.4 599.3,907.6 599.8,907.8 600.4,908.0 601.0,908.2 601.5,908.4 602.1,908.6 602.6,908.8 603.2,909.0 603.7,909.2 604.3,909.4 604.8,909.6 605.4,909.7 605.9,909.9 606.5,910.1 607.1,910.2 607.6,910.3 608.2,910.5 608.7,910.6 609.3,910.7 609.8,910.8 610.4,910.9 610.9,911.0 611.5,911.1 612.1,911.2 612.6,911.3 613.2,911.4 613.7,911.5 614.3,911.6 614.8,911.7 615.4,911.8 615.9,911.8 616.5,911.9 617.1,912.0 617.6,912.1 618.2,912.1 618.7,912.2 619.3,912.2 619.8,912.3 620.4,912.3 620.9,912.4 621.5,912.4 622.1,912.5 622.6,912.5 623.2,912.6 623.7,912.6 624.3,912.6 624.8,912.7 625.4,912.7 625.9,912.7 626.5,912.8 627.1,912.8 627.6,912.8 628.2,912.9 628.7,912.9 629.3,912.9 629.8,913.0 630.4,913.0 630.9,913.0 631.5,913.0 632.1,913.1 632.6,913.1 633.2,913.1 633.7,913.1 634.3,913.2 634.8,913.2 635.4,913.2 635.9,913.2 636.5,913.2 637.1,913.3 637.6,913.3 638.2,913.3 638.7,913.3 639.3,913.3 639.8,913.3 640.4,913.3 640.9,913.3 641.5,913.3 642.1,913.4 642.6,913.4 643.2,913.4 643.7,913.4 644.3,913.4 644.8,913.4 645.4,913.4 645.9,913.4 646.5,913.4 647.1,913.4 647.6,913.4 648.2,913.4 648.7,913.3 649.3,913.3 649.8,913.3 650.4,913.3 650.9,913.3 651.5,913.3 652.1,913.3 652.6,913.3 653.2,913.2 653.7,913.2 654.3,913.2 654.8,913.2 655.4,913.2 655.9,913.1 656.5,913.1"/>
<polyline class="ln" stroke="#FF0000" stroke-width="2.8" points="101.0,913.5 102.1,914.1 103.2,914.0 104.3,913.7 105.4,913.3 106.6,914.0 107.7,913.5 108.8,913.4 109.9,913.9 111.0,913.7 112.1,912.8 113.2,912.6 114.3,914.1 115.4,913.5 116.6,913.7 117.7,912.8 118.8,912.1 119.9,913.2 121.0,913.8 122.1,913.0 123.2,912.5 124.3,914.0 125.4,913.8 126.6,913.3 127.7,914.1 128.8,913.9 129.9,913.6 131.0,912.4 132.1,913.7 133.2,912.5 134.3,913.9 135.4,913.9 136.6,913.6 137.7,913.1 138.8,912.6 139.9,913.0 141.0,913.8 142.1,913.9 143.2,912.7 144.3,912.8 145.4,913.6 146.6,914.1 147.7,914.0 148.8,914.0 149.9,913.0 151.0,910.6 152.1,912.2 153.2,912.6 154.3,914.0 155.4,912.3 156.6,913.7 157.7,913.3 158.8,913.0 159.9,912.7 161.0,913.3 162.1,914.1 163.2,913.7 164.3,914.0 165.4,913.7 166.5,912.8 167.7,913.0 168.8,913.9 169.9,913.8 171.0,914.0 172.1,913.5 173.2,912.1 174.3,910.9 175.4,913.8 176.5,914.1 177.7,913.8 178.8,912.8 179.9,914.0 181.0,912.5 182.1,913.9 183.2,914.0 184.3,913.7 185.4,912.9 186.5,913.0 187.7,913.0 188.8,912.6 189.9,913.5 191.0,912.8 192.1,914.2 193.2,914.2 194.3,913.8 195.4,913.8 196.5,913.2 197.7,911.9 198.8,914.2 199.0,913.8 199.3,912.7 199.6,911.0 199.9,908.8 200.2,906.2 200.4,903.3 200.7,898.9 201.0,892.0 201.3,883.8 201.5,875.0 201.8,866.8 202.1,859.1 202.4,851.1 202.7,842.9 202.9,834.6 203.2,826.5 203.5,818.6 203.8,811.2 204.0,804.4 204.3,798.3 204.6,792.8 204.9,787.3 205.2,782.0 205.4,777.2 205.7,772.9 206.0,769.4 206.3,766.7 206.5,764.6 206.8,762.7 207.1,761.1 207.4,759.7 207.7,758.7 207.9,758.3 208.2,758.4 208.5,758.8 208.8,759.5 209.0,760.4 209.3,761.5 209.6,762.7 209.9,764.9 210.2,767.8 210.4,771.3 210.7,775.3 211.0,779.5 211.3,783.8 211.5,788.0 211.8,791.9 212.1,795.3 212.4,798.4 212.7,801.6 212.9,804.8 213.2,808.0 213.5,811.1 213.8,814.0 214.0,816.9 214.3,819.5 214.6,822.0 214.9,824.2 215.2,826.1 215.4,827.9 215.7,829.6 216.0,831.2 216.3,832.8 216.5,834.3 216.8,835.8 217.1,837.2 217.4,838.5 217.7,839.8 217.9,841.0 218.2,842.1 218.5,843.2 218.8,844.2 219.0,845.2 219.3,846.1 219.6,846.9 219.9,847.7 220.2,848.5 220.4,849.2 220.7,849.9 221.0,850.6 221.3,851.2 221.5,851.8 221.8,852.5 222.1,853.0 222.4,853.6 222.7,854.2 222.9,854.7 223.2,855.2 223.5,855.7 223.8,856.2 224.0,856.6 224.3,857.1 224.6,857.6 224.9,858.0 225.2,858.4 225.4,858.9 225.7,859.3 226.0,859.7 226.3,860.1 226.5,860.5 226.8,860.9 227.1,861.3 227.4,861.7 227.7,862.0 227.9,862.4 228.2,862.7 228.5,863.1 228.8,863.1 229.0,863.5 229.3,863.8 229.6,864.1 229.9,864.5 230.2,864.8 230.4,865.1 230.7,865.5 231.0,865.8 231.3,866.1 231.5,866.5 231.8,866.8 232.1,867.1 232.4,867.4 232.7,867.7 232.9,868.0 233.2,868.3 233.5,868.6 233.8,868.9 234.0,869.2 234.3,869.5 234.6,869.8 234.9,870.0 235.2,870.3 235.4,870.6 235.7,870.8 236.0,871.1 236.3,871.4 236.5,871.7 236.8,871.9 237.1,872.2 237.4,872.5 237.7,872.7 237.9,873.0 238.2,873.3 238.5,873.6 238.8,873.8 239.0,874.1 239.3,874.4 239.6,874.6 239.9,874.9 240.2,875.2 240.4,875.4 240.7,875.7 241.0,875.9 241.3,876.2 241.5,876.5 241.8,876.7 242.1,877.0 242.4,877.2 242.7,877.5 242.9,877.7 243.2,878.0 243.5,878.2 243.8,878.4 244.0,878.7 244.3,878.9 244.6,879.2 244.9,879.4 245.2,879.6 245.4,879.8 246.0,880.3 246.5,880.7 247.1,881.1 247.7,881.5 248.2,881.9 248.8,882.3 249.3,882.6 249.9,883.0 250.4,883.3 251.0,883.7 251.5,884.0 252.1,884.3 252.7,884.7 253.2,885.0 253.8,885.3 254.3,885.6 254.9,885.9 255.4,886.2 256.0,886.4 256.5,886.7 257.1,887.0 257.7,887.2 258.2,887.5 258.8,887.8 259.3,888.0 259.9,888.2 260.4,888.5 261.0,888.7 261.5,888.9 262.1,889.2 262.7,889.4 263.2,889.6 263.8,889.8 264.3,890.0 264.9,890.2 265.4,890.4 266.0,890.6 266.5,890.8 267.1,891.0 267.6,891.2 268.2,891.4 268.8,891.6 269.3,891.8 269.9,892.0 270.4,892.1 271.0,892.3 271.5,892.5 272.1,892.7 272.6,892.9 273.2,893.0 273.8,893.2 274.3,893.4 274.9,893.5 275.4,893.7 276.0,893.8 276.5,894.0 277.1,894.1 277.6,894.3 278.2,894.4 278.8,894.6 279.3,894.7 279.9,894.8 280.4,894.9 281.0,895.1 281.5,895.2 282.1,895.3 282.6,895.4 283.2,895.5 283.8,895.6 284.3,895.7 284.9,895.8 285.4,895.8 286.0,895.9 286.5,896.0 287.1,896.1 287.6,896.2 288.2,896.3 288.8,896.3 289.3,896.4 289.9,896.5 290.4,896.6 291.0,896.6 291.5,896.7 292.1,896.8 292.6,896.8 293.2,896.9 293.8,896.9 294.3,897.0 294.9,897.0 295.4,897.1 296.0,897.1 296.5,897.2 297.1,897.2 297.6,897.2 298.2,897.3 298.8,897.3 299.3,897.3 299.9,897.4 300.4,897.4 301.0,897.4 301.5,897.4 302.1,897.4 302.6,897.4 303.2,897.4 303.8,897.5 304.3,897.5 304.9,897.5 305.4,897.5 306.0,897.5 306.5,897.5 307.1,897.5 307.6,897.5 308.2,897.5 308.8,897.5 309.3,897.4 309.9,897.4 310.4,897.4 311.0,897.4 311.5,897.4 312.1,897.4 312.6,897.4 313.2,897.4 313.8,897.3 314.3,897.3 314.9,897.3 315.4,897.3 316.0,897.2 316.5,897.2 317.1,897.2 317.6,897.1 318.2,897.1 318.8,897.1 319.3,897.0 319.9,897.0 320.4,896.9 321.0,896.9 321.5,896.8 322.1,896.8 322.6,896.7 323.2,896.7 323.8,896.6 324.3,896.5 324.9,896.5 325.4,896.4 326.0,896.3 326.5,896.3 327.1,896.2 327.6,896.1 328.2,896.0 328.8,896.0 329.3,895.9 329.9,895.8 330.4,895.7 331.0,895.6 331.5,895.6 332.1,895.5 332.6,895.4 333.2,895.3 333.8,895.2 334.3,895.1 334.9,895.1 335.4,895.0 336.0,894.9 336.5,894.8 337.1,894.7 337.6,894.6 338.2,894.5 338.8,894.4 339.3,894.3 339.9,894.2 340.4,894.1 341.0,894.0 341.5,893.9 342.1,893.8 342.6,893.6 343.2,893.5 343.8,893.4 344.3,893.3 344.9,893.2 345.4,893.0 346.0,892.9 346.5,892.8 347.1,892.7 347.6,892.5 348.2,892.4 348.8,892.3 349.3,892.1 349.9,892.0 350.4,891.9 351.0,891.7 351.5,891.6 352.1,891.4 352.6,891.3 353.2,891.1 353.8,891.0 354.3,890.9 354.9,890.7 355.4,890.6 356.0,890.4 356.5,890.3 357.1,890.1 357.6,890.0 358.2,889.8 358.8,889.7 359.3,889.5 359.9,889.4 360.4,889.3 361.0,889.1 361.5,889.0 362.1,888.8 362.6,888.7 363.2,888.6 363.8,888.4 364.3,888.3 364.9,888.2 365.4,888.1 366.0,887.9 366.5,887.8 367.1,887.7 367.6,887.5 368.2,887.4 368.8,887.3 369.3,887.2 369.9,887.1 370.4,886.9 371.0,886.8 371.5,886.7 372.1,886.6 372.6,886.5 373.2,886.4 373.8,886.3 374.3,886.1 374.9,886.0 375.4,885.9 376.0,885.8 376.5,885.7 377.1,885.6 377.6,885.5 378.2,885.4 378.8,885.3 379.3,885.2 379.9,885.1 380.4,885.0 381.0,884.9 381.5,884.8 382.1,884.7 382.6,884.6 383.2,884.5 383.7,884.4 384.3,884.3 384.9,884.2 385.4,884.1 386.0,884.1 386.5,884.0 387.1,883.9 387.6,883.8 388.2,883.8 388.7,883.7 389.3,883.7 389.9,883.7 390.4,883.6 391.0,883.6 391.5,883.6 392.1,883.5 392.6,883.5 393.2,883.5 393.7,883.5 394.3,883.5 394.9,883.5 395.4,883.5 396.0,883.5 396.5,883.4 397.1,883.4 397.6,883.4 398.2,883.4 398.7,883.4 399.3,883.4 399.9,883.4 400.4,883.4 401.0,883.4 401.5,883.4 402.1,883.3 402.6,883.3 403.2,883.3 403.7,883.3 404.3,883.2 404.9,883.2 405.4,883.2 406.0,883.1 406.5,883.1 407.1,883.0 407.6,882.9 408.2,882.9 408.7,882.8 409.3,882.7 409.9,882.6 410.4,882.5 411.0,882.4 411.5,882.3 412.1,882.2 412.6,882.1 413.2,882.0 413.7,881.9 414.3,881.8 414.9,881.7 415.4,881.5 416.0,881.4 416.5,881.3 417.1,881.2 417.6,881.1 418.2,881.0 418.7,880.8 419.3,880.7 419.9,880.6 420.4,880.5 421.0,880.4 421.5,880.3 422.1,880.1 422.6,880.0 423.2,879.9 423.7,879.8 424.3,879.7 424.9,879.6 425.4,879.5 426.0,879.4 426.5,879.3 427.1,879.2 427.6,879.1 428.2,879.0 428.7,878.9 429.3,878.8 429.9,878.7 430.4,878.6 431.0,878.5 431.5,878.4 432.1,878.3 432.6,878.3 433.2,878.2 433.7,878.1 434.3,878.0 434.9,877.9 435.4,877.8 436.0,877.8 436.5,877.7 437.1,877.6 437.6,877.5 438.2,877.5 438.7,877.4 439.3,877.3 439.9,877.3 440.4,877.3 441.0,877.3 441.5,877.3 442.1,877.3 442.6,877.4 443.2,877.4 443.7,877.5 444.3,877.6 444.9,877.7 445.4,877.8 446.0,877.9 446.5,878.1 447.1,878.2 447.6,878.4 448.2,878.6 448.7,878.8 449.3,879.0 449.9,879.2 450.4,879.4 451.0,879.6 451.5,879.8 452.1,880.1 452.6,880.3 453.2,880.5 453.7,880.8 454.3,881.0 454.9,881.2 455.4,881.5 456.0,881.7 456.5,881.9 457.1,882.2 457.6,882.4 458.2,882.7 458.7,882.9 459.3,883.2 459.9,883.4 460.4,883.7 461.0,884.0 461.5,884.2 462.1,884.5 462.6,884.8 463.2,885.0 463.7,885.3 464.3,885.6 464.9,885.9 465.4,886.2 466.0,886.4 466.5,886.7 467.1,887.0 467.6,887.3 468.2,887.6 468.7,887.9 469.3,888.2 469.9,888.4 470.4,888.7 471.0,889.0 471.5,889.3 472.1,889.5 472.6,889.8 473.2,890.1 473.7,890.3 474.3,890.6 474.9,890.8 475.4,891.0 476.0,891.3 476.5,891.5 477.1,891.7 477.6,891.9 478.2,892.1 478.7,892.3 479.3,892.5 479.9,892.7 480.4,892.9 481.0,893.0 481.5,893.2 482.1,893.4 482.6,893.5 483.2,893.6 483.7,893.8 484.3,893.9 484.9,894.0 485.4,894.1 486.0,894.2 486.5,894.3 487.1,894.4 487.6,894.4 488.2,894.5 488.7,894.6 489.3,894.6 489.9,894.7 490.4,894.7 491.0,894.8 491.5,894.8 492.1,894.9 492.6,894.9 493.2,895.0 493.7,895.0 494.3,895.0 494.8,895.1 495.4,895.1 496.0,895.2 496.5,895.2 497.1,895.3 497.6,895.3 498.2,895.4 498.7,895.4 499.3,895.5 499.8,895.6 500.4,895.6 501.0,895.7 501.5,895.8 502.1,895.9 502.6,895.9 503.2,896.0 503.7,896.1 504.3,896.2 504.8,896.2 505.4,896.3 506.0,896.4 506.5,896.5 507.1,896.6 507.6,896.7 508.2,896.8 508.7,896.9 509.3,897.0 509.8,897.1 510.4,897.2 511.0,897.3 511.5,897.4 512.1,897.6 512.6,897.7 513.2,897.9 513.7,898.0 514.3,898.2 514.8,898.4 515.4,898.6 516.0,898.7 516.5,898.9 517.1,899.1 517.6,899.3 518.2,899.5 518.7,899.7 519.3,899.8 519.8,900.0 520.4,900.2 521.0,900.4 521.5,900.6 522.1,900.8 522.6,901.0 523.2,901.2 523.7,901.4 524.3,901.5 524.8,901.7 525.4,901.9 526.0,902.1 526.5,902.3 527.1,902.4 527.6,902.6 528.2,902.8 528.7,903.0 529.3,903.1 529.8,903.3 530.4,903.5 531.0,903.6 531.5,903.8 532.1,904.0 532.6,904.2 533.2,904.3 533.7,904.5 534.3,904.7 534.8,904.8 535.4,905.0 536.0,905.2 536.5,905.3 537.1,905.5 537.6,905.6 538.2,905.8 538.7,905.9 539.3,906.1 539.8,906.2 540.4,906.4 541.0,906.5 541.5,906.7 542.1,906.8 542.6,906.9 543.2,907.0 543.7,907.1 544.3,907.2 544.8,907.3 545.4,907.4 546.0,907.4 546.5,907.5 547.1,907.6 547.6,907.6 548.2,907.7 548.7,907.7 549.3,907.8 549.8,907.8 550.4,907.8 551.0,907.8 551.5,907.9 552.1,907.9 552.6,907.9 553.2,907.9 553.7,907.9 554.3,908.0 554.8,908.0 555.4,908.0 556.0,908.0 556.5,908.0 557.1,908.0 557.6,908.0 558.2,908.0 558.7,908.0 559.3,908.0 559.8,908.0 560.4,908.0 561.0,908.0 561.5,907.9 562.1,907.9 562.6,907.9 563.2,907.9 563.7,907.8 564.3,907.8 564.8,907.8 565.4,907.7 566.0,907.7 566.5,907.7 567.1,907.6 567.6,907.6 568.2,907.6 568.7,907.5 569.3,907.5 569.8,907.4 570.4,907.4 571.0,907.4 571.5,907.3 572.1,907.3 572.6,907.2 573.2,907.2 573.7,907.2 574.3,907.1 574.8,907.1 575.4,907.1 576.0,907.1 576.5,907.0 577.1,907.0 577.6,907.0 578.2,907.0 578.7,907.0 579.3,907.0 579.8,907.0 580.4,907.0 581.0,907.0 581.5,907.0 582.1,907.0 582.6,907.0 583.2,907.0 583.7,907.0 584.3,907.1 584.8,907.1 585.4,907.1 586.0,907.2 586.5,907.2 587.1,907.3 587.6,907.3 588.2,907.4 588.7,907.4 589.3,907.5 589.8,907.6 590.4,907.7 591.0,907.7 591.5,907.8 592.1,907.9 592.6,908.0 593.2,908.1 593.7,908.2 594.3,908.3 594.8,908.4 595.4,908.5 596.0,908.6 596.5,908.7 597.1,908.9 597.6,909.0 598.2,909.1 598.7,909.3 599.3,909.4 599.8,909.6 600.4,909.7 601.0,909.9 601.5,910.0 602.1,910.2 602.6,910.4 603.2,910.5 603.7,910.7 604.3,910.9 604.8,911.0 605.4,911.2 605.9,911.3 606.5,911.5 607.1,911.7 607.6,911.8 608.2,911.9 608.7,912.1 609.3,912.2 609.8,912.3 610.4,912.5 610.9,912.6 611.5,912.7 612.1,912.8 612.6,912.9 613.2,913.0 613.7,913.1 614.3,913.2 614.8,913.2 615.4,913.3 615.9,913.4 616.5,913.5 617.1,913.6 617.6,913.6 618.2,913.7 618.7,913.8 619.3,913.8 619.8,913.9 620.4,914.0 620.9,914.0 621.5,914.1 622.1,914.1 622.6,914.2 623.2,914.2 623.7,914.2 624.3,914.3 624.8,914.3 625.4,914.4 625.9,914.4 626.5,914.4 627.1,914.5 627.6,914.5 628.2,914.5 628.7,914.6 629.3,914.6 629.8,914.6 630.4,914.6 630.9,914.7 631.5,914.7 632.1,914.7 632.6,914.7 633.2,914.8 633.7,914.8 634.3,914.8 634.8,914.8 635.4,914.8 635.9,914.9 636.5,914.9 637.1,914.9 637.6,914.9 638.2,914.9 638.7,914.9 639.3,914.9 639.8,914.9 640.4,915.0 640.9,915.0 641.5,915.0 642.1,915.0 642.6,915.0 643.2,915.0 643.7,915.0 644.3,915.0 644.8,915.0 645.4,915.0 645.9,915.0 646.5,915.0 647.1,915.0 647.6,915.0 648.2,915.0 648.7,915.0 649.3,915.0 649.8,914.9 650.4,914.9 650.9,914.9 651.5,914.9 652.1,914.9 652.6,914.9 653.2,914.9 653.7,914.8 654.3,914.8 654.8,914.8 655.4,914.8 655.9,914.8 656.5,914.7"/>
<path d="M100.2,914.2 H198.6" stroke="#FF0000" stroke-width="4.2" fill="none"/>
<text class="axb" x="81" y="920.7" text-anchor="end">0</text>
<text class="axb" x="81" y="866.3" text-anchor="end">0.5</text>
<text class="axb" x="81" y="811.9" text-anchor="end">1</text>
<text class="axb" x="81" y="757.5" text-anchor="end">1.5</text>
<text class="axb" x="81" y="703.1" text-anchor="end">2</text>
<text class="axb" x="81" y="648.7" text-anchor="end">2.5</text>
<text class="axb" x="81" y="594.3" text-anchor="end">3</text>
<text class="axb" x="101.0" y="947.0" text-anchor="middle">300</text>
<text class="axb" x="212.1" y="947.0" text-anchor="middle">400</text>
<text class="axb" x="323.2" y="947.0" text-anchor="middle">500</text>
<text class="axb" x="434.3" y="947.0" text-anchor="middle">600</text>
<text class="axb" x="545.4" y="947.0" text-anchor="middle">700</text>
<text class="axb" x="656.5" y="947.0" text-anchor="middle">800</text>
<text class="ttlb" x="388.3" y="980.1" text-anchor="middle">Wavelength (nm)</text>
<text class="ttlb" transform="translate(41,750) rotate(-90)" text-anchor="middle">Absorbance (a.u.)</text>
</g>
<g id="table-b">
<g stroke="#6e6e6e" stroke-width="1.6">
<path d="M653.0,633.6 H1323.3"/>
<path d="M653.0,683.1 H1323.3"/>
<path d="M653.0,855.0 H1323.3"/>
</g>
<text class="tbb" x="826.0" y="652.2">Dilution</text>
<text class="tbb" x="826.0" y="675.6">Ratio</text>
<text class="tbb" x="946.0" y="652.2">Absorbance</text>
<text class="tbb" x="946.0" y="675.6">(a.u.)</text>
<text class="tbb" x="1101.0" y="652.2">Concentration after</text>
<text class="tbb" x="1101.0" y="675.6">dilution (PPM)</text>
<path d="M665.3,700.1 H701.3" stroke="#3F73C2" stroke-width="1.9" fill="none"/>
<text class="tbb" x="703.8" y="706.7">Patient 1</text>
<text class="tbb" x="875.0" y="706.7" text-anchor="middle">20</text>
<text class="tbb" x="1010.4" y="706.7" text-anchor="middle">2.416</text>
<text class="tbb" x="1205.5" y="706.7" text-anchor="middle">168.75</text>
<path d="M665.3,728.4 H701.3" stroke="#ED7D31" stroke-width="1.9" fill="none"/>
<text class="tbb" x="703.8" y="735.0">Patient 2</text>
<text class="tbb" x="875.0" y="735.0" text-anchor="middle">10</text>
<text class="tbb" x="1010.4" y="735.0" text-anchor="middle">1.383</text>
<text class="tbb" x="1205.5" y="735.0" text-anchor="middle">111.26</text>
<path d="M665.3,756.8 H701.3" stroke="#A5A5A5" stroke-width="1.9" fill="none"/>
<text class="tbb" x="703.8" y="763.4">Patient 3</text>
<text class="tbb" x="875.0" y="763.4" text-anchor="middle">10</text>
<text class="tbb" x="1010.4" y="763.4" text-anchor="middle">1.851</text>
<text class="tbb" x="1205.5" y="763.4" text-anchor="middle">143.07</text>
<path d="M665.3,785.1 H701.3" stroke="#FFC000" stroke-width="1.9" fill="none"/>
<text class="tbb" x="703.8" y="791.7">Patient 4</text>
<text class="tbb" x="875.0" y="791.7" text-anchor="middle">8</text>
<text class="tbb" x="1010.4" y="791.7" text-anchor="middle">0.747</text>
<text class="tbb" x="1205.5" y="791.7" text-anchor="middle">49.67</text>
<path d="M665.3,813.4 H701.3" stroke="#7030A0" stroke-width="1.9" fill="none"/>
<text class="tbb" x="703.8" y="820.0">Patient 5</text>
<text class="tbb" x="875.0" y="820.0" text-anchor="middle">160</text>
<text class="tbb" x="1010.4" y="820.0" text-anchor="middle">0.528</text>
<text class="tbb" x="1205.5" y="820.0" text-anchor="middle">32.18</text>
<path d="M665.3,841.8 H701.3" stroke="#FF0000" stroke-width="1.9" fill="none"/>
<text class="tbb" x="703.8" y="848.4">Patient 6</text>
<text class="tbb" x="875.0" y="848.4" text-anchor="middle">2</text>
<text class="tbb" x="1010.4" y="848.4" text-anchor="middle">0.355</text>
<text class="tbb" x="1205.5" y="848.4" text-anchor="middle">19.48</text>
</g>
<text class="cap" transform="translate(660.3,1060.8) scale(0.95,1.13)">(</text>
<text class="cap b" style="font-size:36px" x="670.7" y="1060.1">b</text>
<text class="cap" transform="translate(691.5,1060.8) scale(0.95,1.13)">)</text>
</svg>
</body></html>
